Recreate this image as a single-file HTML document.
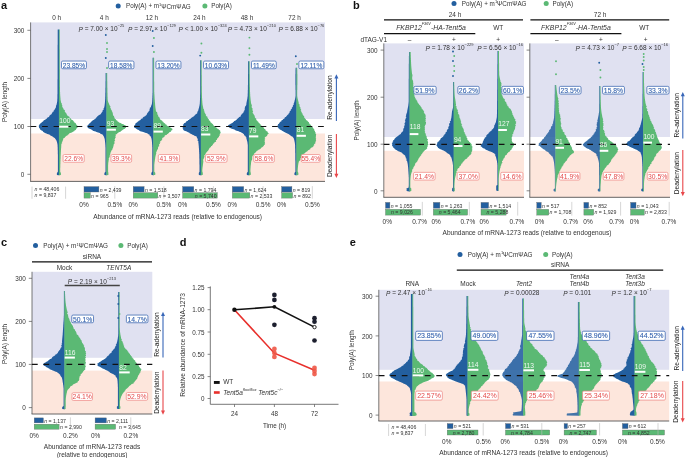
<!DOCTYPE html>
<html><head><meta charset="utf-8"><style>
html,body{margin:0;padding:0;background:#fff;width:685px;height:458px;overflow:hidden}
svg{display:block;will-change:transform}
text{font-family:"Liberation Sans", sans-serif}
</style></head><body>
<svg width="685" height="458" viewBox="0 0 685 458">
<rect width="685" height="458" fill="#fff"/>
<text x="1.00" y="4.60" font-size="11" text-anchor="start" fill="#111" font-weight="bold" dominant-baseline="central">a</text>
<circle cx="118.20" cy="6.10" r="2.5" fill="#235f9f"/>
<text x="126.00" y="5.80" font-size="6.3" text-anchor="start" fill="#333" font-weight="normal" dominant-baseline="central">Poly(A) + m<tspan font-size="4" dy="-1.8">1</tspan><tspan dy="1.8">ΨCmΨAG</tspan></text>
<circle cx="204.90" cy="6.10" r="2.5" fill="#5bb974"/>
<text x="211.20" y="5.80" font-size="6.3" text-anchor="start" fill="#333" font-weight="normal" dominant-baseline="central">Poly(A)</text>
<rect x="30.60" y="22.40" width="294.40" height="96.60" fill="#e0e1f1" rx="0"/>
<rect x="30.60" y="133.50" width="294.40" height="47.90" fill="#fde6dc" rx="0"/>
<line x1="30.60" y1="22.40" x2="30.60" y2="181.40" stroke="#555" stroke-width="0.8"/>
<line x1="27.40" y1="30.30" x2="30.60" y2="30.30" stroke="#555" stroke-width="0.7"/>
<text x="24.40" y="30.50" font-size="6.4" text-anchor="end" fill="#333" font-weight="normal" dominant-baseline="central">300</text>
<line x1="27.40" y1="78.40" x2="30.60" y2="78.40" stroke="#555" stroke-width="0.7"/>
<text x="24.40" y="78.60" font-size="6.4" text-anchor="end" fill="#333" font-weight="normal" dominant-baseline="central">200</text>
<line x1="27.40" y1="126.50" x2="30.60" y2="126.50" stroke="#555" stroke-width="0.7"/>
<text x="24.40" y="126.70" font-size="6.4" text-anchor="end" fill="#333" font-weight="normal" dominant-baseline="central">100</text>
<line x1="27.40" y1="174.30" x2="30.60" y2="174.30" stroke="#555" stroke-width="0.7"/>
<text x="24.40" y="174.50" font-size="6.4" text-anchor="end" fill="#333" font-weight="normal" dominant-baseline="central">0</text>
<line x1="30.20" y1="181.40" x2="325.00" y2="181.40" stroke="#555" stroke-width="0.9"/>
<text x="4.00" y="102.00" font-size="6.4" text-anchor="middle" fill="#333" font-weight="normal" transform="rotate(-90 4.0 102)" dominant-baseline="central">Poly(A) length</text>
<text x="56.70" y="17.60" font-size="6.4" text-anchor="middle" fill="#333" font-weight="normal" dominant-baseline="central">0 h</text>
<text x="104.30" y="17.60" font-size="6.4" text-anchor="middle" fill="#333" font-weight="normal" dominant-baseline="central">4 h</text>
<text x="151.90" y="17.60" font-size="6.4" text-anchor="middle" fill="#333" font-weight="normal" dominant-baseline="central">12 h</text>
<text x="199.40" y="17.60" font-size="6.4" text-anchor="middle" fill="#333" font-weight="normal" dominant-baseline="central">24 h</text>
<text x="247.00" y="17.60" font-size="6.4" text-anchor="middle" fill="#333" font-weight="normal" dominant-baseline="central">48 h</text>
<text x="294.60" y="17.60" font-size="6.4" text-anchor="middle" fill="#333" font-weight="normal" dominant-baseline="central">72 h</text>
<path d="M59.25,29.50 L57.7,29.5 57.7,30.0 57.7,30.5 57.7,31.0 57.7,31.5 57.7,32.0 57.7,32.5 57.7,33.0 57.7,33.5 57.7,34.0 57.7,34.5 57.7,35.0 57.7,35.5 57.7,36.0 57.7,36.5 57.7,37.0 57.7,37.5 57.7,38.0 57.7,38.5 57.7,39.0 57.7,39.5 57.7,40.0 57.7,40.5 57.7,41.0 57.7,41.5 57.7,42.0 57.7,42.5 57.7,43.0 57.7,43.5 57.7,44.0 57.7,44.5 57.6,45.0 57.6,45.5 57.6,46.0 57.6,46.5 57.6,47.0 57.6,47.5 57.6,48.0 57.6,48.5 57.6,49.0 57.6,49.5 57.6,50.0 57.6,50.5 57.6,51.0 57.6,51.5 57.6,52.0 57.6,52.5 57.6,53.0 57.6,53.5 57.6,54.0 57.6,54.5 57.6,55.0 57.6,55.5 57.6,56.0 57.6,56.5 57.6,57.0 57.6,57.5 57.6,58.0 57.6,58.5 57.6,59.0 57.6,59.5 57.6,60.0 57.6,60.5 57.6,61.0 57.6,61.5 57.6,62.0 57.6,62.5 57.6,63.0 57.6,63.5 57.6,64.0 57.6,64.5 57.6,65.0 57.6,65.5 57.6,66.0 57.6,66.5 57.6,67.0 57.6,67.5 57.6,68.0 57.6,68.5 57.6,69.0 57.6,69.5 57.6,70.0 57.6,70.5 57.6,71.0 57.6,71.5 57.6,72.0 57.6,72.5 57.6,73.0 57.6,73.5 57.6,74.0 57.6,74.5 57.6,75.0 57.6,75.5 57.6,76.0 57.6,76.5 57.6,77.0 57.6,77.5 57.6,78.0 57.6,78.5 57.6,79.0 57.5,79.5 57.5,80.0 57.5,80.5 57.5,81.0 57.5,81.5 57.5,82.0 57.5,82.5 57.5,83.0 57.5,83.5 57.5,84.0 57.5,84.5 57.5,85.0 57.5,85.5 57.5,86.0 57.5,86.5 57.5,87.0 57.5,87.5 57.5,88.0 57.5,88.5 57.5,89.0 57.5,89.5 57.5,90.0 57.5,90.5 57.5,91.0 57.5,91.5 57.5,92.0 57.5,92.5 57.5,93.0 57.5,93.5 57.5,94.0 57.4,94.5 57.4,95.0 57.4,95.5 57.4,96.0 57.4,96.5 57.4,97.0 57.4,97.5 57.4,98.0 57.4,98.5 57.3,99.0 57.3,99.5 57.3,100.0 57.3,100.5 57.2,101.0 57.2,101.5 57.1,102.0 57.0,102.5 56.9,103.0 56.8,103.5 56.7,104.0 56.6,104.5 56.5,105.0 56.1,105.5 56.0,106.0 55.9,106.5 56.2,107.0 55.7,107.5 55.6,108.0 55.1,108.5 55.1,109.0 54.5,109.5 54.5,110.0 53.5,110.5 54.0,111.0 53.5,111.5 52.4,112.0 52.7,112.5 51.8,113.0 51.8,113.5 51.9,114.0 50.9,114.5 50.3,115.0 49.8,115.5 49.1,116.0 49.4,116.5 48.7,117.0 47.8,117.5 46.7,118.0 47.0,118.5 46.3,119.0 45.4,119.5 44.5,120.0 43.5,120.5 43.6,121.0 42.8,121.5 42.3,122.0 41.5,122.5 41.3,123.0 40.1,123.5 40.3,124.0 39.5,124.5 39.0,125.0 39.2,125.5 38.6,126.0 39.0,126.5 38.9,127.0 39.0,127.5 39.2,128.0 39.8,128.5 40.2,129.0 40.2,129.5 40.6,130.0 41.7,130.5 42.8,131.0 42.9,131.5 43.3,132.0 44.2,132.5 45.0,133.0 46.3,133.5 47.4,134.0 49.2,134.5 50.0,135.0 50.4,135.5 51.6,136.0 52.5,136.5 53.3,137.0 53.7,137.5 54.7,138.0 55.2,138.5 55.2,139.0 55.9,139.5 56.2,140.0 56.4,140.5 56.6,141.0 56.8,141.5 56.9,142.0 57.1,142.5 57.2,143.0 57.3,143.5 57.4,144.0 57.5,144.5 57.5,145.0 57.6,145.5 57.6,146.0 57.6,146.5 57.6,147.0 57.7,147.5 57.7,148.0 57.7,148.5 57.7,149.0 57.7,149.5 57.7,150.0 57.8,150.5 57.8,151.0 57.8,151.5 57.8,152.0 57.8,152.5 57.8,153.0 57.8,153.5 57.8,154.0 57.9,154.5 57.9,155.0 57.9,155.5 57.9,156.0 57.9,156.5 57.9,157.0 57.9,157.5 57.9,158.0 57.9,158.5 57.9,159.0 57.9,159.5 57.9,160.0 57.9,160.5 57.9,161.0 57.9,161.5 57.9,162.0 57.9,162.5 57.9,163.0 57.9,163.5 57.9,164.0 57.9,164.5 57.9,165.0 57.9,165.5 57.9,166.0 57.9,166.5 57.9,167.0 57.9,167.5 57.9,168.0 57.9,168.5 57.9,169.0 57.9,169.5 57.9,170.0 57.9,170.5 57.9,171.0 57.9,171.5 57.7,172.0 57.3,172.5 56.9,173.0 56.9,173.5 56.9,174.0 56.9,174.5 56.9,175.0 58.6,175.3 L59.25,175.30 Z" fill="#235f9f"/>
<path d="M58.90,29.50 L59.6,29.5 59.6,30.0 59.6,30.5 59.6,31.0 59.6,31.5 59.6,32.0 59.6,32.5 59.6,33.0 59.6,33.5 59.6,34.0 59.6,34.5 59.6,35.0 59.6,35.5 59.6,36.0 59.6,36.5 59.6,37.0 59.6,37.5 59.6,38.0 59.6,38.5 59.6,39.0 59.6,39.5 59.6,40.0 59.6,40.5 59.6,41.0 59.6,41.5 59.6,42.0 59.6,42.5 59.6,43.0 59.6,43.5 59.6,44.0 59.6,44.5 59.6,45.0 59.6,45.5 59.6,46.0 59.6,46.5 59.6,47.0 59.6,47.5 59.6,48.0 59.6,48.5 59.6,49.0 59.7,49.5 59.7,50.0 59.7,50.5 59.7,51.0 59.7,51.5 59.7,52.0 59.7,52.5 59.7,53.0 59.7,53.5 59.7,54.0 59.7,54.5 59.7,55.0 59.7,55.5 59.7,56.0 59.7,56.5 59.7,57.0 59.7,57.5 59.7,58.0 59.7,58.5 59.7,59.0 59.7,59.5 59.7,60.0 59.7,60.5 59.7,61.0 59.7,61.5 59.7,62.0 59.7,62.5 59.7,63.0 59.7,63.5 59.7,64.0 59.7,64.5 59.7,65.0 59.7,65.5 59.7,66.0 59.7,66.5 59.7,67.0 59.7,67.5 59.7,68.0 59.7,68.5 59.7,69.0 59.8,69.5 59.8,70.0 59.8,70.5 59.8,71.0 59.8,71.5 59.8,72.0 59.8,72.5 59.8,73.0 59.8,73.5 59.8,74.0 59.8,74.5 59.8,75.0 59.8,75.5 59.8,76.0 59.8,76.5 59.8,77.0 59.8,77.5 59.8,78.0 59.8,78.5 59.8,79.0 59.8,79.5 59.8,80.0 59.9,80.5 59.9,81.0 59.9,81.5 59.9,82.0 59.9,82.5 59.9,83.0 59.9,83.5 59.9,84.0 59.9,84.5 59.9,85.0 59.9,85.5 59.9,86.0 59.9,86.5 59.9,87.0 60.0,87.5 60.0,88.0 60.0,88.5 60.0,89.0 60.0,89.5 60.0,90.0 60.0,90.5 60.0,91.0 60.0,91.5 60.1,92.0 60.1,92.5 60.1,93.0 60.1,93.5 60.1,94.0 60.2,94.5 60.2,95.0 60.2,95.5 60.3,96.0 60.3,96.5 60.3,97.0 60.4,97.5 60.4,98.0 60.5,98.5 60.5,99.0 60.5,99.5 60.6,100.0 60.7,100.5 60.8,101.0 60.9,101.5 61.0,102.0 61.1,102.5 61.3,103.0 62.0,103.5 61.5,104.0 61.9,104.5 62.2,105.0 62.2,105.5 62.4,106.0 62.1,106.5 62.4,107.0 62.8,107.5 62.8,108.0 63.7,108.5 63.1,109.0 63.9,109.5 64.5,110.0 64.9,110.5 65.1,111.0 64.7,111.5 64.9,112.0 65.6,112.5 66.1,113.0 66.3,113.5 66.7,114.0 66.8,114.5 66.9,115.0 67.4,115.5 68.0,116.0 68.9,116.5 69.6,117.0 69.4,117.5 70.0,118.0 70.9,118.5 70.9,119.0 71.2,119.5 72.4,120.0 73.0,120.5 73.5,121.0 73.6,121.5 74.5,122.0 74.1,122.5 75.6,123.0 75.7,123.5 76.2,124.0 76.2,124.5 76.6,125.0 77.1,125.5 77.6,126.0 77.8,126.5 77.6,127.0 77.4,127.5 77.3,128.0 76.2,128.5 76.4,129.0 75.8,129.5 75.8,130.0 74.3,130.5 74.6,131.0 73.4,131.5 72.6,132.0 71.9,132.5 70.2,133.0 69.1,133.5 69.0,134.0 68.3,134.5 67.6,135.0 67.4,135.5 66.0,136.0 65.8,136.5 65.0,137.0 65.0,137.5 64.1,138.0 63.2,138.5 63.2,139.0 63.1,139.5 63.1,140.0 62.8,140.5 62.4,141.0 62.6,141.5 61.9,142.0 61.8,142.5 62.4,143.0 61.7,143.5 61.3,144.0 61.5,144.5 61.0,145.0 61.4,145.5 61.3,146.0 61.2,146.5 61.2,147.0 61.2,147.5 61.1,148.0 61.1,148.5 61.0,149.0 61.0,149.5 61.0,150.0 60.9,150.5 60.9,151.0 60.9,151.5 60.8,152.0 60.8,152.5 60.8,153.0 60.8,153.5 60.7,154.0 60.7,154.5 60.7,155.0 60.7,155.5 60.6,156.0 60.6,156.5 60.6,157.0 60.6,157.5 60.6,158.0 60.6,158.5 60.5,159.0 60.5,159.5 60.5,160.0 60.5,160.5 60.5,161.0 60.4,161.5 60.4,162.0 60.4,162.5 60.4,163.0 60.4,163.5 60.4,164.0 60.3,164.5 60.3,165.0 60.3,165.5 60.3,166.0 60.3,166.5 60.3,167.0 60.3,167.5 60.2,168.0 60.2,168.5 60.2,169.0 60.2,169.5 60.2,170.0 60.2,170.5 60.2,171.0 60.2,171.5 60.3,172.0 60.6,172.5 60.9,173.0 60.9,173.5 60.9,174.0 60.9,174.5 60.9,175.0 59.2,175.3 L58.90,175.30 Z" fill="#5bb974"/>
<path d="M106.75,73.00 L105.6,73.0 105.6,73.5 105.6,74.0 105.6,74.5 105.6,75.0 105.6,75.5 105.6,76.0 105.6,76.5 105.6,77.0 105.6,77.5 105.6,78.0 105.6,78.5 105.6,79.0 105.6,79.5 105.6,80.0 105.6,80.5 105.6,81.0 105.5,81.5 105.5,82.0 105.5,82.5 105.5,83.0 105.5,83.5 105.5,84.0 105.5,84.5 105.5,85.0 105.5,85.5 105.5,86.0 105.5,86.5 105.5,87.0 105.5,87.5 105.4,88.0 105.4,88.5 105.4,89.0 105.4,89.5 105.4,90.0 105.4,90.5 105.4,91.0 105.4,91.5 105.4,92.0 105.4,92.5 105.3,93.0 105.3,93.5 105.3,94.0 105.3,94.5 105.3,95.0 105.3,95.5 105.3,96.0 105.3,96.5 105.2,97.0 105.2,97.5 105.2,98.0 105.2,98.5 105.2,99.0 105.1,99.5 105.1,100.0 105.1,100.5 105.0,101.0 105.0,101.5 105.0,102.0 104.9,102.5 104.9,103.0 104.8,103.5 104.8,104.0 104.7,104.5 104.6,105.0 104.6,105.5 104.5,106.0 104.4,106.5 104.3,107.0 104.2,107.5 104.0,108.0 103.5,108.5 103.5,109.0 103.9,109.5 102.9,110.0 102.6,110.5 102.6,111.0 102.7,111.5 101.9,112.0 102.0,112.5 101.1,113.0 101.3,113.5 100.7,114.0 100.3,114.5 99.1,115.0 98.4,115.5 97.9,116.0 97.0,116.5 97.4,117.0 96.1,117.5 96.1,118.0 95.6,118.5 94.9,119.0 94.3,119.5 93.5,120.0 92.4,120.5 92.3,121.0 91.4,121.5 91.0,122.0 90.4,122.5 90.4,123.0 89.2,123.5 89.0,124.0 88.5,124.5 88.1,125.0 87.8,125.5 86.6,126.0 87.2,126.5 87.5,127.0 87.6,127.5 88.2,128.0 88.8,128.5 90.4,129.0 91.3,129.5 92.2,130.0 92.6,130.5 93.5,131.0 95.6,131.5 96.5,132.0 98.0,132.5 99.8,133.0 100.1,133.5 101.1,134.0 102.5,134.5 102.9,135.0 103.2,135.5 103.4,136.0 103.9,136.5 103.9,137.0 104.2,137.5 104.4,138.0 104.5,138.5 104.7,139.0 104.8,139.5 104.8,140.0 104.9,140.5 105.0,141.0 105.0,141.5 105.1,142.0 105.1,142.5 105.2,143.0 105.2,143.5 105.3,144.0 105.3,144.5 105.3,145.0 105.4,145.5 105.4,146.0 105.4,146.5 105.4,147.0 105.5,147.5 105.5,148.0 105.5,148.5 105.5,149.0 105.5,149.5 105.5,150.0 105.5,150.5 105.5,151.0 105.5,151.5 105.5,152.0 105.5,152.5 105.5,153.0 105.5,153.5 105.5,154.0 105.5,154.5 105.5,155.0 105.5,155.5 105.5,156.0 105.5,156.5 105.5,157.0 105.5,157.5 105.5,158.0 105.5,158.5 105.5,159.0 105.5,159.5 105.5,160.0 105.5,160.5 105.5,161.0 105.5,161.5 105.5,162.0 105.5,162.5 105.5,163.0 105.5,163.5 105.5,164.0 105.5,164.5 105.5,165.0 105.5,165.5 105.5,166.0 105.5,166.5 105.5,167.0 105.5,167.5 105.5,168.0 105.5,168.5 105.5,169.0 105.5,169.5 105.5,170.0 105.5,170.5 105.5,171.0 105.5,171.5 105.3,172.0 104.8,172.5 104.4,173.0 104.4,173.5 104.4,174.0 104.4,174.5 104.4,175.0 106.1,175.3 L106.75,175.30 Z" fill="#235f9f"/>
<path d="M106.40,73.00 L107.2,73.0 107.2,73.5 107.2,74.0 107.2,74.5 107.2,75.0 107.2,75.5 107.2,76.0 107.2,76.5 107.2,77.0 107.2,77.5 107.2,78.0 107.2,78.5 107.2,79.0 107.2,79.5 107.2,80.0 107.2,80.5 107.2,81.0 107.3,81.5 107.3,82.0 107.3,82.5 107.3,83.0 107.3,83.5 107.3,84.0 107.3,84.5 107.3,85.0 107.3,85.5 107.3,86.0 107.3,86.5 107.3,87.0 107.3,87.5 107.4,88.0 107.4,88.5 107.4,89.0 107.4,89.5 107.4,90.0 107.4,90.5 107.4,91.0 107.4,91.5 107.4,92.0 107.4,92.5 107.5,93.0 107.5,93.5 107.5,94.0 107.5,94.5 107.5,95.0 107.5,95.5 107.5,96.0 107.5,96.5 107.6,97.0 107.6,97.5 107.6,98.0 107.6,98.5 107.6,99.0 107.7,99.5 107.7,100.0 107.8,100.5 107.9,101.0 108.0,101.5 108.2,102.0 108.4,102.5 108.6,103.0 108.9,103.5 109.0,104.0 108.9,104.5 110.1,105.0 109.5,105.5 109.8,106.0 110.7,106.5 110.3,107.0 110.1,107.5 110.6,108.0 110.6,108.5 111.2,109.0 110.7,109.5 111.7,110.0 111.7,110.5 111.7,111.0 112.1,111.5 112.4,112.0 112.6,112.5 112.6,113.0 112.8,113.5 113.1,114.0 112.8,114.5 113.0,115.0 113.1,115.5 114.0,116.0 114.0,116.5 114.3,117.0 114.4,117.5 114.4,118.0 114.8,118.5 115.2,119.0 116.1,119.5 116.0,120.0 116.9,120.5 117.7,121.0 117.4,121.5 118.9,122.0 118.7,122.5 120.6,123.0 121.2,123.5 122.3,124.0 123.9,124.5 124.3,125.0 125.6,125.5 126.0,126.0 126.0,126.5 125.9,127.0 126.1,127.5 125.5,128.0 125.0,128.5 124.4,129.0 123.1,129.5 122.5,130.0 121.9,130.5 121.1,131.0 120.8,131.5 119.7,132.0 118.3,132.5 118.2,133.0 117.0,133.5 117.0,134.0 115.7,134.5 115.5,135.0 115.8,135.5 115.9,136.0 115.2,136.5 115.6,137.0 115.9,137.5 115.0,138.0 115.2,138.5 114.9,139.0 114.7,139.5 114.6,140.0 115.3,140.5 114.6,141.0 114.3,141.5 114.6,142.0 114.3,142.5 114.7,143.0 114.4,143.5 114.2,144.0 113.8,144.5 113.3,145.0 113.8,145.5 113.4,146.0 113.5,146.5 112.9,147.0 113.2,147.5 113.0,148.0 112.3,148.5 112.8,149.0 112.2,149.5 112.0,150.0 111.3,150.5 111.5,151.0 110.9,151.5 110.9,152.0 110.6,152.5 110.4,153.0 110.4,153.5 110.3,154.0 110.3,154.5 109.8,155.0 109.7,155.5 109.9,156.0 109.6,156.5 109.7,157.0 109.1,157.5 109.3,158.0 108.5,158.5 108.9,159.0 108.8,159.5 108.7,160.0 108.6,160.5 108.6,161.0 108.5,161.5 108.4,162.0 108.3,162.5 108.3,163.0 108.2,163.5 108.2,164.0 108.2,164.5 108.1,165.0 108.1,165.5 108.1,166.0 108.1,166.5 108.1,167.0 108.1,167.5 108.1,168.0 108.1,168.5 108.1,169.0 108.1,169.5 108.1,170.0 108.1,170.5 108.1,171.0 108.1,171.5 108.2,172.0 108.3,172.5 108.4,173.0 108.4,173.5 108.4,174.0 108.4,174.5 108.4,175.0 106.7,175.3 L106.40,175.30 Z" fill="#5bb974"/>
<circle cx="105.80" cy="35.00" r="0.95" fill="#235f9f"/>
<circle cx="107.00" cy="43.00" r="0.95" fill="#5bb974"/>
<circle cx="107.00" cy="49.00" r="0.95" fill="#5bb974"/>
<circle cx="107.00" cy="52.00" r="0.95" fill="#5bb974"/>
<circle cx="105.80" cy="58.00" r="0.95" fill="#235f9f"/>
<circle cx="107.00" cy="68.00" r="0.95" fill="#5bb974"/>
<path d="M153.65,57.80 L152.6,57.8 152.6,58.3 152.6,58.8 152.6,59.3 152.6,59.8 152.6,60.3 152.6,60.8 152.6,61.3 152.6,61.8 152.6,62.3 152.6,62.8 152.6,63.3 152.6,63.8 152.6,64.3 152.6,64.8 152.6,65.3 152.6,65.8 152.6,66.3 152.6,66.8 152.6,67.3 152.6,67.8 152.6,68.3 152.6,68.8 152.6,69.3 152.6,69.8 152.6,70.3 152.6,70.8 152.6,71.3 152.6,71.8 152.6,72.3 152.6,72.8 152.6,73.3 152.6,73.8 152.6,74.3 152.6,74.8 152.6,75.3 152.6,75.8 152.6,76.3 152.6,76.8 152.6,77.3 152.6,77.8 152.6,78.3 152.6,78.8 152.6,79.3 152.6,79.8 152.6,80.3 152.6,80.8 152.6,81.3 152.6,81.8 152.6,82.3 152.6,82.8 152.6,83.3 152.6,83.8 152.6,84.3 152.6,84.8 152.6,85.3 152.6,85.8 152.6,86.3 152.6,86.8 152.6,87.3 152.6,87.8 152.6,88.3 152.6,88.8 152.6,89.3 152.6,89.8 152.6,90.3 152.6,90.8 152.6,91.3 152.6,91.8 152.6,92.3 152.6,92.8 152.5,93.3 152.5,93.8 152.5,94.3 152.5,94.8 152.5,95.3 152.4,95.8 152.4,96.3 152.4,96.8 152.4,97.3 152.4,97.8 152.3,98.3 152.3,98.8 152.3,99.3 152.3,99.8 152.2,100.3 152.2,100.8 152.2,101.3 152.1,101.8 152.1,102.3 152.0,102.8 152.0,103.3 151.9,103.8 151.8,104.3 151.6,104.8 151.4,105.3 151.2,105.8 151.0,106.3 151.0,106.8 150.9,107.3 149.8,107.8 149.9,108.3 149.8,108.8 149.6,109.3 149.5,109.8 149.5,110.3 149.5,110.8 148.4,111.3 148.8,111.8 148.1,112.3 147.6,112.8 147.3,113.3 147.0,113.8 146.7,114.3 146.8,114.8 146.2,115.3 145.5,115.8 145.1,116.3 143.9,116.8 143.2,117.3 142.7,117.8 142.9,118.3 141.4,118.8 140.9,119.3 140.5,119.8 140.1,120.3 138.7,120.8 138.5,121.3 137.6,121.8 137.3,122.3 136.4,122.8 136.0,123.3 135.1,123.8 135.5,124.3 135.0,124.8 134.9,125.3 133.9,125.8 134.4,126.3 133.9,126.8 134.1,127.3 134.6,127.8 135.7,128.3 136.3,128.8 136.9,129.3 138.0,129.8 139.1,130.3 139.4,130.8 140.3,131.3 142.4,131.8 144.0,132.3 145.1,132.8 147.1,133.3 147.8,133.8 148.4,134.3 149.7,134.8 149.4,135.3 149.9,135.8 150.2,136.3 151.2,136.8 151.0,137.3 151.2,137.8 151.4,138.3 151.5,138.8 151.6,139.3 151.7,139.8 151.8,140.3 151.8,140.8 151.9,141.3 151.9,141.8 152.0,142.3 152.0,142.8 152.0,143.3 152.1,143.8 152.1,144.3 152.1,144.8 152.2,145.3 152.2,145.8 152.2,146.3 152.2,146.8 152.3,147.3 152.3,147.8 152.3,148.3 152.3,148.8 152.3,149.3 152.3,149.8 152.3,150.3 152.3,150.8 152.3,151.3 152.3,151.8 152.3,152.3 152.3,152.8 152.3,153.3 152.3,153.8 152.3,154.3 152.3,154.8 152.3,155.3 152.3,155.8 152.3,156.3 152.3,156.8 152.3,157.3 152.3,157.8 152.3,158.3 152.3,158.8 152.3,159.3 152.3,159.8 152.3,160.3 152.3,160.8 152.3,161.3 152.3,161.8 152.3,162.3 152.3,162.8 152.3,163.3 152.3,163.8 152.3,164.3 152.3,164.8 152.3,165.3 152.3,165.8 152.3,166.3 152.3,166.8 152.3,167.3 152.3,167.8 152.3,168.3 152.3,168.8 152.3,169.3 152.3,169.8 152.3,170.3 152.3,170.8 152.3,171.3 152.2,171.8 151.8,172.3 151.4,172.8 151.3,173.3 151.3,173.8 151.3,174.3 151.3,174.8 153.0,175.3 153.0,175.3 L153.65,175.30 Z" fill="#235f9f"/>
<path d="M153.30,57.80 L154.1,57.8 154.1,58.3 154.1,58.8 154.1,59.3 154.1,59.8 154.1,60.3 154.1,60.8 154.1,61.3 154.1,61.8 154.1,62.3 154.1,62.8 154.1,63.3 154.1,63.8 154.1,64.3 154.1,64.8 154.1,65.3 154.1,65.8 154.1,66.3 154.1,66.8 154.1,67.3 154.1,67.8 154.1,68.3 154.1,68.8 154.1,69.3 154.1,69.8 154.1,70.3 154.1,70.8 154.1,71.3 154.1,71.8 154.1,72.3 154.1,72.8 154.1,73.3 154.1,73.8 154.1,74.3 154.1,74.8 154.1,75.3 154.1,75.8 154.1,76.3 154.1,76.8 154.1,77.3 154.1,77.8 154.1,78.3 154.1,78.8 154.1,79.3 154.1,79.8 154.1,80.3 154.1,80.8 154.1,81.3 154.2,81.8 154.2,82.3 154.2,82.8 154.2,83.3 154.2,83.8 154.2,84.3 154.2,84.8 154.2,85.3 154.2,85.8 154.2,86.3 154.2,86.8 154.2,87.3 154.2,87.8 154.2,88.3 154.2,88.8 154.2,89.3 154.2,89.8 154.2,90.3 154.2,90.8 154.2,91.3 154.2,91.8 154.3,92.3 154.3,92.8 154.3,93.3 154.3,93.8 154.4,94.3 154.4,94.8 154.4,95.3 154.5,95.8 154.5,96.3 154.5,96.8 154.5,97.3 154.6,97.8 154.6,98.3 154.6,98.8 154.7,99.3 154.7,99.8 154.8,100.3 154.8,100.8 154.8,101.3 154.9,101.8 154.9,102.3 155.0,102.8 155.0,103.3 155.1,103.8 155.1,104.3 155.1,104.8 155.2,105.3 155.2,105.8 155.3,106.3 155.3,106.8 155.4,107.3 155.4,107.8 155.5,108.3 155.6,108.8 155.7,109.3 155.8,109.8 155.6,110.3 156.1,110.8 156.1,111.3 156.2,111.8 157.1,112.3 157.3,112.8 157.0,113.3 157.7,113.8 156.9,114.3 158.2,114.8 158.2,115.3 158.0,115.8 158.0,116.3 158.8,116.8 159.2,117.3 159.6,117.8 159.6,118.3 160.0,118.8 160.0,119.3 160.6,119.8 161.3,120.3 162.2,120.8 162.2,121.3 163.1,121.8 163.6,122.3 163.6,122.8 164.6,123.3 165.3,123.8 165.3,124.3 166.7,124.8 166.5,125.3 167.2,125.8 168.0,126.3 168.7,126.8 169.9,127.3 170.9,127.8 171.4,128.3 172.3,128.8 172.4,129.3 172.4,129.8 172.1,130.3 170.7,130.8 171.2,131.3 170.7,131.8 169.3,132.3 169.1,132.8 168.4,133.3 168.1,133.8 166.9,134.3 167.0,134.8 165.2,135.3 164.6,135.8 164.7,136.3 164.3,136.8 163.8,137.3 162.7,137.8 162.0,138.3 162.4,138.8 162.3,139.3 161.9,139.8 161.5,140.3 161.4,140.8 160.4,141.3 160.0,141.8 160.6,142.3 159.7,142.8 159.9,143.3 160.0,143.8 158.9,144.3 159.3,144.8 159.0,145.3 159.3,145.8 159.1,146.3 158.2,146.8 158.2,147.3 157.9,147.8 158.0,148.3 158.1,148.8 157.5,149.3 157.5,149.8 157.0,150.3 156.9,150.8 156.7,151.3 156.5,151.8 156.2,152.3 156.1,152.8 156.3,153.3 156.2,153.8 155.7,154.3 156.1,154.8 155.7,155.3 155.6,155.8 155.5,156.3 155.4,156.8 155.3,157.3 155.2,157.8 155.2,158.3 155.1,158.8 155.0,159.3 154.9,159.8 154.9,160.3 154.8,160.8 154.7,161.3 154.7,161.8 154.6,162.3 154.5,162.8 154.5,163.3 154.4,163.8 154.4,164.3 154.3,164.8 154.3,165.3 154.3,165.8 154.3,166.3 154.3,166.8 154.3,167.3 154.3,167.8 154.3,168.3 154.3,168.8 154.3,169.3 154.3,169.8 154.3,170.3 154.3,170.8 154.3,171.3 154.4,171.8 154.8,172.3 155.2,172.8 155.3,173.3 155.3,173.8 155.3,174.3 155.3,174.8 153.6,175.3 153.6,175.3 L153.30,175.30 Z" fill="#5bb974"/>
<circle cx="152.70" cy="31.00" r="0.95" fill="#235f9f"/>
<circle cx="153.90" cy="38.00" r="0.95" fill="#5bb974"/>
<circle cx="152.70" cy="46.00" r="0.95" fill="#235f9f"/>
<circle cx="153.90" cy="52.00" r="0.95" fill="#5bb974"/>
<path d="M201.15,60.20 L200.2,60.2 200.2,60.7 200.2,61.2 200.2,61.7 200.2,62.2 200.2,62.7 200.2,63.2 200.2,63.7 200.2,64.2 200.2,64.7 200.2,65.2 200.2,65.7 200.2,66.2 200.2,66.7 200.2,67.2 200.2,67.7 200.2,68.2 200.2,68.7 200.2,69.2 200.2,69.7 200.2,70.2 200.2,70.7 200.2,71.2 200.2,71.7 200.2,72.2 200.2,72.7 200.2,73.2 200.2,73.7 200.2,74.2 200.2,74.7 200.2,75.2 200.2,75.7 200.2,76.2 200.2,76.7 200.2,77.2 200.2,77.7 200.2,78.2 200.2,78.7 200.2,79.2 200.2,79.7 200.2,80.2 200.2,80.7 200.2,81.2 200.2,81.7 200.2,82.2 200.2,82.7 200.2,83.2 200.2,83.7 200.2,84.2 200.2,84.7 200.2,85.2 200.2,85.7 200.2,86.2 200.2,86.7 200.2,87.2 200.2,87.7 200.2,88.2 200.2,88.7 200.2,89.2 200.2,89.7 200.2,90.2 200.2,90.7 200.2,91.2 200.2,91.7 200.2,92.2 200.2,92.7 200.2,93.2 200.2,93.7 200.2,94.2 200.1,94.7 200.1,95.2 200.1,95.7 200.1,96.2 200.1,96.7 200.1,97.2 200.1,97.7 200.0,98.2 200.0,98.7 200.0,99.2 200.0,99.7 200.0,100.2 199.9,100.7 199.9,101.2 199.9,101.7 199.9,102.2 199.8,102.7 199.8,103.2 199.8,103.7 199.7,104.2 199.6,104.7 199.5,105.2 199.5,105.7 199.3,106.2 199.2,106.7 199.1,107.2 199.0,107.7 198.8,108.2 198.7,108.7 198.6,109.2 198.4,109.7 197.8,110.2 198.6,110.7 197.8,111.2 197.4,111.7 197.1,112.2 197.5,112.7 197.2,113.2 196.7,113.7 195.6,114.2 195.4,114.7 194.7,115.2 194.4,115.7 194.0,116.2 193.0,116.7 192.3,117.2 191.5,117.7 191.0,118.2 190.6,118.7 189.3,119.2 189.4,119.7 187.8,120.2 188.0,120.7 186.7,121.2 185.9,121.7 186.1,122.2 185.2,122.7 184.1,123.2 183.8,123.7 183.8,124.2 182.7,124.7 183.3,125.2 183.2,125.7 182.3,126.2 182.5,126.7 182.9,127.2 182.6,127.7 182.5,128.2 183.2,128.7 183.3,129.2 183.1,129.7 183.7,130.2 184.5,130.7 186.1,131.2 187.2,131.7 188.0,132.2 189.4,132.7 189.6,133.2 190.7,133.7 191.8,134.2 192.5,134.7 193.9,135.2 194.4,135.7 196.0,136.2 196.8,136.7 196.7,137.2 197.1,137.7 197.0,138.2 197.9,138.7 197.7,139.2 197.8,139.7 197.5,140.2 197.7,140.7 198.4,141.2 198.4,141.7 198.3,142.2 198.4,142.7 198.5,143.2 198.5,143.7 198.6,144.2 198.6,144.7 198.7,145.2 198.7,145.7 198.8,146.2 198.8,146.7 198.8,147.2 198.9,147.7 198.9,148.2 199.0,148.7 199.0,149.2 199.0,149.7 199.1,150.2 199.1,150.7 199.1,151.2 199.1,151.7 199.2,152.2 199.2,152.7 199.2,153.2 199.2,153.7 199.3,154.2 199.3,154.7 199.3,155.2 199.3,155.7 199.3,156.2 199.3,156.7 199.3,157.2 199.3,157.7 199.3,158.2 199.4,158.7 199.4,159.2 199.4,159.7 199.4,160.2 199.4,160.7 199.4,161.2 199.4,161.7 199.4,162.2 199.4,162.7 199.4,163.2 199.4,163.7 199.4,164.2 199.5,164.7 199.5,165.2 199.5,165.7 199.5,166.2 199.5,166.7 199.5,167.2 199.5,167.7 199.5,168.2 199.5,168.7 199.5,169.2 199.5,169.7 199.5,170.2 199.5,170.7 199.5,171.2 199.5,171.7 199.2,172.2 198.9,172.7 198.8,173.2 198.8,173.7 198.8,174.2 198.8,174.7 199.8,175.2 200.5,175.3 L201.15,175.30 Z" fill="#235f9f"/>
<path d="M200.80,60.20 L201.6,60.2 201.6,60.7 201.6,61.2 201.6,61.7 201.6,62.2 201.6,62.7 201.6,63.2 201.6,63.7 201.6,64.2 201.6,64.7 201.6,65.2 201.6,65.7 201.6,66.2 201.6,66.7 201.6,67.2 201.6,67.7 201.6,68.2 201.6,68.7 201.6,69.2 201.6,69.7 201.6,70.2 201.6,70.7 201.6,71.2 201.6,71.7 201.6,72.2 201.6,72.7 201.6,73.2 201.6,73.7 201.6,74.2 201.6,74.7 201.7,75.2 201.7,75.7 201.7,76.2 201.7,76.7 201.7,77.2 201.7,77.7 201.7,78.2 201.7,78.7 201.7,79.2 201.7,79.7 201.7,80.2 201.7,80.7 201.7,81.2 201.7,81.7 201.7,82.2 201.7,82.7 201.7,83.2 201.7,83.7 201.7,84.2 201.7,84.7 201.7,85.2 201.7,85.7 201.8,86.2 201.8,86.7 201.8,87.2 201.8,87.7 201.8,88.2 201.8,88.7 201.8,89.2 201.8,89.7 201.8,90.2 201.8,90.7 201.8,91.2 201.8,91.7 201.8,92.2 201.9,92.7 201.9,93.2 201.9,93.7 201.9,94.2 201.9,94.7 201.9,95.2 202.0,95.7 202.0,96.2 202.0,96.7 202.0,97.2 202.0,97.7 202.1,98.2 202.1,98.7 202.1,99.2 202.2,99.7 202.2,100.2 202.2,100.7 202.3,101.2 202.3,101.7 202.3,102.2 202.4,102.7 202.4,103.2 202.5,103.7 202.5,104.2 202.6,104.7 202.7,105.2 202.8,105.7 202.9,106.2 203.0,106.7 203.1,107.2 203.2,107.7 203.2,108.2 203.4,108.7 204.0,109.2 203.9,109.7 203.8,110.2 204.3,110.7 204.7,111.2 204.1,111.7 204.3,112.2 205.0,112.7 205.1,113.2 205.3,113.7 205.5,114.2 206.2,114.7 205.8,115.2 206.0,115.7 206.5,116.2 207.5,116.7 207.3,117.2 207.6,117.7 208.0,118.2 207.8,118.7 209.1,119.2 208.7,119.7 208.8,120.2 209.9,120.7 210.2,121.2 210.4,121.7 210.4,122.2 211.3,122.7 211.7,123.2 212.3,123.7 213.0,124.2 213.1,124.7 213.8,125.2 213.5,125.7 214.7,126.2 214.7,126.7 215.7,127.2 216.7,127.7 216.8,128.2 217.6,128.7 218.7,129.2 218.8,129.7 219.6,130.2 220.3,130.7 220.3,131.2 220.2,131.7 220.6,132.2 220.7,132.7 220.5,133.2 219.8,133.7 220.1,134.2 219.3,134.7 219.8,135.2 219.5,135.7 218.8,136.2 219.1,136.7 218.5,137.2 218.1,137.7 217.4,138.2 217.3,138.7 216.9,139.2 217.1,139.7 215.9,140.2 215.8,140.7 216.2,141.2 215.8,141.7 214.8,142.2 214.1,142.7 214.2,143.2 213.1,143.7 212.7,144.2 213.1,144.7 212.1,145.2 212.3,145.7 210.9,146.2 211.1,146.7 210.6,147.2 209.7,147.7 209.6,148.2 208.9,148.7 209.0,149.2 208.6,149.7 208.2,150.2 208.2,150.7 207.0,151.2 207.5,151.7 206.6,152.2 206.1,152.7 205.8,153.2 205.6,153.7 205.6,154.2 205.1,154.7 204.4,155.2 204.3,155.7 204.3,156.2 204.7,156.7 204.2,157.2 204.1,157.7 204.1,158.2 203.5,158.7 203.3,159.2 203.2,159.7 203.3,160.2 203.0,160.7 203.8,161.2 202.9,161.7 203.3,162.2 203.2,162.7 203.1,163.2 203.1,163.7 203.0,164.2 202.9,164.7 202.9,165.2 202.8,165.7 202.7,166.2 202.7,166.7 202.6,167.2 202.5,167.7 202.5,168.2 202.4,168.7 202.4,169.2 202.3,169.7 202.3,170.2 202.3,170.7 202.3,171.2 202.4,171.7 202.6,172.2 202.7,172.7 202.8,173.2 202.8,173.7 202.8,174.2 202.8,174.7 201.8,175.2 201.1,175.3 L200.80,175.30 Z" fill="#5bb974"/>
<circle cx="201.40" cy="43.50" r="0.95" fill="#5bb974"/>
<circle cx="201.40" cy="52.80" r="0.95" fill="#5bb974"/>
<circle cx="200.20" cy="55.60" r="0.95" fill="#235f9f"/>
<path d="M249.15,61.20 L248.1,61.2 248.1,61.7 248.1,62.2 248.1,62.7 248.1,63.2 248.1,63.7 248.1,64.2 248.1,64.7 248.1,65.2 248.1,65.7 248.1,66.2 248.1,66.7 248.1,67.2 248.1,67.7 248.1,68.2 248.1,68.7 248.1,69.2 248.1,69.7 248.1,70.2 248.1,70.7 248.1,71.2 248.1,71.7 248.1,72.2 248.1,72.7 248.1,73.2 248.1,73.7 248.0,74.2 248.0,74.7 248.0,75.2 248.0,75.7 248.0,76.2 248.0,76.7 248.0,77.2 248.0,77.7 248.0,78.2 248.0,78.7 248.0,79.2 248.0,79.7 248.0,80.2 248.0,80.7 248.0,81.2 248.0,81.7 248.0,82.2 248.0,82.7 248.0,83.2 248.0,83.7 248.0,84.2 248.0,84.7 247.9,85.2 247.9,85.7 247.9,86.2 247.9,86.7 247.9,87.2 247.9,87.7 247.9,88.2 247.9,88.7 247.9,89.2 247.9,89.7 247.8,90.2 247.8,90.7 247.8,91.2 247.8,91.7 247.8,92.2 247.8,92.7 247.8,93.2 247.7,93.7 247.7,94.2 247.7,94.7 247.7,95.2 247.7,95.7 247.6,96.2 247.6,96.7 247.5,97.2 247.4,97.7 247.4,98.2 247.3,98.7 247.2,99.2 247.1,99.7 247.0,100.2 246.9,100.7 246.8,101.2 246.7,101.7 246.6,102.2 246.5,102.7 246.4,103.2 246.4,103.7 246.2,104.2 246.5,104.7 245.6,105.2 246.3,105.7 245.2,106.2 245.2,106.7 244.7,107.2 245.2,107.7 244.4,108.2 245.0,108.7 244.9,109.2 244.6,109.7 244.4,110.2 244.2,110.7 244.2,111.2 243.5,111.7 243.4,112.2 243.4,112.7 243.0,113.2 241.9,113.7 241.6,114.2 241.5,114.7 240.9,115.2 240.7,115.7 240.9,116.2 239.9,116.7 238.8,117.2 238.8,117.7 237.8,118.2 237.6,118.7 236.8,119.2 236.6,119.7 236.0,120.2 235.0,120.7 233.9,121.2 233.9,121.7 233.0,122.2 232.7,122.7 231.8,123.2 230.6,123.7 230.2,124.2 228.9,124.7 228.4,125.2 228.0,125.7 228.1,126.2 228.2,126.7 229.1,127.2 229.5,127.7 230.7,128.2 231.8,128.7 233.6,129.2 234.9,129.7 235.3,130.2 236.6,130.7 238.6,131.2 239.4,131.7 241.0,132.2 241.6,132.7 242.7,133.2 243.2,133.7 244.1,134.2 243.9,134.7 244.1,135.2 245.1,135.7 245.9,136.2 245.3,136.7 246.0,137.2 246.6,137.7 246.3,138.2 246.5,138.7 246.6,139.2 246.8,139.7 246.9,140.2 247.0,140.7 247.2,141.2 247.3,141.7 247.4,142.2 247.5,142.7 247.5,143.2 247.6,143.7 247.7,144.2 247.7,144.7 247.8,145.2 247.8,145.7 247.8,146.2 247.8,146.7 247.8,147.2 247.8,147.7 247.8,148.2 247.8,148.7 247.8,149.2 247.8,149.7 247.8,150.2 247.8,150.7 247.8,151.2 247.8,151.7 247.8,152.2 247.8,152.7 247.8,153.2 247.8,153.7 247.8,154.2 247.8,154.7 247.8,155.2 247.8,155.7 247.8,156.2 247.8,156.7 247.8,157.2 247.8,157.7 247.8,158.2 247.8,158.7 247.8,159.2 247.8,159.7 247.8,160.2 247.8,160.7 247.8,161.2 247.8,161.7 247.8,162.2 247.8,162.7 247.8,163.2 247.8,163.7 247.8,164.2 247.8,164.7 247.8,165.2 247.8,165.7 247.8,166.2 247.8,166.7 247.8,167.2 247.8,167.7 247.8,168.2 247.8,168.7 247.8,169.2 247.8,169.7 247.8,170.2 247.8,170.7 247.8,171.2 247.8,171.7 247.4,172.2 247.0,172.7 246.8,173.2 246.8,173.7 246.8,174.2 246.8,174.7 247.8,175.2 248.5,175.3 L249.15,175.30 Z" fill="#235f9f"/>
<path d="M248.80,61.20 L249.6,61.2 249.6,61.7 249.6,62.2 249.6,62.7 249.6,63.2 249.6,63.7 249.6,64.2 249.6,64.7 249.6,65.2 249.6,65.7 249.6,66.2 249.6,66.7 249.6,67.2 249.6,67.7 249.6,68.2 249.6,68.7 249.6,69.2 249.6,69.7 249.6,70.2 249.6,70.7 249.6,71.2 249.6,71.7 249.6,72.2 249.6,72.7 249.6,73.2 249.6,73.7 249.7,74.2 249.7,74.7 249.7,75.2 249.7,75.7 249.7,76.2 249.7,76.7 249.7,77.2 249.7,77.7 249.7,78.2 249.7,78.7 249.7,79.2 249.7,79.7 249.7,80.2 249.7,80.7 249.7,81.2 249.7,81.7 249.7,82.2 249.7,82.7 249.7,83.2 249.8,83.7 249.8,84.2 249.8,84.7 249.8,85.2 249.8,85.7 249.8,86.2 249.8,86.7 249.9,87.2 249.9,87.7 249.9,88.2 249.9,88.7 249.9,89.2 249.9,89.7 250.0,90.2 250.0,90.7 250.0,91.2 250.0,91.7 250.1,92.2 250.1,92.7 250.1,93.2 250.1,93.7 250.2,94.2 250.2,94.7 250.2,95.2 250.2,95.7 250.3,96.2 250.3,96.7 250.4,97.2 250.4,97.7 250.5,98.2 250.5,98.7 250.6,99.2 250.6,99.7 250.7,100.2 250.7,100.7 250.8,101.2 250.9,101.7 250.9,102.2 251.0,102.7 251.1,103.2 251.2,103.7 251.3,104.2 251.8,104.7 251.6,105.2 252.1,105.7 251.3,106.2 252.0,106.7 251.7,107.2 251.8,107.7 252.2,108.2 252.8,108.7 252.5,109.2 252.4,109.7 252.6,110.2 252.6,110.7 253.2,111.2 252.9,111.7 252.6,112.2 252.7,112.7 252.8,113.2 253.4,113.7 254.0,114.2 253.5,114.7 254.5,115.2 254.5,115.7 254.7,116.2 254.8,116.7 255.2,117.2 254.7,117.7 255.7,118.2 256.3,118.7 256.2,119.2 256.3,119.7 256.5,120.2 257.3,120.7 257.4,121.2 258.3,121.7 258.3,122.2 258.8,122.7 259.5,123.2 259.7,123.7 260.5,124.2 260.6,124.7 260.7,125.2 261.7,125.7 261.6,126.2 262.1,126.7 263.4,127.2 264.0,127.7 263.9,128.2 264.3,128.7 265.2,129.2 265.6,129.7 265.4,130.2 266.3,130.7 266.7,131.2 267.8,131.7 267.5,132.2 268.1,132.7 268.4,133.2 268.9,133.7 267.7,134.2 267.4,134.7 267.0,135.2 267.4,135.7 266.5,136.2 265.8,136.7 264.9,137.2 264.8,137.7 264.6,138.2 265.3,138.7 265.1,139.2 264.5,139.7 264.5,140.2 265.1,140.7 264.7,141.2 264.5,141.7 264.9,142.2 264.9,142.7 265.2,143.2 264.4,143.7 265.2,144.2 264.4,144.7 263.7,145.2 264.0,145.7 263.3,146.2 262.8,146.7 262.2,147.2 261.2,147.7 260.8,148.2 260.7,148.7 259.8,149.2 258.5,149.7 258.1,150.2 257.1,150.7 256.1,151.2 256.5,151.7 255.7,152.2 255.2,152.7 254.4,153.2 254.1,153.7 254.2,154.2 253.7,154.7 253.1,155.2 252.6,155.7 252.6,156.2 252.1,156.7 252.1,157.2 252.3,157.7 252.2,158.2 252.2,158.7 252.2,159.2 252.0,159.7 251.6,160.2 251.6,160.7 251.3,161.2 251.2,161.7 251.1,162.2 251.1,162.7 251.0,163.2 251.0,163.7 250.9,164.2 250.9,164.7 250.8,165.2 250.7,165.7 250.7,166.2 250.6,166.7 250.6,167.2 250.6,167.7 250.5,168.2 250.5,168.7 250.5,169.2 250.4,169.7 250.4,170.2 250.4,170.7 250.4,171.2 250.5,171.7 250.6,172.2 250.7,172.7 250.8,173.2 250.8,173.7 250.8,174.2 250.8,174.7 249.8,175.2 249.1,175.3 L248.80,175.30 Z" fill="#5bb974"/>
<circle cx="249.40" cy="37.60" r="0.95" fill="#5bb974"/>
<circle cx="249.40" cy="48.20" r="0.95" fill="#5bb974"/>
<circle cx="249.40" cy="54.70" r="0.95" fill="#5bb974"/>
<path d="M296.75,67.70 L295.6,67.7 295.6,68.2 295.6,68.7 295.6,69.2 295.5,69.7 295.5,70.2 295.5,70.7 295.5,71.2 295.5,71.7 295.5,72.2 295.5,72.7 295.5,73.2 295.5,73.7 295.4,74.2 295.4,74.7 295.4,75.2 295.4,75.7 295.4,76.2 295.4,76.7 295.4,77.2 295.4,77.7 295.4,78.2 295.4,78.7 295.4,79.2 295.4,79.7 295.4,80.2 295.4,80.7 295.4,81.2 295.4,81.7 295.4,82.2 295.4,82.7 295.4,83.2 295.4,83.7 295.4,84.2 295.4,84.7 295.5,85.2 295.5,85.7 295.5,86.2 295.5,86.7 295.5,87.2 295.5,87.7 295.5,88.2 295.5,88.7 295.5,89.2 295.5,89.7 295.6,90.2 295.6,90.7 295.6,91.2 295.6,91.7 295.6,92.2 295.6,92.7 295.6,93.2 295.6,93.7 295.6,94.2 295.6,94.7 295.6,95.2 295.6,95.7 295.5,96.2 295.5,96.7 295.4,97.2 295.3,97.7 295.2,98.2 295.1,98.7 295.0,99.2 294.9,99.7 294.7,100.2 294.6,100.7 294.5,101.2 294.4,101.7 294.2,102.2 294.1,102.7 293.9,103.2 293.5,103.7 294.0,104.2 293.5,104.7 292.7,105.2 293.2,105.7 292.8,106.2 292.8,106.7 292.3,107.2 291.8,107.7 291.6,108.2 292.1,108.7 291.1,109.2 290.7,109.7 290.8,110.2 290.6,110.7 289.8,111.2 289.6,111.7 289.6,112.2 289.4,112.7 289.1,113.2 288.4,113.7 288.5,114.2 287.7,114.7 287.2,115.2 286.9,115.7 286.2,116.2 286.3,116.7 284.9,117.2 284.7,117.7 284.5,118.2 284.2,118.7 282.9,119.2 282.9,119.7 281.9,120.2 281.2,120.7 281.5,121.2 280.3,121.7 279.8,122.2 279.6,122.7 279.2,123.2 279.0,123.7 278.0,124.2 277.9,124.7 278.2,125.2 277.2,125.7 277.7,126.2 277.9,126.7 277.6,127.2 278.4,127.7 278.3,128.2 279.4,128.7 279.5,129.2 280.4,129.7 281.6,130.2 282.0,130.7 283.1,131.2 283.8,131.7 284.8,132.2 285.7,132.7 286.8,133.2 287.9,133.7 289.0,134.2 289.4,134.7 290.4,135.2 290.6,135.7 291.5,136.2 292.7,136.7 292.9,137.2 293.3,137.7 294.1,138.2 293.5,138.7 294.0,139.2 294.2,139.7 294.3,140.2 294.4,140.7 294.5,141.2 294.6,141.7 294.7,142.2 294.8,142.7 294.9,143.2 294.9,143.7 295.0,144.2 295.0,144.7 295.1,145.2 295.1,145.7 295.1,146.2 295.1,146.7 295.1,147.2 295.1,147.7 295.1,148.2 295.2,148.7 295.2,149.2 295.2,149.7 295.2,150.2 295.2,150.7 295.2,151.2 295.2,151.7 295.2,152.2 295.2,152.7 295.3,153.2 295.3,153.7 295.3,154.2 295.3,154.7 295.3,155.2 295.3,155.7 295.3,156.2 295.3,156.7 295.3,157.2 295.3,157.7 295.3,158.2 295.3,158.7 295.3,159.2 295.3,159.7 295.3,160.2 295.4,160.7 295.4,161.2 295.4,161.7 295.4,162.2 295.4,162.7 295.4,163.2 295.4,163.7 295.4,164.2 295.4,164.7 295.4,165.2 295.4,165.7 295.4,166.2 295.4,166.7 295.4,167.2 295.4,167.7 295.4,168.2 295.4,168.7 295.4,169.2 295.4,169.7 295.4,170.2 295.4,170.7 295.4,171.2 295.4,171.7 295.0,172.2 294.6,172.7 294.4,173.2 294.4,173.7 294.4,174.2 294.4,174.7 295.4,175.2 296.1,175.3 L296.75,175.30 Z" fill="#235f9f"/>
<path d="M296.40,67.70 L297.2,67.7 297.2,68.2 297.2,68.7 297.2,69.2 297.3,69.7 297.3,70.2 297.3,70.7 297.3,71.2 297.3,71.7 297.3,72.2 297.3,72.7 297.3,73.2 297.3,73.7 297.4,74.2 297.4,74.7 297.4,75.2 297.4,75.7 297.4,76.2 297.4,76.7 297.4,77.2 297.4,77.7 297.4,78.2 297.4,78.7 297.4,79.2 297.4,79.7 297.4,80.2 297.4,80.7 297.4,81.2 297.4,81.7 297.4,82.2 297.4,82.7 297.4,83.2 297.4,83.7 297.4,84.2 297.4,84.7 297.3,85.2 297.3,85.7 297.3,86.2 297.3,86.7 297.3,87.2 297.3,87.7 297.3,88.2 297.3,88.7 297.3,89.2 297.3,89.7 297.2,90.2 297.2,90.7 297.2,91.2 297.2,91.7 297.2,92.2 297.2,92.7 297.2,93.2 297.2,93.7 297.2,94.2 297.2,94.7 297.2,95.2 297.2,95.7 297.3,96.2 297.3,96.7 297.4,97.2 297.5,97.7 297.6,98.2 297.7,98.7 297.8,99.2 298.0,99.7 298.1,100.2 298.2,100.7 298.3,101.2 298.5,101.7 298.6,102.2 298.7,102.7 298.8,103.2 298.6,103.7 299.4,104.2 299.6,104.7 299.7,105.2 299.3,105.7 299.9,106.2 299.5,106.7 300.3,107.2 300.6,107.7 299.9,108.2 301.0,108.7 300.7,109.2 301.3,109.7 300.5,110.2 301.3,110.7 301.0,111.2 301.4,111.7 301.9,112.2 301.6,112.7 301.9,113.2 302.8,113.7 302.9,114.2 302.4,114.7 303.1,115.2 303.6,115.7 304.0,116.2 304.3,116.7 304.2,117.2 304.3,117.7 304.9,118.2 305.2,118.7 305.8,119.2 306.0,119.7 306.4,120.2 307.4,120.7 307.7,121.2 308.1,121.7 308.9,122.2 309.1,122.7 308.8,123.2 309.8,123.7 309.6,124.2 310.7,124.7 311.3,125.2 310.9,125.7 311.7,126.2 312.1,126.7 313.0,127.2 312.6,127.7 313.2,128.2 313.7,128.7 314.3,129.2 314.2,129.7 314.3,130.2 314.5,130.7 315.1,131.2 314.9,131.7 315.0,132.2 316.0,132.7 315.4,133.2 315.6,133.7 316.2,134.2 316.1,134.7 315.9,135.2 316.0,135.7 316.0,136.2 315.8,136.7 315.6,137.2 316.0,137.7 315.7,138.2 316.3,138.7 315.7,139.2 316.1,139.7 315.7,140.2 316.3,140.7 315.5,141.2 315.7,141.7 315.8,142.2 314.9,142.7 315.6,143.2 314.7,143.7 314.2,144.2 314.0,144.7 314.4,145.2 313.3,145.7 313.6,146.2 312.9,146.7 312.5,147.2 311.1,147.7 310.8,148.2 310.1,148.7 310.3,149.2 309.1,149.7 308.2,150.2 307.7,150.7 307.4,151.2 306.4,151.7 305.9,152.2 305.0,152.7 304.9,153.2 303.7,153.7 303.3,154.2 302.9,154.7 302.7,155.2 302.4,155.7 302.5,156.2 301.5,156.7 301.5,157.2 301.0,157.7 300.6,158.2 300.3,158.7 300.7,159.2 300.2,159.7 299.8,160.2 299.9,160.7 299.0,161.2 298.8,161.7 298.7,162.2 298.6,162.7 298.4,163.2 298.4,163.7 298.3,164.2 298.2,164.7 298.1,165.2 298.1,165.7 298.0,166.2 298.0,166.7 297.9,167.2 297.9,167.7 297.8,168.2 297.8,168.7 297.8,169.2 297.7,169.7 297.7,170.2 297.7,170.7 297.7,171.2 297.8,171.7 298.0,172.2 298.3,172.7 298.4,173.2 298.4,173.7 298.4,174.2 298.4,174.7 297.4,175.2 296.7,175.3 L296.40,175.30 Z" fill="#5bb974"/>
<circle cx="295.80" cy="56.20" r="0.95" fill="#235f9f"/>
<circle cx="297.00" cy="64.00" r="0.95" fill="#5bb974"/>
<line x1="30.60" y1="126.50" x2="325.00" y2="126.50" stroke="#111" stroke-width="1.2" stroke-dasharray="5.7 5.8"/>
<rect x="59.20" y="125.70" width="9.20" height="2.00" fill="#fff" rx="0"/>
<text x="59.20" y="120.40" font-size="6.7" text-anchor="start" fill="#fff" font-weight="normal" dominant-baseline="central" fill-opacity="0.9">100</text>
<rect x="106.70" y="128.70" width="9.20" height="2.00" fill="#fff" rx="0"/>
<text x="106.70" y="123.80" font-size="6.7" text-anchor="start" fill="#fff" font-weight="normal" dominant-baseline="central" fill-opacity="0.9">93</text>
<rect x="153.60" y="130.60" width="9.20" height="2.00" fill="#fff" rx="0"/>
<text x="153.60" y="125.90" font-size="6.7" text-anchor="start" fill="#fff" font-weight="normal" dominant-baseline="central" fill-opacity="0.9">89</text>
<rect x="201.10" y="133.50" width="9.20" height="2.00" fill="#fff" rx="0"/>
<text x="201.10" y="128.90" font-size="6.7" text-anchor="start" fill="#fff" font-weight="normal" dominant-baseline="central" fill-opacity="0.9">83</text>
<rect x="249.10" y="135.40" width="9.20" height="2.00" fill="#fff" rx="0"/>
<text x="249.10" y="130.50" font-size="6.7" text-anchor="start" fill="#fff" font-weight="normal" dominant-baseline="central" fill-opacity="0.9">79</text>
<rect x="296.70" y="134.80" width="9.20" height="2.00" fill="#fff" rx="0"/>
<text x="296.70" y="129.90" font-size="6.7" text-anchor="start" fill="#fff" font-weight="normal" dominant-baseline="central" fill-opacity="0.9">81</text>
<rect x="61.48" y="61.05" width="24.95" height="7.70" fill="#fff" stroke="#3462ae" stroke-width="0.75" rx="1.3"/>
<text x="73.95" y="65.05" font-size="6.6" text-anchor="middle" fill="#3462ae" font-weight="normal" dominant-baseline="central" stroke="#3462ae" stroke-width="0.1">23.85%</text>
<rect x="108.67" y="61.05" width="25.25" height="7.70" fill="#fff" stroke="#3462ae" stroke-width="0.75" rx="1.3"/>
<text x="121.30" y="65.05" font-size="6.6" text-anchor="middle" fill="#3462ae" font-weight="normal" dominant-baseline="central" stroke="#3462ae" stroke-width="0.1">18.58%</text>
<rect x="155.97" y="61.05" width="24.95" height="7.70" fill="#fff" stroke="#3462ae" stroke-width="0.75" rx="1.3"/>
<text x="168.45" y="65.05" font-size="6.6" text-anchor="middle" fill="#3462ae" font-weight="normal" dominant-baseline="central" stroke="#3462ae" stroke-width="0.1">13.20%</text>
<rect x="203.57" y="61.05" width="24.95" height="7.70" fill="#fff" stroke="#3462ae" stroke-width="0.75" rx="1.3"/>
<text x="216.05" y="65.05" font-size="6.6" text-anchor="middle" fill="#3462ae" font-weight="normal" dominant-baseline="central" stroke="#3462ae" stroke-width="0.1">10.63%</text>
<rect x="251.47" y="61.05" width="24.75" height="7.70" fill="#fff" stroke="#3462ae" stroke-width="0.75" rx="1.3"/>
<text x="263.85" y="65.05" font-size="6.6" text-anchor="middle" fill="#3462ae" font-weight="normal" dominant-baseline="central" stroke="#3462ae" stroke-width="0.1">11.49%</text>
<rect x="298.88" y="61.05" width="24.95" height="7.70" fill="#fff" stroke="#3462ae" stroke-width="0.75" rx="1.3"/>
<text x="311.35" y="65.05" font-size="6.6" text-anchor="middle" fill="#3462ae" font-weight="normal" dominant-baseline="central" stroke="#3462ae" stroke-width="0.1">12.11%</text>
<rect x="63.08" y="154.55" width="21.15" height="7.70" fill="#fff" stroke="#ef8a86" stroke-width="0.75" rx="1.3"/>
<text x="73.65" y="158.55" font-size="6.6" text-anchor="middle" fill="#e44b4b" font-weight="normal" dominant-baseline="central">22.6%</text>
<rect x="110.97" y="154.55" width="20.65" height="7.70" fill="#fff" stroke="#ef8a86" stroke-width="0.75" rx="1.3"/>
<text x="121.30" y="158.55" font-size="6.6" text-anchor="middle" fill="#e44b4b" font-weight="normal" dominant-baseline="central">39.3%</text>
<rect x="158.28" y="154.55" width="21.25" height="7.70" fill="#fff" stroke="#ef8a86" stroke-width="0.75" rx="1.3"/>
<text x="168.90" y="158.55" font-size="6.6" text-anchor="middle" fill="#e44b4b" font-weight="normal" dominant-baseline="central">41.9%</text>
<rect x="205.57" y="154.55" width="21.45" height="7.70" fill="#fff" stroke="#ef8a86" stroke-width="0.75" rx="1.3"/>
<text x="216.30" y="158.55" font-size="6.6" text-anchor="middle" fill="#e44b4b" font-weight="normal" dominant-baseline="central">52.9%</text>
<rect x="253.78" y="154.55" width="20.55" height="7.70" fill="#fff" stroke="#ef8a86" stroke-width="0.75" rx="1.3"/>
<text x="264.05" y="158.55" font-size="6.6" text-anchor="middle" fill="#e44b4b" font-weight="normal" dominant-baseline="central">58.6%</text>
<rect x="301.27" y="154.55" width="18.95" height="7.70" fill="#fff" stroke="#ef8a86" stroke-width="0.75" rx="1.3"/>
<text x="310.75" y="158.55" font-size="6.6" text-anchor="middle" fill="#e44b4b" font-weight="normal" dominant-baseline="central">55.4%</text>
<text x="78.50" y="28.80" font-size="6.5" text-anchor="start" fill="#333" font-weight="normal" dominant-baseline="central"><tspan font-style="italic">P</tspan> = 7.00 × 10<tspan font-size="4" dy="-3.4">−25</tspan></text>
<text x="128.00" y="28.80" font-size="6.5" text-anchor="start" fill="#333" font-weight="normal" dominant-baseline="central"><tspan font-style="italic">P</tspan> = 2.97 × 10<tspan font-size="4" dy="-3.4">−129</tspan></text>
<text x="178.60" y="28.80" font-size="6.5" text-anchor="start" fill="#333" font-weight="normal" dominant-baseline="central"><tspan font-style="italic">P</tspan> &lt; 1.00 × 10<tspan font-size="4" dy="-3.4">−324</tspan></text>
<text x="227.80" y="28.80" font-size="6.5" text-anchor="start" fill="#333" font-weight="normal" dominant-baseline="central"><tspan font-style="italic">P</tspan> = 4.73 × 10<tspan font-size="4" dy="-3.4">−210</tspan></text>
<text x="278.50" y="28.80" font-size="6.5" text-anchor="start" fill="#333" font-weight="normal" dominant-baseline="central"><tspan font-style="italic">P</tspan> = 6.88 × 10<tspan font-size="4" dy="-3.4">−76</tspan></text>
<text x="329.30" y="97.60" font-size="6.6" text-anchor="middle" fill="#222" font-weight="normal" transform="rotate(-90 329.3 97.6)" dominant-baseline="central">Re-adenylation</text>
<text x="329.30" y="156.00" font-size="6.6" text-anchor="middle" fill="#222" font-weight="normal" transform="rotate(-90 329.3 156.0)" dominant-baseline="central">Deadenylation</text>
<line x1="336.40" y1="121.00" x2="336.40" y2="77.70" stroke="#3766b8" stroke-width="1.1"/>
<path d="M334.40,78.40 L336.40,74.20 L338.40,78.40 Z" fill="#3766b8"/>
<line x1="336.40" y1="134.00" x2="336.40" y2="174.50" stroke="#e8474a" stroke-width="1.1"/>
<path d="M334.40,173.80 L336.40,178.00 L338.40,173.80 Z" fill="#e8474a"/>
<line x1="32.00" y1="186.60" x2="32.00" y2="198.80" stroke="#bbb" stroke-width="0.6"/>
<line x1="65.60" y1="186.60" x2="65.60" y2="198.80" stroke="#bbb" stroke-width="0.6"/>
<text x="34.60" y="189.20" font-size="5.2" text-anchor="start" fill="#333" font-weight="normal" dominant-baseline="central"><tspan font-style="italic">n</tspan> = 48,406</text>
<text x="34.60" y="195.40" font-size="5.2" text-anchor="start" fill="#333" font-weight="normal" dominant-baseline="central"><tspan font-style="italic">n</tspan> = 9,837</text>
<rect x="84.00" y="186.60" width="14.90" height="5.40" fill="#235f9f" stroke="#666" stroke-width="0.35" rx="0"/>
<rect x="84.00" y="192.70" width="6.30" height="5.40" fill="#5bb974" stroke="#666" stroke-width="0.35" rx="0"/>
<line x1="114.80" y1="186.10" x2="114.80" y2="198.60" stroke="#bbb" stroke-width="0.6"/>
<text x="99.70" y="189.50" font-size="5.2" text-anchor="start" fill="#333" font-weight="normal" dominant-baseline="central"><tspan font-style="italic">n</tspan> = 2,439</text>
<text x="91.10" y="195.60" font-size="5.2" text-anchor="start" fill="#333" font-weight="normal" dominant-baseline="central"><tspan font-style="italic">n</tspan> = 965</text>
<text x="84.00" y="204.80" font-size="6.5" text-anchor="middle" fill="#333" font-weight="normal" dominant-baseline="central">0%</text>
<text x="114.80" y="204.80" font-size="6.5" text-anchor="middle" fill="#333" font-weight="normal" dominant-baseline="central">0.5%</text>
<rect x="133.20" y="186.60" width="10.90" height="5.40" fill="#235f9f" stroke="#666" stroke-width="0.35" rx="0"/>
<rect x="133.20" y="192.70" width="24.60" height="5.40" fill="#5bb974" stroke="#666" stroke-width="0.35" rx="0"/>
<line x1="163.90" y1="186.10" x2="163.90" y2="198.60" stroke="#bbb" stroke-width="0.6"/>
<text x="144.90" y="189.50" font-size="5.2" text-anchor="start" fill="#333" font-weight="normal" dominant-baseline="central"><tspan font-style="italic">n</tspan> = 1,518</text>
<text x="158.60" y="195.60" font-size="5.2" text-anchor="start" fill="#333" font-weight="normal" dominant-baseline="central"><tspan font-style="italic">n</tspan> = 3,507</text>
<text x="133.20" y="204.80" font-size="6.5" text-anchor="middle" fill="#333" font-weight="normal" dominant-baseline="central">0%</text>
<text x="163.90" y="204.80" font-size="6.5" text-anchor="middle" fill="#333" font-weight="normal" dominant-baseline="central">0.5%</text>
<rect x="182.60" y="186.60" width="11.20" height="5.40" fill="#235f9f" stroke="#666" stroke-width="0.35" rx="0"/>
<rect x="182.60" y="192.70" width="34.70" height="5.40" fill="#5bb974" stroke="#666" stroke-width="0.35" rx="0"/>
<line x1="213.40" y1="186.10" x2="213.40" y2="198.60" stroke="#bbb" stroke-width="0.6"/>
<text x="194.60" y="189.50" font-size="5.2" text-anchor="start" fill="#333" font-weight="normal" dominant-baseline="central"><tspan font-style="italic">n</tspan> = 1,794</text>
<text x="194.80" y="195.60" font-size="5.2" text-anchor="start" fill="#333" font-weight="normal" dominant-baseline="central"><tspan font-style="italic">n</tspan> = 5,740</text>
<text x="182.60" y="204.80" font-size="6.5" text-anchor="middle" fill="#333" font-weight="normal" dominant-baseline="central">0%</text>
<text x="213.40" y="204.80" font-size="6.5" text-anchor="middle" fill="#333" font-weight="normal" dominant-baseline="central">0.5%</text>
<rect x="232.30" y="186.60" width="11.40" height="5.40" fill="#235f9f" stroke="#666" stroke-width="0.35" rx="0"/>
<rect x="232.30" y="192.70" width="17.50" height="5.40" fill="#5bb974" stroke="#666" stroke-width="0.35" rx="0"/>
<line x1="263.10" y1="186.10" x2="263.10" y2="198.60" stroke="#bbb" stroke-width="0.6"/>
<text x="244.50" y="189.50" font-size="5.2" text-anchor="start" fill="#333" font-weight="normal" dominant-baseline="central"><tspan font-style="italic">n</tspan> = 1,624</text>
<text x="250.60" y="195.60" font-size="5.2" text-anchor="start" fill="#333" font-weight="normal" dominant-baseline="central"><tspan font-style="italic">n</tspan> = 2,533</text>
<text x="232.30" y="204.80" font-size="6.5" text-anchor="middle" fill="#333" font-weight="normal" dominant-baseline="central">0%</text>
<text x="263.10" y="204.80" font-size="6.5" text-anchor="middle" fill="#333" font-weight="normal" dominant-baseline="central">0.5%</text>
<rect x="281.60" y="186.60" width="10.30" height="5.40" fill="#235f9f" stroke="#666" stroke-width="0.35" rx="0"/>
<rect x="281.60" y="192.70" width="11.00" height="5.40" fill="#5bb974" stroke="#666" stroke-width="0.35" rx="0"/>
<line x1="312.30" y1="186.10" x2="312.30" y2="198.60" stroke="#bbb" stroke-width="0.6"/>
<text x="292.70" y="189.50" font-size="5.2" text-anchor="start" fill="#333" font-weight="normal" dominant-baseline="central"><tspan font-style="italic">n</tspan> = 819</text>
<text x="293.40" y="195.60" font-size="5.2" text-anchor="start" fill="#333" font-weight="normal" dominant-baseline="central"><tspan font-style="italic">n</tspan> = 892</text>
<text x="281.60" y="204.80" font-size="6.5" text-anchor="middle" fill="#333" font-weight="normal" dominant-baseline="central">0%</text>
<text x="312.30" y="204.80" font-size="6.5" text-anchor="middle" fill="#333" font-weight="normal" dominant-baseline="central">0.5%</text>
<text x="177.60" y="216.30" font-size="6.55" text-anchor="middle" fill="#333" font-weight="normal" dominant-baseline="central">Abundance of mRNA-1273 reads (relative to endogenous)</text>
<text x="353.00" y="4.60" font-size="11" text-anchor="start" fill="#111" font-weight="bold" dominant-baseline="central">b</text>
<circle cx="454.00" cy="3.40" r="2.5" fill="#235f9f"/>
<text x="461.80" y="3.10" font-size="6.3" text-anchor="start" fill="#333" font-weight="normal" dominant-baseline="central">Poly(A) + m<tspan font-size="4" dy="-1.8">1</tspan><tspan dy="1.8">ΨCmΨAG</tspan></text>
<circle cx="546.20" cy="3.40" r="2.5" fill="#5bb974"/>
<text x="552.50" y="3.10" font-size="6.3" text-anchor="start" fill="#333" font-weight="normal" dominant-baseline="central">Poly(A)</text>
<rect x="383.80" y="43.40" width="140.20" height="93.60" fill="#e0e1f1" rx="0"/>
<rect x="383.80" y="150.80" width="140.20" height="46.50" fill="#fde6dc" rx="0"/>
<rect x="529.80" y="43.40" width="140.20" height="93.60" fill="#e0e1f1" rx="0"/>
<rect x="529.80" y="150.80" width="140.20" height="46.50" fill="#fde6dc" rx="0"/>
<line x1="383.80" y1="43.40" x2="383.80" y2="197.30" stroke="#555" stroke-width="0.8"/>
<line x1="380.60" y1="50.10" x2="383.80" y2="50.10" stroke="#555" stroke-width="0.7"/>
<text x="377.60" y="50.30" font-size="6.4" text-anchor="end" fill="#333" font-weight="normal" dominant-baseline="central">300</text>
<line x1="380.60" y1="97.20" x2="383.80" y2="97.20" stroke="#555" stroke-width="0.7"/>
<text x="377.60" y="97.40" font-size="6.4" text-anchor="end" fill="#333" font-weight="normal" dominant-baseline="central">200</text>
<line x1="380.60" y1="144.20" x2="383.80" y2="144.20" stroke="#555" stroke-width="0.7"/>
<text x="377.60" y="144.40" font-size="6.4" text-anchor="end" fill="#333" font-weight="normal" dominant-baseline="central">100</text>
<line x1="380.60" y1="190.80" x2="383.80" y2="190.80" stroke="#555" stroke-width="0.7"/>
<text x="377.60" y="191.00" font-size="6.4" text-anchor="end" fill="#333" font-weight="normal" dominant-baseline="central">0</text>
<line x1="529.80" y1="43.40" x2="529.80" y2="197.30" stroke="#555" stroke-width="0.8"/>
<line x1="526.60" y1="50.10" x2="529.80" y2="50.10" stroke="#555" stroke-width="0.7"/>
<line x1="526.60" y1="97.20" x2="529.80" y2="97.20" stroke="#555" stroke-width="0.7"/>
<line x1="526.60" y1="144.20" x2="529.80" y2="144.20" stroke="#555" stroke-width="0.7"/>
<line x1="526.60" y1="190.80" x2="529.80" y2="190.80" stroke="#555" stroke-width="0.7"/>
<line x1="383.40" y1="197.30" x2="524.00" y2="197.30" stroke="#555" stroke-width="0.9"/>
<line x1="529.40" y1="197.30" x2="670.00" y2="197.30" stroke="#555" stroke-width="0.9"/>
<text x="356.60" y="120.40" font-size="6.4" text-anchor="middle" fill="#333" font-weight="normal" transform="rotate(-90 356.6 120.4)" dominant-baseline="central">Poly(A) length</text>
<text x="455.00" y="14.60" font-size="6.5" text-anchor="middle" fill="#333" font-weight="normal" dominant-baseline="central">24 h</text>
<text x="600.10" y="14.60" font-size="6.5" text-anchor="middle" fill="#333" font-weight="normal" dominant-baseline="central">72 h</text>
<line x1="384.00" y1="19.80" x2="523.00" y2="19.80" stroke="#111" stroke-width="1.3"/>
<line x1="530.40" y1="19.80" x2="669.20" y2="19.80" stroke="#111" stroke-width="1.3"/>
<text x="431.00" y="27.20" font-size="6.9" text-anchor="middle" fill="#333" font-weight="normal" font-style="italic" dominant-baseline="central">FKBP12<tspan font-size="3.8" dy="-2.9">F36V</tspan><tspan dy="2.9">-HA-Tent5a</tspan></text>
<text x="575.90" y="27.20" font-size="6.9" text-anchor="middle" fill="#333" font-weight="normal" font-style="italic" dominant-baseline="central">FKBP12<tspan font-size="3.8" dy="-2.9">F36V</tspan><tspan dy="2.9">-HA-Tent5a</tspan></text>
<text x="498.20" y="27.20" font-size="6.5" text-anchor="middle" fill="#333" font-weight="normal" dominant-baseline="central">WT</text>
<text x="644.30" y="27.20" font-size="6.5" text-anchor="middle" fill="#333" font-weight="normal" dominant-baseline="central">WT</text>
<line x1="384.00" y1="33.60" x2="475.30" y2="33.60" stroke="#111" stroke-width="1.3"/>
<line x1="530.40" y1="33.60" x2="621.40" y2="33.60" stroke="#111" stroke-width="1.3"/>
<text x="360.40" y="39.20" font-size="6.5" text-anchor="start" fill="#333" font-weight="normal" dominant-baseline="central">dTAG-V1</text>
<text x="409.60" y="39.20" font-size="6.5" text-anchor="middle" fill="#333" font-weight="normal" dominant-baseline="central">–</text>
<text x="453.80" y="39.20" font-size="6.5" text-anchor="middle" fill="#333" font-weight="normal" dominant-baseline="central">+</text>
<text x="498.20" y="39.20" font-size="6.5" text-anchor="middle" fill="#333" font-weight="normal" dominant-baseline="central">+</text>
<text x="556.80" y="39.20" font-size="6.5" text-anchor="middle" fill="#333" font-weight="normal" dominant-baseline="central">–</text>
<text x="600.90" y="39.20" font-size="6.5" text-anchor="middle" fill="#333" font-weight="normal" dominant-baseline="central">+</text>
<text x="645.60" y="39.20" font-size="6.5" text-anchor="middle" fill="#333" font-weight="normal" dominant-baseline="central">+</text>
<path d="M409.85,52.00 L409.0,52.0 409.0,52.5 409.0,53.0 409.0,53.5 409.0,54.0 409.0,54.5 409.0,55.0 409.0,55.5 408.9,56.0 408.9,56.5 408.9,57.0 408.9,57.5 408.9,58.0 408.9,58.5 408.9,59.0 408.9,59.5 408.9,60.0 408.9,60.5 408.9,61.0 408.9,61.5 408.9,62.0 408.9,62.5 408.9,63.0 408.9,63.5 408.8,64.0 408.8,64.5 408.8,65.0 408.8,65.5 408.8,66.0 408.8,66.5 408.8,67.0 408.8,67.5 408.8,68.0 408.8,68.5 408.8,69.0 408.8,69.5 408.8,70.0 408.8,70.5 408.8,71.0 408.8,71.5 408.8,72.0 408.8,72.5 408.8,73.0 408.8,73.5 408.8,74.0 408.8,74.5 408.8,75.0 408.8,75.5 408.8,76.0 408.8,76.5 408.8,77.0 408.8,77.5 408.8,78.0 408.8,78.5 408.7,79.0 408.7,79.5 408.7,80.0 408.7,80.5 408.7,81.0 408.7,81.5 408.7,82.0 408.7,82.5 408.7,83.0 408.7,83.5 408.7,84.0 408.7,84.5 408.7,85.0 408.7,85.5 408.7,86.0 408.7,86.5 408.7,87.0 408.7,87.5 408.7,88.0 408.7,88.5 408.7,89.0 408.7,89.5 408.7,90.0 408.7,90.5 408.7,91.0 408.7,91.5 408.7,92.0 408.7,92.5 408.7,93.0 408.7,93.5 408.7,94.0 408.7,94.5 408.7,95.0 408.7,95.5 408.7,96.0 408.7,96.5 408.7,97.0 408.7,97.5 408.7,98.0 408.7,98.5 408.7,99.0 408.7,99.5 408.7,100.0 408.7,100.5 408.7,101.0 408.7,101.5 408.6,102.0 408.6,102.5 408.6,103.0 408.5,103.5 408.4,104.0 408.4,104.5 408.3,105.0 408.3,105.5 408.2,106.0 408.1,106.5 408.0,107.0 407.9,107.5 407.8,108.0 407.7,108.5 407.6,109.0 407.5,109.5 407.4,110.0 407.3,110.5 407.2,111.0 407.1,111.5 407.2,112.0 407.0,112.5 406.7,113.0 406.8,113.5 406.0,114.0 406.3,114.5 406.4,115.0 406.0,115.5 406.0,116.0 405.6,116.5 406.4,117.0 406.3,117.5 405.7,118.0 406.0,118.5 405.1,119.0 405.5,119.5 405.2,120.0 404.8,120.5 405.5,121.0 405.3,121.5 405.0,122.0 405.3,122.5 404.5,123.0 404.4,123.5 404.9,124.0 404.6,124.5 404.8,125.0 404.3,125.5 404.6,126.0 403.7,126.5 404.5,127.0 404.0,127.5 404.0,128.0 403.2,128.5 403.7,129.0 403.2,129.5 402.8,130.0 403.4,130.5 403.1,131.0 402.6,131.5 402.2,132.0 401.6,132.5 401.0,133.0 401.1,133.5 400.6,134.0 400.0,134.5 398.9,135.0 398.6,135.5 398.0,136.0 397.1,136.5 396.6,137.0 395.7,137.5 395.4,138.0 394.9,138.5 394.3,139.0 394.4,139.5 393.9,140.0 392.8,140.5 393.4,141.0 392.9,141.5 392.3,142.0 392.8,142.5 392.1,143.0 391.7,143.5 392.6,144.0 392.0,144.5 392.3,145.0 392.0,145.5 392.2,146.0 392.8,146.5 393.3,147.0 393.1,147.5 393.9,148.0 394.6,148.5 394.6,149.0 395.4,149.5 396.3,150.0 397.4,150.5 397.6,151.0 399.2,151.5 400.2,152.0 401.7,152.5 401.9,153.0 402.8,153.5 402.7,154.0 403.8,154.5 404.4,155.0 405.0,155.5 405.3,156.0 405.5,156.5 405.2,157.0 406.1,157.5 405.5,158.0 406.3,158.5 406.7,159.0 406.5,159.5 406.2,160.0 406.5,160.5 407.0,161.0 407.2,161.5 407.3,162.0 407.4,162.5 407.5,163.0 407.6,163.5 407.7,164.0 407.8,164.5 407.8,165.0 407.9,165.5 408.0,166.0 408.0,166.5 408.1,167.0 408.1,167.5 408.2,168.0 408.2,168.5 408.2,169.0 408.3,169.5 408.3,170.0 408.3,170.5 408.4,171.0 408.4,171.5 408.4,172.0 408.5,172.5 408.5,173.0 408.5,173.5 408.6,174.0 408.6,174.5 408.6,175.0 408.7,175.5 408.7,176.0 408.7,176.5 408.7,177.0 408.8,177.5 408.8,178.0 408.8,178.5 408.8,179.0 408.8,179.5 408.8,180.0 408.8,180.5 408.8,181.0 408.8,181.5 408.8,182.0 408.8,182.5 408.8,183.0 408.8,183.5 408.8,184.0 408.8,184.5 408.8,185.0 408.8,185.5 408.7,186.0 408.7,186.5 408.7,187.0 408.7,187.5 407.6,188.0 406.7,188.5 406.0,189.0 407.0,189.5 406.6,190.0 406.6,190.5 406.6,191.0 409.2,191.5 L409.85,191.50 Z" fill="#235f9f"/>
<path d="M409.50,52.00 L410.7,52.0 410.7,52.5 410.7,53.0 410.7,53.5 410.7,54.0 410.7,54.5 410.8,55.0 410.8,55.5 410.8,56.0 410.8,56.5 410.8,57.0 410.8,57.5 410.9,58.0 410.9,58.5 410.9,59.0 410.9,59.5 410.9,60.0 411.0,60.5 411.0,61.0 411.0,61.5 411.0,62.0 411.1,62.5 411.1,63.0 411.1,63.5 411.1,64.0 411.2,64.5 411.2,65.0 411.2,65.5 411.3,66.0 411.3,66.5 411.3,67.0 411.4,67.5 411.4,68.0 411.5,68.5 411.5,69.0 411.6,69.5 411.6,70.0 411.7,70.5 411.7,71.0 411.8,71.5 411.8,72.0 411.9,72.5 411.9,73.0 412.0,73.5 412.1,74.0 412.2,74.5 412.7,75.0 412.2,75.5 412.7,76.0 412.0,76.5 412.6,77.0 412.0,77.5 412.2,78.0 412.1,78.5 412.4,79.0 412.3,79.5 412.5,80.0 412.9,80.5 413.1,81.0 412.9,81.5 413.5,82.0 412.8,82.5 413.4,83.0 413.3,83.5 413.3,84.0 413.2,84.5 413.3,85.0 413.0,85.5 413.9,86.0 413.0,86.5 413.2,87.0 413.8,87.5 413.8,88.0 413.3,88.5 413.3,89.0 413.2,89.5 413.6,90.0 413.3,90.5 414.1,91.0 414.0,91.5 413.6,92.0 413.8,92.5 414.1,93.0 413.6,93.5 414.3,94.0 414.6,94.5 413.8,95.0 414.5,95.5 414.8,96.0 414.4,96.5 414.7,97.0 415.2,97.5 415.0,98.0 415.8,98.5 415.6,99.0 415.9,99.5 416.9,100.0 416.4,100.5 417.5,101.0 417.2,101.5 417.3,102.0 417.7,102.5 418.0,103.0 418.2,103.5 419.3,104.0 418.8,104.5 419.5,105.0 420.5,105.5 419.7,106.0 421.1,106.5 420.9,107.0 421.5,107.5 421.9,108.0 421.4,108.5 422.6,109.0 422.4,109.5 423.2,110.0 423.3,110.5 423.8,111.0 423.9,111.5 424.3,112.0 423.6,112.5 424.4,113.0 424.4,113.5 424.9,114.0 425.3,114.5 425.6,115.0 425.6,115.5 425.6,116.0 425.5,116.5 426.0,117.0 425.2,117.5 425.7,118.0 426.1,118.5 425.5,119.0 425.6,119.5 425.4,120.0 426.0,120.5 425.2,121.0 425.5,121.5 425.9,122.0 426.1,122.5 425.9,123.0 425.9,123.5 425.9,124.0 425.6,124.5 425.4,125.0 424.9,125.5 425.1,126.0 424.4,126.5 424.9,127.0 425.0,127.5 424.4,128.0 424.8,128.5 425.2,129.0 424.7,129.5 425.0,130.0 424.7,130.5 424.5,131.0 425.2,131.5 425.0,132.0 424.7,132.5 425.5,133.0 425.4,133.5 425.8,134.0 425.6,134.5 426.2,135.0 425.6,135.5 426.7,136.0 426.7,136.5 426.4,137.0 426.8,137.5 426.9,138.0 426.9,138.5 427.4,139.0 428.0,139.5 428.0,140.0 427.3,140.5 427.4,141.0 427.9,141.5 428.1,142.0 428.1,142.5 428.0,143.0 427.8,143.5 428.2,144.0 428.6,144.5 427.7,145.0 427.8,145.5 427.4,146.0 427.8,146.5 427.3,147.0 427.1,147.5 426.8,148.0 427.4,148.5 426.5,149.0 426.1,149.5 425.1,150.0 424.6,150.5 424.2,151.0 423.9,151.5 422.8,152.0 423.4,152.5 421.9,153.0 422.5,153.5 422.0,154.0 421.1,154.5 421.3,155.0 421.0,155.5 420.3,156.0 420.2,156.5 419.5,157.0 419.4,157.5 419.2,158.0 418.7,158.5 418.1,159.0 418.4,159.5 418.0,160.0 417.7,160.5 417.2,161.0 417.4,161.5 416.6,162.0 416.4,162.5 415.5,163.0 415.4,163.5 415.1,164.0 414.8,164.5 415.4,165.0 414.6,165.5 414.3,166.0 414.1,166.5 413.5,167.0 413.7,167.5 412.8,168.0 413.6,168.5 412.4,169.0 412.5,169.5 412.1,170.0 411.9,170.5 412.6,171.0 411.9,171.5 411.8,172.0 411.6,172.5 411.4,173.0 411.3,173.5 411.1,174.0 411.0,174.5 410.9,175.0 410.8,175.5 410.7,176.0 410.7,176.5 410.6,177.0 410.6,177.5 410.5,178.0 410.5,178.5 410.4,179.0 410.4,179.5 410.4,180.0 410.3,180.5 410.3,181.0 410.3,181.5 410.3,182.0 410.3,182.5 410.3,183.0 410.3,183.5 410.3,184.0 410.3,184.5 410.3,185.0 410.3,185.5 410.3,186.0 410.3,186.5 410.3,187.0 410.3,187.5 410.8,188.0 411.3,188.5 411.3,189.0 411.3,189.5 411.3,190.0 411.3,190.5 411.3,191.0 409.8,191.5 L409.50,191.50 Z" fill="#5bb974"/>
<path d="M453.95,82.00 L453.1,82.0 453.1,82.5 453.1,83.0 453.1,83.5 453.1,84.0 453.1,84.5 453.1,85.0 453.1,85.5 453.2,86.0 453.2,86.5 453.2,87.0 453.2,87.5 453.2,88.0 453.2,88.5 453.2,89.0 453.2,89.5 453.2,90.0 453.2,90.5 453.2,91.0 453.2,91.5 453.2,92.0 453.2,92.5 453.2,93.0 453.2,93.5 453.2,94.0 453.2,94.5 453.2,95.0 453.2,95.5 453.2,96.0 453.2,96.5 453.2,97.0 453.2,97.5 453.2,98.0 453.2,98.5 453.2,99.0 453.2,99.5 453.2,100.0 453.2,100.5 453.2,101.0 453.2,101.5 453.2,102.0 453.2,102.5 453.2,103.0 453.1,103.5 453.1,104.0 453.1,104.5 453.1,105.0 453.1,105.5 453.1,106.0 453.1,106.5 453.1,107.0 453.0,107.5 452.9,108.0 452.8,108.5 452.7,109.0 452.5,109.5 452.4,110.0 452.3,110.5 452.1,111.0 452.0,111.5 452.0,112.0 451.9,112.5 451.9,113.0 451.8,113.5 451.8,114.0 451.7,114.5 451.7,115.0 451.6,115.5 451.6,116.0 451.5,116.5 451.4,117.0 451.4,117.5 451.3,118.0 451.2,118.5 450.8,119.0 450.9,119.5 451.0,120.0 450.9,120.5 450.3,121.0 449.8,121.5 449.9,122.0 450.3,122.5 449.8,123.0 449.2,123.5 449.3,124.0 448.9,124.5 449.5,125.0 449.1,125.5 449.3,126.0 448.3,126.5 448.9,127.0 447.9,127.5 448.6,128.0 448.2,128.5 448.3,129.0 447.3,129.5 446.9,130.0 447.0,130.5 446.7,131.0 447.0,131.5 446.2,132.0 445.6,132.5 445.4,133.0 445.7,133.5 444.7,134.0 444.4,134.5 444.5,135.0 443.7,135.5 443.2,136.0 443.4,136.5 442.7,137.0 442.0,137.5 441.2,138.0 440.7,138.5 440.3,139.0 440.5,139.5 439.7,140.0 439.3,140.5 439.4,141.0 438.6,141.5 437.6,142.0 437.7,142.5 436.9,143.0 437.5,143.5 436.9,144.0 436.9,144.5 436.7,145.0 436.3,145.5 437.0,146.0 437.0,146.5 438.0,147.0 437.7,147.5 438.3,148.0 439.3,148.5 439.6,149.0 441.3,149.5 442.0,150.0 443.5,150.5 444.4,151.0 445.3,151.5 446.0,152.0 446.6,152.5 447.0,153.0 447.9,153.5 448.8,154.0 449.3,154.5 450.2,155.0 450.0,155.5 450.7,156.0 450.3,156.5 451.1,157.0 451.3,157.5 451.5,158.0 451.6,158.5 451.8,159.0 451.9,159.5 452.0,160.0 452.1,160.5 452.2,161.0 452.4,161.5 452.5,162.0 452.6,162.5 452.7,163.0 452.7,163.5 452.8,164.0 452.9,164.5 452.9,165.0 453.0,165.5 453.0,166.0 453.0,166.5 453.0,167.0 453.0,167.5 453.0,168.0 453.0,168.5 453.0,169.0 453.0,169.5 453.0,170.0 453.0,170.5 453.0,171.0 453.0,171.5 453.0,172.0 453.0,172.5 453.0,173.0 453.0,173.5 453.0,174.0 453.0,174.5 453.0,175.0 453.0,175.5 453.0,176.0 453.0,176.5 453.0,177.0 453.0,177.5 453.0,178.0 453.0,178.5 453.0,179.0 453.0,179.5 453.0,180.0 453.0,180.5 453.0,181.0 453.0,181.5 453.0,182.0 453.0,182.5 453.0,183.0 453.0,183.5 453.0,184.0 453.0,184.5 453.0,185.0 453.0,185.5 453.0,186.0 453.0,186.5 453.0,187.0 453.0,187.5 452.6,188.0 452.1,188.5 452.1,189.0 452.1,189.5 452.1,190.0 452.1,190.5 452.1,191.0 453.3,191.5 L453.95,191.50 Z" fill="#235f9f"/>
<path d="M453.60,82.00 L454.2,82.0 454.2,82.5 454.2,83.0 454.2,83.5 454.2,84.0 454.2,84.5 454.2,85.0 454.3,85.5 454.3,86.0 454.3,86.5 454.3,87.0 454.3,87.5 454.3,88.0 454.3,88.5 454.4,89.0 454.4,89.5 454.4,90.0 454.4,90.5 454.4,91.0 454.5,91.5 454.5,92.0 454.5,92.5 454.5,93.0 454.6,93.5 454.6,94.0 454.6,94.5 454.7,95.0 454.7,95.5 454.7,96.0 454.8,96.5 454.9,97.0 454.9,97.5 455.0,98.0 455.1,98.5 455.2,99.0 455.3,99.5 455.4,100.0 455.4,100.5 455.5,101.0 455.6,101.5 455.7,102.0 455.7,102.5 455.8,103.0 455.8,103.5 455.9,104.0 456.0,104.5 456.1,105.0 455.6,105.5 456.0,106.0 456.5,106.5 456.8,107.0 456.1,107.5 456.9,108.0 456.8,108.5 456.5,109.0 457.5,109.5 457.7,110.0 457.7,110.5 458.1,111.0 457.4,111.5 458.0,112.0 458.4,112.5 458.0,113.0 458.2,113.5 458.2,114.0 458.9,114.5 459.4,115.0 459.4,115.5 458.9,116.0 459.6,116.5 459.5,117.0 459.2,117.5 460.1,118.0 459.6,118.5 460.6,119.0 460.1,119.5 460.7,120.0 460.5,120.5 461.0,121.0 460.7,121.5 461.4,122.0 460.8,122.5 460.8,123.0 461.7,123.5 461.1,124.0 462.3,124.5 461.7,125.0 461.7,125.5 461.6,126.0 462.4,126.5 462.4,127.0 462.4,127.5 463.3,128.0 463.3,128.5 463.1,129.0 463.7,129.5 464.1,130.0 463.8,130.5 463.6,131.0 464.0,131.5 464.1,132.0 465.0,132.5 464.3,133.0 464.9,133.5 465.3,134.0 465.6,134.5 465.1,135.0 465.9,135.5 466.3,136.0 466.4,136.5 466.9,137.0 466.2,137.5 467.3,138.0 467.1,138.5 467.7,139.0 467.1,139.5 467.5,140.0 468.1,140.5 469.0,141.0 468.9,141.5 469.4,142.0 470.3,142.5 470.2,143.0 471.2,143.5 471.2,144.0 471.9,144.5 471.4,145.0 471.8,145.5 471.6,146.0 472.3,146.5 472.7,147.0 472.1,147.5 472.4,148.0 472.3,148.5 471.6,149.0 472.5,149.5 472.2,150.0 472.1,150.5 472.3,151.0 471.7,151.5 471.8,152.0 471.4,152.5 470.9,153.0 471.6,153.5 471.2,154.0 470.6,154.5 470.4,155.0 469.4,155.5 469.1,156.0 469.0,156.5 467.8,157.0 467.6,157.5 467.4,158.0 466.9,158.5 466.2,159.0 465.0,159.5 464.7,160.0 464.4,160.5 464.0,161.0 463.3,161.5 463.2,162.0 462.3,162.5 462.6,163.0 462.0,163.5 460.9,164.0 461.3,164.5 461.1,165.0 460.8,165.5 459.9,166.0 459.6,166.5 459.3,167.0 459.4,167.5 458.7,168.0 457.9,168.5 457.5,169.0 457.2,169.5 457.6,170.0 457.4,170.5 456.5,171.0 456.2,171.5 457.0,172.0 456.3,172.5 456.7,173.0 455.7,173.5 456.0,174.0 455.9,174.5 455.8,175.0 455.7,175.5 455.6,176.0 455.4,176.5 455.3,177.0 455.2,177.5 455.1,178.0 455.0,178.5 454.9,179.0 454.9,179.5 454.8,180.0 454.8,180.5 454.7,181.0 454.7,181.5 454.6,182.0 454.6,182.5 454.6,183.0 454.5,183.5 454.5,184.0 454.5,184.5 454.5,185.0 454.4,185.5 454.4,186.0 454.4,186.5 454.4,187.0 454.4,187.5 454.6,188.0 454.8,188.5 454.8,189.0 454.8,189.5 454.8,190.0 454.8,190.5 454.8,191.0 453.9,191.5 L453.60,191.50 Z" fill="#5bb974"/>
<circle cx="453.00" cy="51.50" r="0.95" fill="#235f9f"/>
<circle cx="454.20" cy="56.00" r="0.95" fill="#5bb974"/>
<circle cx="453.00" cy="61.00" r="0.95" fill="#235f9f"/>
<circle cx="454.20" cy="66.00" r="0.95" fill="#5bb974"/>
<circle cx="454.20" cy="71.00" r="0.95" fill="#5bb974"/>
<circle cx="453.00" cy="76.00" r="0.95" fill="#235f9f"/>
<path d="M498.35,51.00 L497.5,51.0 497.5,51.5 497.5,52.0 497.5,52.5 497.5,53.0 497.5,53.5 497.5,54.0 497.5,54.5 497.5,55.0 497.5,55.5 497.5,56.0 497.5,56.5 497.5,57.0 497.5,57.5 497.5,58.0 497.5,58.5 497.5,59.0 497.5,59.5 497.5,60.0 497.5,60.5 497.5,61.0 497.5,61.5 497.5,62.0 497.5,62.5 497.5,63.0 497.5,63.5 497.5,64.0 497.4,64.5 497.4,65.0 497.4,65.5 497.4,66.0 497.4,66.5 497.4,67.0 497.4,67.5 497.4,68.0 497.4,68.5 497.4,69.0 497.4,69.5 497.4,70.0 497.4,70.5 497.4,71.0 497.4,71.5 497.4,72.0 497.4,72.5 497.4,73.0 497.4,73.5 497.4,74.0 497.4,74.5 497.4,75.0 497.4,75.5 497.4,76.0 497.4,76.5 497.4,77.0 497.4,77.5 497.4,78.0 497.4,78.5 497.3,79.0 497.3,79.5 497.3,80.0 497.3,80.5 497.3,81.0 497.3,81.5 497.3,82.0 497.3,82.5 497.3,83.0 497.3,83.5 497.3,84.0 497.3,84.5 497.3,85.0 497.3,85.5 497.3,86.0 497.3,86.5 497.3,87.0 497.3,87.5 497.3,88.0 497.3,88.5 497.3,89.0 497.3,89.5 497.2,90.0 497.2,90.5 497.2,91.0 497.2,91.5 497.2,92.0 497.2,92.5 497.2,93.0 497.2,93.5 497.2,94.0 497.2,94.5 497.2,95.0 497.2,95.5 497.2,96.0 497.2,96.5 497.2,97.0 497.2,97.5 497.2,98.0 497.2,98.5 497.2,99.0 497.2,99.5 497.2,100.0 497.2,100.5 497.1,101.0 497.1,101.5 497.1,102.0 497.1,102.5 497.1,103.0 497.1,103.5 497.1,104.0 497.1,104.5 497.1,105.0 497.1,105.5 497.1,106.0 497.1,106.5 497.1,107.0 497.1,107.5 497.1,108.0 497.1,108.5 497.1,109.0 497.1,109.5 497.0,110.0 497.0,110.5 497.0,111.0 497.0,111.5 497.0,112.0 497.0,112.5 497.0,113.0 497.0,113.5 497.0,114.0 496.9,114.5 496.9,115.0 496.9,115.5 496.9,116.0 496.9,116.5 496.8,117.0 496.8,117.5 496.7,118.0 496.6,118.5 496.5,119.0 496.4,119.5 496.3,120.0 496.2,120.5 496.1,121.0 496.0,121.5 495.9,122.0 495.7,122.5 495.6,123.0 495.2,123.5 495.0,124.0 494.9,124.5 494.6,125.0 494.3,125.5 494.0,126.0 494.4,126.5 493.9,127.0 494.2,127.5 493.3,128.0 493.3,128.5 493.0,129.0 492.0,129.5 491.6,130.0 491.6,130.5 491.2,131.0 490.0,131.5 489.6,132.0 489.3,132.5 488.4,133.0 488.7,133.5 487.9,134.0 487.2,134.5 486.7,135.0 486.3,135.5 486.4,136.0 486.3,136.5 485.8,137.0 485.1,137.5 484.4,138.0 484.7,138.5 484.3,139.0 483.7,139.5 484.0,140.0 483.4,140.5 483.2,141.0 483.1,141.5 482.6,142.0 483.1,142.5 482.1,143.0 482.5,143.5 481.9,144.0 481.3,144.5 480.8,145.0 481.1,145.5 480.1,146.0 481.3,146.5 481.7,147.0 482.4,147.5 482.6,148.0 484.1,148.5 485.4,149.0 485.3,149.5 486.5,150.0 487.9,150.5 488.7,151.0 490.2,151.5 491.6,152.0 492.6,152.5 493.4,153.0 494.5,153.5 494.5,154.0 495.3,154.5 495.4,155.0 495.1,155.5 495.5,156.0 495.7,156.5 495.9,157.0 496.1,157.5 496.2,158.0 496.3,158.5 496.4,159.0 496.5,159.5 496.7,160.0 496.8,160.5 496.9,161.0 497.0,161.5 497.0,162.0 497.1,162.5 497.2,163.0 497.3,163.5 497.3,164.0 497.3,164.5 497.4,165.0 497.4,165.5 497.4,166.0 497.4,166.5 497.4,167.0 497.4,167.5 497.4,168.0 497.4,168.5 497.4,169.0 497.4,169.5 497.4,170.0 497.4,170.5 497.4,171.0 497.4,171.5 497.4,172.0 497.4,172.5 497.4,173.0 497.4,173.5 497.4,174.0 497.4,174.5 497.4,175.0 497.4,175.5 497.4,176.0 497.4,176.5 497.4,177.0 497.4,177.5 497.4,178.0 497.4,178.5 497.4,179.0 497.4,179.5 497.4,180.0 497.4,180.5 497.4,181.0 497.4,181.5 497.4,182.0 497.4,182.5 497.4,183.0 497.4,183.5 497.4,184.0 497.4,184.5 497.4,185.0 496.4,185.5 496.2,186.0 496.2,186.5 496.2,187.0 496.2,187.5 496.2,188.0 496.2,188.5 496.2,189.0 496.2,189.5 496.2,190.0 496.2,190.5 497.7,191.0 L498.35,191.00 Z" fill="#235f9f"/>
<path d="M498.00,51.00 L499.0,51.0 499.0,51.5 499.0,52.0 499.0,52.5 499.0,53.0 499.0,53.5 499.0,54.0 499.0,54.5 499.0,55.0 499.0,55.5 499.0,56.0 499.0,56.5 499.0,57.0 499.0,57.5 499.0,58.0 499.0,58.5 499.0,59.0 499.0,59.5 499.0,60.0 499.0,60.5 499.0,61.0 499.0,61.5 499.0,62.0 499.0,62.5 499.1,63.0 499.1,63.5 499.1,64.0 499.1,64.5 499.1,65.0 499.1,65.5 499.1,66.0 499.1,66.5 499.1,67.0 499.1,67.5 499.1,68.0 499.1,68.5 499.1,69.0 499.1,69.5 499.1,70.0 499.1,70.5 499.1,71.0 499.2,71.5 499.2,72.0 499.2,72.5 499.2,73.0 499.2,73.5 499.2,74.0 499.2,74.5 499.3,75.0 499.3,75.5 499.4,76.0 499.5,76.5 499.6,77.0 499.7,77.5 499.8,78.0 499.9,78.5 500.0,79.0 500.1,79.5 500.2,80.0 500.4,80.5 500.5,81.0 500.2,81.5 501.0,82.0 501.1,82.5 501.2,83.0 501.5,83.5 501.5,84.0 501.5,84.5 500.8,85.0 501.5,85.5 501.7,86.0 500.7,86.5 500.9,87.0 501.6,87.5 501.2,88.0 500.8,88.5 501.7,89.0 501.8,89.5 501.0,90.0 501.3,90.5 501.5,91.0 501.8,91.5 501.2,92.0 501.4,92.5 501.9,93.0 501.1,93.5 502.0,94.0 501.8,94.5 501.6,95.0 502.4,95.5 502.6,96.0 502.6,96.5 502.8,97.0 503.0,97.5 503.4,98.0 503.6,98.5 504.6,99.0 504.9,99.5 504.6,100.0 504.8,100.5 504.9,101.0 505.3,101.5 505.8,102.0 506.6,102.5 505.8,103.0 506.9,103.5 506.4,104.0 506.9,104.5 507.7,105.0 507.2,105.5 507.3,106.0 508.6,106.5 508.5,107.0 508.9,107.5 508.7,108.0 510.1,108.5 510.4,109.0 510.8,109.5 511.2,110.0 511.1,110.5 511.8,111.0 511.8,111.5 511.9,112.0 511.9,112.5 512.3,113.0 512.6,113.5 512.2,114.0 512.4,114.5 513.2,115.0 513.2,115.5 513.2,116.0 513.6,116.5 513.8,117.0 514.3,117.5 514.0,118.0 514.4,118.5 515.3,119.0 515.5,119.5 515.1,120.0 515.2,120.5 515.4,121.0 515.8,121.5 516.5,122.0 515.7,122.5 516.1,123.0 516.1,123.5 515.3,124.0 515.3,124.5 515.7,125.0 516.0,125.5 515.3,126.0 515.5,126.5 514.7,127.0 515.4,127.5 515.1,128.0 515.1,128.5 514.8,129.0 514.9,129.5 514.2,130.0 514.1,130.5 514.2,131.0 513.6,131.5 513.6,132.0 513.2,132.5 513.4,133.0 513.3,133.5 512.9,134.0 512.4,134.5 512.1,135.0 512.7,135.5 512.2,136.0 512.2,136.5 512.2,137.0 511.8,137.5 511.2,138.0 511.9,138.5 512.0,139.0 512.1,139.5 511.3,140.0 511.9,140.5 512.1,141.0 512.0,141.5 512.4,142.0 512.5,142.5 513.6,143.0 513.9,143.5 513.8,144.0 513.7,144.5 513.5,145.0 514.0,145.5 513.9,146.0 512.6,146.5 512.9,147.0 512.5,147.5 512.4,148.0 512.0,148.5 511.3,149.0 511.6,149.5 511.2,150.0 509.9,150.5 510.3,151.0 509.6,151.5 509.0,152.0 507.8,152.5 508.1,153.0 506.9,153.5 507.0,154.0 507.0,154.5 506.0,155.0 505.4,155.5 505.0,156.0 505.1,156.5 504.5,157.0 504.7,157.5 504.4,158.0 503.8,158.5 503.0,159.0 503.7,159.5 502.6,160.0 503.1,160.5 502.1,161.0 502.0,161.5 502.0,162.0 502.4,162.5 502.4,163.0 501.4,163.5 501.8,164.0 501.3,164.5 500.9,165.0 501.4,165.5 500.4,166.0 500.6,166.5 500.8,167.0 500.4,167.5 500.3,168.0 500.1,168.5 500.0,169.0 499.9,169.5 499.8,170.0 499.7,170.5 499.6,171.0 499.5,171.5 499.4,172.0 499.4,172.5 499.3,173.0 499.2,173.5 499.1,174.0 499.1,174.5 499.0,175.0 498.9,175.5 498.9,176.0 498.8,176.5 498.8,177.0 498.7,177.5 498.7,178.0 498.6,178.5 498.6,179.0 498.6,179.5 498.6,180.0 498.6,180.5 498.6,181.0 498.6,181.5 498.6,182.0 498.6,182.5 498.6,183.0 498.6,183.5 498.6,184.0 498.6,184.5 498.6,185.0 498.6,185.5 498.6,186.0 498.6,186.5 498.6,187.0 498.5,187.5 498.5,188.0 498.5,188.5 498.5,189.0 498.5,189.5 498.5,190.0 498.5,190.5 498.3,191.0 L498.00,191.00 Z" fill="#5bb974"/>
<path d="M555.75,84.90 L554.8,84.9 554.8,85.4 554.8,85.9 554.8,86.4 554.8,86.9 554.8,87.4 554.8,87.9 554.8,88.4 554.8,88.9 554.8,89.4 554.8,89.9 554.8,90.4 554.8,90.9 554.8,91.4 554.8,91.9 554.8,92.4 554.8,92.9 554.8,93.4 554.8,93.9 554.7,94.4 554.7,94.9 554.7,95.4 554.7,95.9 554.7,96.4 554.7,96.9 554.7,97.4 554.7,97.9 554.7,98.4 554.7,98.9 554.7,99.4 554.7,99.9 554.7,100.4 554.6,100.9 554.6,101.4 554.6,101.9 554.6,102.4 554.6,102.9 554.6,103.4 554.6,103.9 554.6,104.4 554.5,104.9 554.5,105.4 554.5,105.9 554.5,106.4 554.5,106.9 554.5,107.4 554.5,107.9 554.4,108.4 554.4,108.9 554.4,109.4 554.4,109.9 554.4,110.4 554.4,110.9 554.3,111.4 554.3,111.9 554.3,112.4 554.3,112.9 554.3,113.4 554.2,113.9 554.2,114.4 554.2,114.9 554.2,115.4 554.1,115.9 554.1,116.4 554.1,116.9 554.1,117.4 554.0,117.9 553.9,118.4 553.8,118.9 553.7,119.4 553.6,119.9 553.5,120.4 553.4,120.9 553.2,121.4 553.1,121.9 553.0,122.4 553.3,122.9 552.9,123.4 552.6,123.9 552.1,124.4 552.6,124.9 552.3,125.4 551.9,125.9 551.2,126.4 550.8,126.9 550.9,127.4 551.2,127.9 550.7,128.4 550.4,128.9 550.1,129.4 549.2,129.9 548.9,130.4 549.5,130.9 548.6,131.4 548.9,131.9 547.8,132.4 548.2,132.9 546.9,133.4 547.4,133.9 546.7,134.4 545.8,134.9 546.0,135.4 545.9,135.9 545.1,136.4 544.8,136.9 544.0,137.4 544.0,137.9 544.0,138.4 542.7,138.9 542.6,139.4 542.0,139.9 542.0,140.4 541.2,140.9 541.2,141.4 540.3,141.9 539.9,142.4 539.4,142.9 538.8,143.4 538.6,143.9 538.9,144.4 538.7,144.9 538.3,145.4 539.7,145.9 540.1,146.4 540.9,146.9 541.4,147.4 541.7,147.9 542.6,148.4 543.3,148.9 543.9,149.4 545.5,149.9 545.1,150.4 545.9,150.9 546.8,151.4 548.0,151.9 548.7,152.4 548.7,152.9 549.3,153.4 549.6,153.9 550.4,154.4 550.6,154.9 551.4,155.4 551.3,155.9 552.4,156.4 552.9,156.9 552.6,157.4 553.0,157.9 553.1,158.4 553.3,158.9 553.4,159.4 553.5,159.9 553.6,160.4 553.8,160.9 553.8,161.4 553.9,161.9 554.0,162.4 554.1,162.9 554.1,163.4 554.2,163.9 554.2,164.4 554.3,164.9 554.3,165.4 554.4,165.9 554.4,166.4 554.5,166.9 554.5,167.4 554.5,167.9 554.6,168.4 554.6,168.9 554.7,169.4 554.7,169.9 554.7,170.4 554.7,170.9 554.8,171.4 554.8,171.9 554.8,172.4 554.8,172.9 554.9,173.4 554.9,173.9 554.9,174.4 554.9,174.9 554.9,175.4 554.9,175.9 554.9,176.4 554.9,176.9 554.9,177.4 554.9,177.9 554.9,178.4 554.9,178.9 554.9,179.4 554.9,179.9 554.9,180.4 554.9,180.9 554.9,181.4 554.9,181.9 554.9,182.4 554.9,182.9 554.9,183.4 554.9,183.9 554.9,184.4 554.9,184.9 554.9,185.4 554.9,185.9 554.9,186.4 554.9,186.9 554.9,187.4 554.9,187.9 554.9,188.4 553.7,188.9 553.6,189.4 553.6,189.9 553.6,190.4 553.6,190.9 554.5,191.4 555.1,191.5 L555.75,191.50 Z" fill="#235f9f" fill-opacity="0.85"/>
<path d="M555.40,84.90 L556.2,84.9 556.2,85.4 556.3,85.9 556.3,86.4 556.4,86.9 556.4,87.4 556.5,87.9 556.5,88.4 556.6,88.9 556.6,89.4 556.7,89.9 556.8,90.4 556.8,90.9 556.9,91.4 557.0,91.9 557.0,92.4 557.1,92.9 557.2,93.4 557.2,93.9 557.3,94.4 557.4,94.9 557.5,95.4 557.6,95.9 557.6,96.4 557.7,96.9 557.9,97.4 558.1,97.9 558.4,98.4 558.4,98.9 558.2,99.4 557.8,99.9 558.7,100.4 558.6,100.9 559.0,101.4 558.1,101.9 558.6,102.4 558.4,102.9 559.1,103.4 558.6,103.9 558.9,104.4 558.2,104.9 558.9,105.4 559.3,105.9 558.7,106.4 558.6,106.9 558.4,107.4 559.4,107.9 558.8,108.4 558.8,108.9 558.7,109.4 559.4,109.9 558.9,110.4 559.0,110.9 558.8,111.4 559.1,111.9 559.3,112.4 559.5,112.9 559.5,113.4 559.2,113.9 560.4,114.4 559.8,114.9 560.3,115.4 560.2,115.9 560.5,116.4 560.0,116.9 560.5,117.4 560.2,117.9 560.8,118.4 561.1,118.9 560.5,119.4 560.2,119.9 560.5,120.4 560.7,120.9 560.4,121.4 561.2,121.9 560.8,122.4 560.6,122.9 561.2,123.4 561.5,123.9 560.8,124.4 560.9,124.9 560.8,125.4 560.8,125.9 561.0,126.4 561.2,126.9 561.7,127.4 561.4,127.9 561.8,128.4 561.3,128.9 562.5,129.4 562.8,129.9 562.9,130.4 562.4,130.9 563.0,131.4 563.4,131.9 564.5,132.4 564.5,132.9 564.4,133.4 564.2,133.9 564.8,134.4 565.2,134.9 565.9,135.4 566.2,135.9 566.1,136.4 566.4,136.9 566.0,137.4 567.0,137.9 567.5,138.4 567.2,138.9 567.5,139.4 568.3,139.9 568.6,140.4 567.9,140.9 569.0,141.4 568.6,141.9 569.7,142.4 569.2,142.9 570.2,143.4 570.2,143.9 569.7,144.4 570.3,144.9 570.8,145.4 571.2,145.9 571.4,146.4 571.1,146.9 572.1,147.4 572.1,147.9 572.0,148.4 572.1,148.9 572.2,149.4 572.8,149.9 573.1,150.4 573.9,150.9 573.8,151.4 574.0,151.9 573.7,152.4 574.0,152.9 572.3,153.4 572.3,153.9 571.0,154.4 570.9,154.9 569.9,155.4 569.7,155.9 569.3,156.4 569.2,156.9 568.6,157.4 567.9,157.9 567.5,158.4 567.9,158.9 566.9,159.4 567.1,159.9 567.0,160.4 565.7,160.9 565.8,161.4 565.3,161.9 564.7,162.4 564.8,162.9 563.7,163.4 563.7,163.9 563.2,164.4 563.7,164.9 562.7,165.4 562.7,165.9 562.3,166.4 561.4,166.9 562.0,167.4 561.0,167.9 561.5,168.4 560.5,168.9 560.8,169.4 559.9,169.9 560.5,170.4 559.3,170.9 559.6,171.4 559.4,171.9 559.5,172.4 559.3,172.9 558.7,173.4 558.5,173.9 558.1,174.4 558.3,174.9 557.5,175.4 557.9,175.9 557.7,176.4 557.6,176.9 557.5,177.4 557.4,177.9 557.2,178.4 557.1,178.9 557.0,179.4 556.9,179.9 556.8,180.4 556.8,180.9 556.7,181.4 556.6,181.9 556.5,182.4 556.5,182.9 556.4,183.4 556.3,183.9 556.3,184.4 556.2,184.9 556.2,185.4 556.1,185.9 556.1,186.4 556.0,186.9 556.0,187.4 556.0,187.9 556.0,188.4 556.0,188.9 556.0,189.4 556.0,189.9 556.0,190.4 556.0,190.9 556.0,191.2 L555.40,191.20 Z" fill="#5bb974"/>
<circle cx="556.00" cy="61.30" r="0.95" fill="#5bb974"/>
<circle cx="556.00" cy="74.20" r="0.95" fill="#5bb974"/>
<path d="M600.15,85.90 L599.3,85.9 599.3,86.4 599.3,86.9 599.3,87.4 599.3,87.9 599.3,88.4 599.3,88.9 599.3,89.4 599.3,89.9 599.3,90.4 599.3,90.9 599.3,91.4 599.3,91.9 599.3,92.4 599.3,92.9 599.3,93.4 599.3,93.9 599.3,94.4 599.3,94.9 599.3,95.4 599.3,95.9 599.3,96.4 599.3,96.9 599.3,97.4 599.3,97.9 599.3,98.4 599.3,98.9 599.3,99.4 599.3,99.9 599.3,100.4 599.3,100.9 599.3,101.4 599.3,101.9 599.3,102.4 599.3,102.9 599.3,103.4 599.2,103.9 599.2,104.4 599.2,104.9 599.2,105.4 599.2,105.9 599.2,106.4 599.2,106.9 599.2,107.4 599.2,107.9 599.2,108.4 599.2,108.9 599.2,109.4 599.2,109.9 599.2,110.4 599.2,110.9 599.1,111.4 599.1,111.9 599.0,112.4 598.9,112.9 598.8,113.4 598.7,113.9 598.7,114.4 598.6,114.9 598.5,115.4 598.4,115.9 598.3,116.4 598.2,116.9 598.1,117.4 598.0,117.9 597.9,118.4 597.8,118.9 597.7,119.4 597.5,119.9 597.4,120.4 597.3,120.9 597.6,121.4 597.5,121.9 597.0,122.4 596.6,122.9 597.3,123.4 596.5,123.9 596.6,124.4 597.1,124.9 596.5,125.4 597.2,125.9 597.2,126.4 596.6,126.9 596.5,127.4 596.7,127.9 596.6,128.4 596.5,128.9 595.8,129.4 595.5,129.9 596.2,130.4 595.7,130.9 595.6,131.4 594.9,131.9 594.3,132.4 595.0,132.9 593.9,133.4 593.6,133.9 593.4,134.4 593.5,134.9 592.1,135.4 592.5,135.9 591.9,136.4 591.1,136.9 590.6,137.4 590.6,137.9 589.5,138.4 588.8,138.9 588.4,139.4 587.4,139.9 587.6,140.4 586.3,140.9 586.3,141.4 584.8,141.9 584.8,142.4 584.1,142.9 583.8,143.4 583.0,143.9 582.8,144.4 583.2,144.9 583.3,145.4 583.5,145.9 584.4,146.4 584.7,146.9 585.8,147.4 586.2,147.9 587.1,148.4 588.8,148.9 589.2,149.4 590.7,149.9 590.9,150.4 591.9,150.9 592.6,151.4 593.5,151.9 594.1,152.4 594.9,152.9 596.0,153.4 596.2,153.9 596.4,154.4 596.7,154.9 596.5,155.4 596.5,155.9 597.7,156.4 597.4,156.9 597.6,157.4 597.8,157.9 597.9,158.4 598.1,158.9 598.2,159.4 598.3,159.9 598.5,160.4 598.6,160.9 598.7,161.4 598.8,161.9 598.9,162.4 598.9,162.9 599.0,163.4 599.0,163.9 599.0,164.4 599.0,164.9 599.0,165.4 599.0,165.9 599.0,166.4 599.1,166.9 599.1,167.4 599.1,167.9 599.1,168.4 599.1,168.9 599.1,169.4 599.1,169.9 599.1,170.4 599.1,170.9 599.1,171.4 599.1,171.9 599.1,172.4 599.1,172.9 599.1,173.4 599.1,173.9 599.1,174.4 599.1,174.9 599.2,175.4 599.2,175.9 599.2,176.4 599.2,176.9 599.2,177.4 599.2,177.9 599.2,178.4 599.2,178.9 599.2,179.4 599.2,179.9 599.2,180.4 599.2,180.9 599.2,181.4 599.2,181.9 599.2,182.4 599.2,182.9 599.2,183.4 599.2,183.9 599.2,184.4 599.2,184.9 599.2,185.4 599.2,185.9 599.2,186.4 599.2,186.9 599.2,187.4 599.2,187.9 599.2,188.4 597.9,188.9 597.8,189.4 597.8,189.9 597.8,190.4 597.8,190.9 598.8,191.4 599.5,191.5 L600.15,191.50 Z" fill="#235f9f" fill-opacity="0.9"/>
<path d="M599.80,85.90 L600.4,85.9 600.4,86.4 600.4,86.9 600.4,87.4 600.4,87.9 600.4,88.4 600.4,88.9 600.4,89.4 600.4,89.9 600.4,90.4 600.4,90.9 600.4,91.4 600.5,91.9 600.5,92.4 600.5,92.9 600.5,93.4 600.5,93.9 600.5,94.4 600.5,94.9 600.5,95.4 600.5,95.9 600.6,96.4 600.6,96.9 600.6,97.4 600.6,97.9 600.6,98.4 600.6,98.9 600.6,99.4 600.7,99.9 600.7,100.4 600.7,100.9 600.7,101.4 600.7,101.9 600.8,102.4 600.8,102.9 600.8,103.4 600.8,103.9 600.8,104.4 600.9,104.9 600.9,105.4 600.9,105.9 600.9,106.4 601.0,106.9 601.0,107.4 601.0,107.9 601.1,108.4 601.1,108.9 601.2,109.4 601.2,109.9 601.3,110.4 601.3,110.9 601.4,111.4 601.5,111.9 601.5,112.4 601.6,112.9 601.7,113.4 601.8,113.9 601.9,114.4 602.0,114.9 602.1,115.4 602.2,115.9 602.2,116.4 602.4,116.9 602.5,117.4 602.5,117.9 602.8,118.4 603.2,118.9 602.7,119.4 603.3,119.9 602.7,120.4 603.0,120.9 603.6,121.4 603.0,121.9 602.7,122.4 603.4,122.9 603.2,123.4 603.7,123.9 603.1,124.4 603.7,124.9 603.4,125.4 603.2,125.9 602.9,126.4 603.1,126.9 603.3,127.4 603.5,127.9 603.0,128.4 603.0,128.9 603.0,129.4 603.9,129.9 604.2,130.4 604.1,130.9 604.6,131.4 604.6,131.9 604.0,132.4 605.2,132.9 605.0,133.4 604.7,133.9 605.1,134.4 605.1,134.9 605.3,135.4 605.5,135.9 606.6,136.4 606.4,136.9 607.0,137.4 607.7,137.9 607.9,138.4 608.3,138.9 608.0,139.4 609.2,139.9 609.9,140.4 610.1,140.9 611.3,141.4 611.8,141.9 612.5,142.4 613.5,142.9 613.2,143.4 614.2,143.9 614.8,144.4 615.7,144.9 616.2,145.4 616.7,145.9 616.3,146.4 616.5,146.9 617.8,147.4 617.3,147.9 617.8,148.4 618.0,148.9 618.2,149.4 618.3,149.9 617.6,150.4 617.4,150.9 617.6,151.4 617.8,151.9 616.6,152.4 617.0,152.9 616.0,153.4 616.2,153.9 615.1,154.4 615.6,154.9 614.4,155.4 615.0,155.9 613.6,156.4 614.2,156.9 612.8,157.4 612.9,157.9 612.4,158.4 611.9,158.9 611.4,159.4 611.6,159.9 611.0,160.4 611.0,160.9 610.8,161.4 610.4,161.9 610.0,162.4 609.8,162.9 609.1,163.4 608.7,163.9 608.8,164.4 607.9,164.9 607.1,165.4 606.5,165.9 606.7,166.4 605.9,166.9 606.1,167.4 604.7,167.9 605.1,168.4 604.3,168.9 604.5,169.4 604.0,169.9 603.6,170.4 603.0,170.9 603.1,171.4 602.9,171.9 602.1,172.4 602.7,172.9 602.2,173.4 602.0,173.9 601.8,174.4 601.7,174.9 601.5,175.4 601.4,175.9 601.4,176.4 601.3,176.9 601.2,177.4 601.2,177.9 601.1,178.4 601.1,178.9 601.0,179.4 601.0,179.9 600.9,180.4 600.9,180.9 600.8,181.4 600.8,181.9 600.8,182.4 600.7,182.9 600.7,183.4 600.6,183.9 600.6,184.4 600.5,184.9 600.5,185.4 600.5,185.9 600.4,186.4 600.4,186.9 600.4,187.4 600.4,187.9 600.4,188.4 600.4,188.9 600.4,189.4 600.4,189.9 600.4,190.4 600.4,190.9 600.4,191.2 L599.80,191.20 Z" fill="#5bb974"/>
<circle cx="599.20" cy="62.80" r="0.95" fill="#235f9f"/>
<circle cx="600.40" cy="70.00" r="0.95" fill="#5bb974"/>
<circle cx="600.40" cy="77.50" r="0.95" fill="#5bb974"/>
<path d="M643.45,72.00 L642.6,72.0 642.6,72.5 642.6,73.0 642.6,73.5 642.6,74.0 642.6,74.5 642.6,75.0 642.6,75.5 642.6,76.0 642.6,76.5 642.6,77.0 642.6,77.5 642.6,78.0 642.6,78.5 642.6,79.0 642.6,79.5 642.6,80.0 642.6,80.5 642.6,81.0 642.6,81.5 642.6,82.0 642.6,82.5 642.6,83.0 642.6,83.5 642.6,84.0 642.6,84.5 642.6,85.0 642.6,85.5 642.6,86.0 642.6,86.5 642.6,87.0 642.6,87.5 642.6,88.0 642.6,88.5 642.6,89.0 642.6,89.5 642.6,90.0 642.6,90.5 642.6,91.0 642.6,91.5 642.6,92.0 642.6,92.5 642.6,93.0 642.6,93.5 642.5,94.0 642.5,94.5 642.5,95.0 642.5,95.5 642.5,96.0 642.5,96.5 642.5,97.0 642.5,97.5 642.5,98.0 642.5,98.5 642.5,99.0 642.5,99.5 642.5,100.0 642.5,100.5 642.5,101.0 642.5,101.5 642.5,102.0 642.5,102.5 642.5,103.0 642.5,103.5 642.5,104.0 642.5,104.5 642.5,105.0 642.5,105.5 642.5,106.0 642.4,106.5 642.4,107.0 642.4,107.5 642.4,108.0 642.4,108.5 642.4,109.0 642.4,109.5 642.4,110.0 642.4,110.5 642.4,111.0 642.4,111.5 642.4,112.0 642.4,112.5 642.4,113.0 642.4,113.5 642.3,114.0 642.3,114.5 642.3,115.0 642.3,115.5 642.3,116.0 642.3,116.5 642.3,117.0 642.3,117.5 642.2,118.0 642.1,118.5 642.0,119.0 641.9,119.5 641.8,120.0 641.7,120.5 641.5,121.0 641.4,121.5 641.3,122.0 641.2,122.5 641.0,123.0 640.9,123.5 640.8,124.0 640.7,124.5 640.5,125.0 640.4,125.5 639.8,126.0 640.2,126.5 640.1,127.0 639.5,127.5 639.3,128.0 639.0,128.5 639.0,129.0 639.2,129.5 638.2,130.0 638.7,130.5 638.2,131.0 637.7,131.5 636.8,132.0 637.0,132.5 636.7,133.0 636.0,133.5 635.4,134.0 635.0,134.5 634.6,135.0 634.8,135.5 634.5,136.0 633.8,136.5 633.0,137.0 632.4,137.5 631.7,138.0 631.4,138.5 631.1,139.0 630.7,139.5 630.0,140.0 629.9,140.5 629.2,141.0 627.8,141.5 627.4,142.0 627.4,142.5 626.7,143.0 626.4,143.5 626.5,144.0 626.5,144.5 627.1,145.0 627.1,145.5 628.8,146.0 629.3,146.5 630.4,147.0 631.4,147.5 632.7,148.0 633.6,148.5 634.7,149.0 635.9,149.5 637.2,150.0 637.7,150.5 638.4,151.0 639.5,151.5 639.6,152.0 640.8,152.5 640.6,153.0 640.8,153.5 641.0,154.0 641.2,154.5 641.4,155.0 641.5,155.5 641.6,156.0 641.7,156.5 641.8,157.0 641.9,157.5 641.9,158.0 641.9,158.5 642.0,159.0 642.0,159.5 642.0,160.0 642.1,160.5 642.1,161.0 642.1,161.5 642.2,162.0 642.2,162.5 642.2,163.0 642.2,163.5 642.3,164.0 642.3,164.5 642.3,165.0 642.3,165.5 642.3,166.0 642.4,166.5 642.4,167.0 642.4,167.5 642.4,168.0 642.4,168.5 642.4,169.0 642.4,169.5 642.4,170.0 642.4,170.5 642.4,171.0 642.4,171.5 642.4,172.0 642.4,172.5 642.4,173.0 642.4,173.5 642.4,174.0 642.4,174.5 642.4,175.0 642.4,175.5 642.4,176.0 642.4,176.5 642.4,177.0 642.4,177.5 642.4,178.0 642.4,178.5 642.4,179.0 642.4,179.5 642.4,180.0 642.4,180.5 642.4,181.0 642.4,181.5 642.4,182.0 642.4,182.5 642.4,183.0 642.4,183.5 642.4,184.0 642.4,184.5 642.4,185.0 642.4,185.5 642.4,186.0 642.4,186.5 642.4,187.0 642.4,187.5 642.4,188.0 642.4,188.5 641.3,189.0 641.3,189.5 641.3,190.0 641.3,190.5 641.3,191.0 642.8,191.5 L643.45,191.50 Z" fill="#235f9f"/>
<path d="M643.10,72.00 L643.9,72.0 643.9,72.5 643.9,73.0 643.9,73.5 643.9,74.0 643.9,74.5 643.9,75.0 643.9,75.5 643.9,76.0 643.9,76.5 643.9,77.0 643.9,77.5 643.9,78.0 644.0,78.5 644.0,79.0 644.0,79.5 644.0,80.0 644.0,80.5 644.0,81.0 644.0,81.5 644.0,82.0 644.0,82.5 644.0,83.0 644.1,83.5 644.1,84.0 644.1,84.5 644.1,85.0 644.1,85.5 644.1,86.0 644.2,86.5 644.2,87.0 644.2,87.5 644.2,88.0 644.2,88.5 644.2,89.0 644.3,89.5 644.3,90.0 644.3,90.5 644.3,91.0 644.3,91.5 644.4,92.0 644.4,92.5 644.4,93.0 644.4,93.5 644.5,94.0 644.5,94.5 644.5,95.0 644.5,95.5 644.6,96.0 644.6,96.5 644.7,97.0 644.7,97.5 644.8,98.0 644.8,98.5 644.9,99.0 645.0,99.5 645.0,100.0 645.1,100.5 645.2,101.0 645.3,101.5 645.3,102.0 645.4,102.5 645.5,103.0 645.7,103.5 645.5,104.0 646.1,104.5 645.8,105.0 646.0,105.5 646.7,106.0 646.8,106.5 646.4,107.0 646.1,107.5 646.4,108.0 646.7,108.5 647.5,109.0 647.4,109.5 646.9,110.0 647.1,110.5 647.2,111.0 648.1,111.5 647.9,112.0 648.3,112.5 647.9,113.0 648.4,113.5 648.1,114.0 648.4,114.5 648.8,115.0 649.3,115.5 648.7,116.0 649.6,116.5 649.0,117.0 649.8,117.5 650.2,118.0 649.7,118.5 649.7,119.0 650.6,119.5 650.4,120.0 650.4,120.5 650.7,121.0 651.5,121.5 651.3,122.0 651.3,122.5 652.4,123.0 651.7,123.5 652.3,124.0 652.7,124.5 653.2,125.0 653.3,125.5 653.1,126.0 653.4,126.5 654.0,127.0 654.2,127.5 653.4,128.0 653.9,128.5 654.3,129.0 654.8,129.5 655.0,130.0 655.2,130.5 655.2,131.0 655.1,131.5 655.6,132.0 656.1,132.5 655.8,133.0 656.0,133.5 656.6,134.0 656.4,134.5 656.4,135.0 657.0,135.5 657.1,136.0 657.2,136.5 656.7,137.0 657.6,137.5 657.6,138.0 657.9,138.5 658.1,139.0 658.4,139.5 658.5,140.0 658.8,140.5 659.4,141.0 658.8,141.5 659.8,142.0 659.5,142.5 659.8,143.0 660.4,143.5 661.2,144.0 660.5,144.5 661.3,145.0 661.0,145.5 661.6,146.0 661.6,146.5 661.2,147.0 662.1,147.5 661.7,148.0 661.7,148.5 661.0,149.0 660.9,149.5 660.4,150.0 660.2,150.5 658.8,151.0 658.8,151.5 658.6,152.0 658.0,152.5 657.6,153.0 656.7,153.5 656.4,154.0 656.2,154.5 655.8,155.0 656.4,155.5 655.3,156.0 655.6,156.5 654.6,157.0 654.5,157.5 654.2,158.0 654.3,158.5 653.7,159.0 653.9,159.5 653.5,160.0 653.2,160.5 652.4,161.0 652.3,161.5 651.7,162.0 651.3,162.5 651.6,163.0 651.5,163.5 651.0,164.0 650.1,164.5 649.8,165.0 650.3,165.5 649.5,166.0 649.1,166.5 649.2,167.0 648.2,167.5 648.0,168.0 648.6,168.5 648.0,169.0 647.9,169.5 647.0,170.0 647.0,170.5 647.3,171.0 646.3,171.5 646.3,172.0 646.2,172.5 645.7,173.0 645.3,173.5 645.5,174.0 645.3,174.5 645.2,175.0 645.0,175.5 644.9,176.0 644.8,176.5 644.7,177.0 644.6,177.5 644.6,178.0 644.5,178.5 644.4,179.0 644.3,179.5 644.3,180.0 644.2,180.5 644.2,181.0 644.1,181.5 644.1,182.0 644.1,182.5 644.0,183.0 644.0,183.5 644.0,184.0 644.0,184.5 644.0,185.0 643.9,185.5 643.9,186.0 643.9,186.5 643.9,187.0 643.9,187.5 643.9,188.0 643.9,188.5 643.9,189.0 643.9,189.5 643.9,190.0 643.9,190.5 643.9,191.0 643.9,191.2 L643.10,191.20 Z" fill="#5bb974"/>
<circle cx="643.70" cy="54.00" r="0.95" fill="#5bb974"/>
<circle cx="643.70" cy="57.00" r="0.95" fill="#5bb974"/>
<circle cx="643.70" cy="60.50" r="0.95" fill="#5bb974"/>
<circle cx="642.50" cy="64.00" r="0.95" fill="#235f9f"/>
<circle cx="643.70" cy="67.00" r="0.95" fill="#5bb974"/>
<circle cx="643.70" cy="70.00" r="0.95" fill="#5bb974"/>
<line x1="383.80" y1="144.40" x2="524.00" y2="144.40" stroke="#111" stroke-width="1.2" stroke-dasharray="5.7 5.8"/>
<line x1="529.80" y1="144.40" x2="670.00" y2="144.40" stroke="#111" stroke-width="1.2" stroke-dasharray="5.7 5.8"/>
<rect x="409.80" y="133.10" width="8.60" height="2.00" fill="#fff" rx="0"/>
<text x="409.80" y="126.70" font-size="6.7" text-anchor="start" fill="#fff" font-weight="normal" dominant-baseline="central" fill-opacity="0.9">118</text>
<rect x="453.90" y="145.00" width="8.60" height="2.00" fill="#fff" rx="0"/>
<text x="453.90" y="139.20" font-size="6.7" text-anchor="start" fill="#fff" font-weight="normal" dominant-baseline="central" fill-opacity="0.9">94</text>
<rect x="498.30" y="129.00" width="8.60" height="2.00" fill="#fff" rx="0"/>
<text x="498.30" y="123.40" font-size="6.7" text-anchor="start" fill="#fff" font-weight="normal" dominant-baseline="central" fill-opacity="0.9">127</text>
<rect x="555.40" y="146.80" width="8.60" height="2.00" fill="#fff" rx="0"/>
<text x="555.40" y="141.40" font-size="6.7" text-anchor="start" fill="#fff" font-weight="normal" dominant-baseline="central" fill-opacity="0.9">91</text>
<rect x="599.70" y="149.80" width="8.60" height="2.00" fill="#fff" rx="0"/>
<text x="599.70" y="144.20" font-size="6.7" text-anchor="start" fill="#fff" font-weight="normal" dominant-baseline="central" fill-opacity="0.9">86</text>
<rect x="643.40" y="141.60" width="8.60" height="2.00" fill="#fff" rx="0"/>
<text x="643.40" y="136.50" font-size="6.7" text-anchor="start" fill="#fff" font-weight="normal" dominant-baseline="central" fill-opacity="0.9">100</text>
<rect x="413.88" y="86.35" width="22.25" height="7.70" fill="#fff" stroke="#3462ae" stroke-width="0.75" rx="1.3"/>
<text x="425.00" y="90.35" font-size="6.8" text-anchor="middle" fill="#3462ae" font-weight="normal" dominant-baseline="central" stroke="#3462ae" stroke-width="0.1">51.9%</text>
<rect x="457.88" y="86.35" width="21.25" height="7.70" fill="#fff" stroke="#3462ae" stroke-width="0.75" rx="1.3"/>
<text x="468.50" y="90.35" font-size="6.8" text-anchor="middle" fill="#3462ae" font-weight="normal" dominant-baseline="central" stroke="#3462ae" stroke-width="0.1">26.2%</text>
<rect x="501.88" y="86.35" width="21.55" height="7.70" fill="#fff" stroke="#3462ae" stroke-width="0.75" rx="1.3"/>
<text x="512.65" y="90.35" font-size="6.8" text-anchor="middle" fill="#3462ae" font-weight="normal" dominant-baseline="central" stroke="#3462ae" stroke-width="0.1">60.1%</text>
<rect x="559.38" y="86.35" width="21.65" height="7.70" fill="#fff" stroke="#3462ae" stroke-width="0.75" rx="1.3"/>
<text x="570.20" y="90.35" font-size="6.8" text-anchor="middle" fill="#3462ae" font-weight="normal" dominant-baseline="central" stroke="#3462ae" stroke-width="0.1">23.5%</text>
<rect x="602.58" y="86.35" width="21.85" height="7.70" fill="#fff" stroke="#3462ae" stroke-width="0.75" rx="1.3"/>
<text x="613.50" y="90.35" font-size="6.8" text-anchor="middle" fill="#3462ae" font-weight="normal" dominant-baseline="central" stroke="#3462ae" stroke-width="0.1">15.8%</text>
<rect x="646.88" y="86.35" width="22.15" height="7.70" fill="#fff" stroke="#3462ae" stroke-width="0.75" rx="1.3"/>
<text x="657.95" y="90.35" font-size="6.8" text-anchor="middle" fill="#3462ae" font-weight="normal" dominant-baseline="central" stroke="#3462ae" stroke-width="0.1">33.3%</text>
<rect x="413.57" y="172.35" width="21.55" height="7.70" fill="#fff" stroke="#ef8a86" stroke-width="0.75" rx="1.3"/>
<text x="424.35" y="176.35" font-size="6.8" text-anchor="middle" fill="#e44b4b" font-weight="normal" dominant-baseline="central">21.4%</text>
<rect x="457.18" y="172.35" width="21.95" height="7.70" fill="#fff" stroke="#ef8a86" stroke-width="0.75" rx="1.3"/>
<text x="468.15" y="176.35" font-size="6.8" text-anchor="middle" fill="#e44b4b" font-weight="normal" dominant-baseline="central">37.0%</text>
<rect x="500.77" y="172.35" width="22.15" height="7.70" fill="#fff" stroke="#ef8a86" stroke-width="0.75" rx="1.3"/>
<text x="511.85" y="176.35" font-size="6.8" text-anchor="middle" fill="#e44b4b" font-weight="normal" dominant-baseline="central">14.6%</text>
<rect x="559.27" y="172.35" width="20.65" height="7.70" fill="#fff" stroke="#ef8a86" stroke-width="0.75" rx="1.3"/>
<text x="569.60" y="176.35" font-size="6.8" text-anchor="middle" fill="#e44b4b" font-weight="normal" dominant-baseline="central">41.9%</text>
<rect x="603.27" y="172.35" width="20.65" height="7.70" fill="#fff" stroke="#ef8a86" stroke-width="0.75" rx="1.3"/>
<text x="613.60" y="176.35" font-size="6.8" text-anchor="middle" fill="#e44b4b" font-weight="normal" dominant-baseline="central">47.8%</text>
<rect x="647.27" y="172.35" width="20.65" height="7.70" fill="#fff" stroke="#ef8a86" stroke-width="0.75" rx="1.3"/>
<text x="657.60" y="176.35" font-size="6.8" text-anchor="middle" fill="#e44b4b" font-weight="normal" dominant-baseline="central">30.5%</text>
<text x="425.50" y="47.80" font-size="6.5" text-anchor="start" fill="#333" font-weight="normal" dominant-baseline="central"><tspan font-style="italic">P</tspan> = 1.78 × 10<tspan font-size="4" dy="-3.4">−229</tspan></text>
<text x="477.20" y="47.80" font-size="6.5" text-anchor="start" fill="#333" font-weight="normal" dominant-baseline="central"><tspan font-style="italic">P</tspan> = 6.56 × 10<tspan font-size="4" dy="-3.4">−16</tspan></text>
<text x="575.40" y="47.80" font-size="6.5" text-anchor="start" fill="#333" font-weight="normal" dominant-baseline="central"><tspan font-style="italic">P</tspan> = 4.73 × 10<tspan font-size="4" dy="-3.4">−7</tspan></text>
<text x="622.20" y="47.80" font-size="6.5" text-anchor="start" fill="#333" font-weight="normal" dominant-baseline="central"><tspan font-style="italic">P</tspan> = 6.68 × 10<tspan font-size="4" dy="-3.4">−16</tspan></text>
<text x="676.40" y="115.30" font-size="6.6" text-anchor="middle" fill="#222" font-weight="normal" transform="rotate(-90 676.4 115.3)" dominant-baseline="central">Re-adenylation</text>
<text x="676.40" y="173.10" font-size="6.6" text-anchor="middle" fill="#222" font-weight="normal" transform="rotate(-90 676.4 173.1)" dominant-baseline="central">Deadenylation</text>
<line x1="682.80" y1="138.60" x2="682.80" y2="95.50" stroke="#3766b8" stroke-width="1.1"/>
<path d="M680.80,96.20 L682.80,92.00 L684.80,96.20 Z" fill="#3766b8"/>
<line x1="682.80" y1="150.00" x2="682.80" y2="192.70" stroke="#e8474a" stroke-width="1.1"/>
<path d="M680.80,192.00 L682.80,196.20 L684.80,192.00 Z" fill="#e8474a"/>
<rect x="385.50" y="202.40" width="4.40" height="5.80" fill="#235f9f" stroke="#666" stroke-width="0.35" rx="0"/>
<rect x="385.50" y="209.30" width="35.10" height="5.80" fill="#5bb974" stroke="#666" stroke-width="0.35" rx="0"/>
<line x1="422.30" y1="201.90" x2="422.30" y2="215.60" stroke="#bbb" stroke-width="0.6"/>
<text x="390.70" y="205.50" font-size="5.2" text-anchor="start" fill="#333" font-weight="normal" dominant-baseline="central"><tspan font-style="italic">n</tspan> = 1,055</text>
<text x="391.00" y="212.40" font-size="5.2" text-anchor="start" fill="#333" font-weight="normal" dominant-baseline="central"><tspan font-style="italic">n</tspan> = 9,026</text>
<text x="387.30" y="221.40" font-size="6.5" text-anchor="middle" fill="#333" font-weight="normal" dominant-baseline="central">0%</text>
<text x="419.60" y="221.40" font-size="6.5" text-anchor="middle" fill="#333" font-weight="normal" dominant-baseline="central">0.7%</text>
<rect x="433.30" y="202.40" width="6.60" height="5.80" fill="#235f9f" stroke="#666" stroke-width="0.35" rx="0"/>
<rect x="433.30" y="209.30" width="34.30" height="5.80" fill="#5bb974" stroke="#666" stroke-width="0.35" rx="0"/>
<line x1="469.30" y1="201.90" x2="469.30" y2="215.60" stroke="#bbb" stroke-width="0.6"/>
<text x="440.70" y="205.50" font-size="5.2" text-anchor="start" fill="#333" font-weight="normal" dominant-baseline="central"><tspan font-style="italic">n</tspan> = 1,263</text>
<text x="438.80" y="212.40" font-size="5.2" text-anchor="start" fill="#333" font-weight="normal" dominant-baseline="central"><tspan font-style="italic">n</tspan> = 5,464</text>
<text x="436.20" y="221.40" font-size="6.5" text-anchor="middle" fill="#333" font-weight="normal" dominant-baseline="central">0%</text>
<text x="467.80" y="221.40" font-size="6.5" text-anchor="middle" fill="#333" font-weight="normal" dominant-baseline="central">0.7%</text>
<rect x="481.00" y="202.40" width="7.60" height="5.80" fill="#235f9f" stroke="#666" stroke-width="0.35" rx="0"/>
<rect x="481.00" y="209.30" width="25.10" height="5.80" fill="#5bb974" stroke="#666" stroke-width="0.35" rx="0"/>
<line x1="517.70" y1="201.90" x2="517.70" y2="215.60" stroke="#bbb" stroke-width="0.6"/>
<text x="489.40" y="205.50" font-size="5.2" text-anchor="start" fill="#333" font-weight="normal" dominant-baseline="central"><tspan font-style="italic">n</tspan> = 1,514</text>
<text x="486.50" y="212.40" font-size="5.2" text-anchor="start" fill="#333" font-weight="normal" dominant-baseline="central"><tspan font-style="italic">n</tspan> = 5,288</text>
<text x="484.20" y="221.40" font-size="6.5" text-anchor="middle" fill="#333" font-weight="normal" dominant-baseline="central">0%</text>
<text x="517.00" y="221.40" font-size="6.5" text-anchor="middle" fill="#333" font-weight="normal" dominant-baseline="central">0.7%</text>
<rect x="536.80" y="202.40" width="4.40" height="5.80" fill="#235f9f" stroke="#666" stroke-width="0.35" rx="0"/>
<rect x="536.80" y="209.30" width="12.00" height="5.80" fill="#5bb974" stroke="#666" stroke-width="0.35" rx="0"/>
<line x1="571.80" y1="201.90" x2="571.80" y2="215.60" stroke="#bbb" stroke-width="0.6"/>
<text x="542.00" y="205.50" font-size="5.2" text-anchor="start" fill="#333" font-weight="normal" dominant-baseline="central"><tspan font-style="italic">n</tspan> = 517</text>
<text x="549.60" y="212.40" font-size="5.2" text-anchor="start" fill="#333" font-weight="normal" dominant-baseline="central"><tspan font-style="italic">n</tspan> = 1,708</text>
<text x="539.50" y="221.40" font-size="6.5" text-anchor="middle" fill="#333" font-weight="normal" dominant-baseline="central">0%</text>
<text x="570.70" y="221.40" font-size="6.5" text-anchor="middle" fill="#333" font-weight="normal" dominant-baseline="central">0.7%</text>
<rect x="583.90" y="202.40" width="4.80" height="5.80" fill="#235f9f" stroke="#666" stroke-width="0.35" rx="0"/>
<rect x="583.90" y="209.30" width="9.80" height="5.80" fill="#5bb974" stroke="#666" stroke-width="0.35" rx="0"/>
<line x1="620.60" y1="201.90" x2="620.60" y2="215.60" stroke="#bbb" stroke-width="0.6"/>
<text x="589.50" y="205.50" font-size="5.2" text-anchor="start" fill="#333" font-weight="normal" dominant-baseline="central"><tspan font-style="italic">n</tspan> = 852</text>
<text x="594.50" y="212.40" font-size="5.2" text-anchor="start" fill="#333" font-weight="normal" dominant-baseline="central"><tspan font-style="italic">n</tspan> = 1,929</text>
<text x="588.00" y="221.40" font-size="6.5" text-anchor="middle" fill="#333" font-weight="normal" dominant-baseline="central">0%</text>
<text x="616.60" y="221.40" font-size="6.5" text-anchor="middle" fill="#333" font-weight="normal" dominant-baseline="central">0.7%</text>
<rect x="630.60" y="202.40" width="5.40" height="5.80" fill="#235f9f" stroke="#666" stroke-width="0.35" rx="0"/>
<rect x="630.60" y="209.30" width="13.70" height="5.80" fill="#5bb974" stroke="#666" stroke-width="0.35" rx="0"/>
<line x1="669.20" y1="201.90" x2="669.20" y2="215.60" stroke="#bbb" stroke-width="0.6"/>
<text x="636.80" y="205.50" font-size="5.2" text-anchor="start" fill="#333" font-weight="normal" dominant-baseline="central"><tspan font-style="italic">n</tspan> = 1,043</text>
<text x="645.10" y="212.40" font-size="5.2" text-anchor="start" fill="#333" font-weight="normal" dominant-baseline="central"><tspan font-style="italic">n</tspan> = 2,833</text>
<text x="634.50" y="221.40" font-size="6.5" text-anchor="middle" fill="#333" font-weight="normal" dominant-baseline="central">0%</text>
<text x="669.00" y="221.40" font-size="6.5" text-anchor="middle" fill="#333" font-weight="normal" dominant-baseline="central">0.7%</text>
<text x="527.00" y="232.30" font-size="6.55" text-anchor="middle" fill="#333" font-weight="normal" dominant-baseline="central">Abundance of mRNA-1273 reads (relative to endogenous)</text>
<text x="1.00" y="241.90" font-size="11" text-anchor="start" fill="#111" font-weight="bold" dominant-baseline="central">c</text>
<circle cx="35.50" cy="245.60" r="2.5" fill="#235f9f"/>
<text x="43.30" y="245.30" font-size="6.3" text-anchor="start" fill="#333" font-weight="normal" dominant-baseline="central">Poly(A) + m<tspan font-size="4" dy="-1.8">1</tspan><tspan dy="1.8">ΨCmΨAG</tspan></text>
<circle cx="120.90" cy="245.60" r="2.5" fill="#5bb974"/>
<text x="127.20" y="245.30" font-size="6.3" text-anchor="start" fill="#333" font-weight="normal" dominant-baseline="central">Poly(A)</text>
<text x="92.00" y="256.60" font-size="6.5" text-anchor="middle" fill="#333" font-weight="normal" dominant-baseline="central">siRNA</text>
<line x1="32.00" y1="261.90" x2="152.00" y2="261.90" stroke="#111" stroke-width="1.3"/>
<text x="64.40" y="267.40" font-size="6.5" text-anchor="middle" fill="#333" font-weight="normal" dominant-baseline="central">Mock</text>
<text x="118.80" y="267.40" font-size="6.5" text-anchor="middle" fill="#333" font-weight="normal" font-style="italic" dominant-baseline="central">TENT5A</text>
<rect x="32.00" y="271.80" width="120.30" height="86.00" fill="#e0e1f1" rx="0"/>
<rect x="32.00" y="370.60" width="120.30" height="43.40" fill="#fde6dc" rx="0"/>
<line x1="32.00" y1="271.80" x2="32.00" y2="414.00" stroke="#555" stroke-width="0.8"/>
<line x1="28.80" y1="278.30" x2="32.00" y2="278.30" stroke="#555" stroke-width="0.7"/>
<text x="25.80" y="278.50" font-size="6.4" text-anchor="end" fill="#333" font-weight="normal" dominant-baseline="central">300</text>
<line x1="28.80" y1="321.40" x2="32.00" y2="321.40" stroke="#555" stroke-width="0.7"/>
<text x="25.80" y="321.60" font-size="6.4" text-anchor="end" fill="#333" font-weight="normal" dominant-baseline="central">200</text>
<line x1="28.80" y1="364.40" x2="32.00" y2="364.40" stroke="#555" stroke-width="0.7"/>
<text x="25.80" y="364.60" font-size="6.4" text-anchor="end" fill="#333" font-weight="normal" dominant-baseline="central">100</text>
<line x1="28.80" y1="407.60" x2="32.00" y2="407.60" stroke="#555" stroke-width="0.7"/>
<text x="25.80" y="407.80" font-size="6.4" text-anchor="end" fill="#333" font-weight="normal" dominant-baseline="central">0</text>
<line x1="31.60" y1="414.00" x2="152.30" y2="414.00" stroke="#555" stroke-width="0.9"/>
<text x="4.60" y="344.00" font-size="6.4" text-anchor="middle" fill="#333" font-weight="normal" transform="rotate(-90 4.6 344.0)" dominant-baseline="central">Poly(A) length</text>
<path d="M64.75,291.00 L63.9,291.0 63.9,291.5 63.9,292.0 63.9,292.5 63.9,293.0 63.9,293.5 63.9,294.0 63.9,294.5 63.9,295.0 63.9,295.5 63.9,296.0 63.9,296.5 63.9,297.0 63.9,297.5 63.9,298.0 63.9,298.5 63.9,299.0 63.9,299.5 63.9,300.0 63.9,300.5 63.9,301.0 63.9,301.5 63.9,302.0 63.9,302.5 63.9,303.0 63.9,303.5 63.9,304.0 63.9,304.5 63.9,305.0 63.9,305.5 63.9,306.0 63.9,306.5 63.9,307.0 63.9,307.5 63.9,308.0 63.9,308.5 63.9,309.0 63.9,309.5 63.9,310.0 63.9,310.5 63.9,311.0 63.9,311.5 63.9,312.0 63.9,312.5 63.9,313.0 63.9,313.5 63.9,314.0 63.9,314.5 63.9,315.0 63.9,315.5 63.8,316.0 63.8,316.5 63.8,317.0 63.8,317.5 63.7,318.0 63.7,318.5 63.7,319.0 63.7,319.5 63.6,320.0 63.6,320.5 63.6,321.0 63.5,321.5 63.5,322.0 63.4,322.5 63.4,323.0 63.4,323.5 63.3,324.0 63.3,324.5 63.3,325.0 63.2,325.5 63.2,326.0 63.2,326.5 63.2,327.0 63.1,327.5 63.1,328.0 63.1,328.5 63.0,329.0 63.0,329.5 63.0,330.0 62.9,330.5 62.9,331.0 62.9,331.5 62.8,332.0 62.8,332.5 62.8,333.0 62.7,333.5 62.7,334.0 62.7,334.5 62.6,335.0 62.6,335.5 62.5,336.0 62.5,336.5 62.4,337.0 62.4,337.5 62.3,338.0 62.3,338.5 62.2,339.0 62.2,339.5 62.1,340.0 62.1,340.5 62.0,341.0 62.0,341.5 62.0,342.0 61.9,342.5 62.4,343.0 61.3,343.5 62.1,344.0 61.7,344.5 61.6,345.0 61.1,345.5 61.5,346.0 61.6,346.5 61.6,347.0 61.2,347.5 60.5,348.0 60.8,348.5 59.9,349.0 60.4,349.5 59.6,350.0 59.2,350.5 58.9,351.0 58.4,351.5 58.1,352.0 57.7,352.5 58.2,353.0 56.7,353.5 57.0,354.0 55.5,354.5 55.2,355.0 55.1,355.5 53.9,356.0 53.3,356.5 52.4,357.0 52.1,357.5 52.0,358.0 51.5,358.5 50.2,359.0 49.5,359.5 49.0,360.0 48.3,360.5 47.8,361.0 47.2,361.5 45.9,362.0 45.6,362.5 44.2,363.0 44.0,363.5 43.2,364.0 43.0,364.5 43.4,365.0 43.8,365.5 44.6,366.0 46.0,366.5 45.8,367.0 47.5,367.5 47.6,368.0 49.4,368.5 49.3,369.0 50.3,369.5 51.8,370.0 52.7,370.5 54.3,371.0 55.0,371.5 56.9,372.0 57.5,372.5 57.9,373.0 59.0,373.5 59.2,374.0 59.9,374.5 60.4,375.0 60.1,375.5 60.9,376.0 60.8,376.5 61.5,377.0 61.8,377.5 61.9,378.0 62.1,378.5 62.2,379.0 62.3,379.5 62.4,380.0 62.5,380.5 62.6,381.0 62.6,381.5 62.7,382.0 62.8,382.5 62.9,383.0 63.0,383.5 63.0,384.0 63.1,384.5 63.2,385.0 63.3,385.5 63.3,386.0 63.4,386.5 63.4,387.0 63.5,387.5 63.5,388.0 63.6,388.5 63.6,389.0 63.6,389.5 63.6,390.0 63.6,390.5 63.6,391.0 63.6,391.5 63.6,392.0 63.6,392.5 63.6,393.0 63.6,393.5 63.6,394.0 63.6,394.5 63.6,395.0 63.6,395.5 63.6,396.0 63.6,396.5 63.6,397.0 63.6,397.5 63.6,398.0 63.6,398.5 63.6,399.0 63.6,399.5 63.6,400.0 63.6,400.5 63.6,401.0 63.6,401.5 63.6,402.0 63.6,402.5 63.6,403.0 63.6,403.5 63.6,404.0 63.6,404.5 63.6,405.0 63.6,405.5 63.6,406.0 62.9,406.5 62.2,407.0 62.2,407.5 62.2,408.0 62.2,408.5 62.2,409.0 64.1,409.3 L64.75,409.30 Z" fill="#235f9f"/>
<path d="M64.40,291.00 L65.0,291.0 65.0,291.5 65.0,292.0 65.0,292.5 65.0,293.0 65.0,293.5 65.1,294.0 65.1,294.5 65.1,295.0 65.1,295.5 65.2,296.0 65.2,296.5 65.2,297.0 65.2,297.5 65.3,298.0 65.3,298.5 65.3,299.0 65.4,299.5 65.4,300.0 65.4,300.5 65.5,301.0 65.5,301.5 65.6,302.0 65.6,302.5 65.7,303.0 65.8,303.5 65.8,304.0 65.9,304.5 66.0,305.0 66.0,305.5 66.1,306.0 66.2,306.5 66.3,307.0 66.4,307.5 66.5,308.0 66.6,308.5 66.7,309.0 66.8,309.5 66.9,310.0 67.4,310.5 66.6,311.0 67.6,311.5 67.6,312.0 67.9,312.5 67.1,313.0 67.2,313.5 67.3,314.0 67.9,314.5 68.3,315.0 68.0,315.5 68.0,316.0 68.5,316.5 68.0,317.0 68.4,317.5 69.1,318.0 68.7,318.5 69.6,319.0 69.3,319.5 69.5,320.0 69.5,320.5 70.3,321.0 70.1,321.5 70.2,322.0 70.9,322.5 71.4,323.0 70.8,323.5 71.4,324.0 72.0,324.5 71.9,325.0 72.7,325.5 72.9,326.0 73.0,326.5 73.1,327.0 73.4,327.5 73.7,328.0 73.4,328.5 74.3,329.0 74.7,329.5 75.2,330.0 75.0,330.5 75.4,331.0 75.9,331.5 76.2,332.0 76.5,332.5 76.0,333.0 76.8,333.5 76.7,334.0 76.8,334.5 78.0,335.0 78.3,335.5 78.5,336.0 78.5,336.5 79.5,337.0 79.1,337.5 80.0,338.0 80.1,338.5 80.6,339.0 80.5,339.5 81.2,340.0 81.6,340.5 81.6,341.0 81.6,341.5 82.1,342.0 81.9,342.5 82.4,343.0 82.7,343.5 83.2,344.0 83.5,344.5 83.4,345.0 84.0,345.5 84.3,346.0 83.7,346.5 84.4,347.0 84.6,347.5 84.8,348.0 85.0,348.5 84.8,349.0 84.9,349.5 85.0,350.0 85.0,350.5 85.2,351.0 86.1,351.5 85.6,352.0 85.8,352.5 85.7,353.0 86.2,353.5 85.9,354.0 85.4,354.5 86.0,355.0 86.1,355.5 85.8,356.0 85.2,356.5 85.5,357.0 86.0,357.5 85.6,358.0 85.0,358.5 85.7,359.0 85.5,359.5 85.2,360.0 85.5,360.5 85.7,361.0 85.0,361.5 85.9,362.0 85.9,362.5 85.6,363.0 85.5,363.5 85.9,364.0 85.2,364.5 85.1,365.0 85.4,365.5 85.7,366.0 85.8,366.5 85.6,367.0 85.0,367.5 85.6,368.0 85.0,368.5 85.2,369.0 85.4,369.5 84.6,370.0 83.9,370.5 83.8,371.0 82.9,371.5 83.0,372.0 82.5,372.5 82.2,373.0 81.9,373.5 80.9,374.0 80.7,374.5 80.5,375.0 80.9,375.5 79.9,376.0 79.5,376.5 79.8,377.0 79.4,377.5 79.2,378.0 79.1,378.5 79.6,379.0 79.2,379.5 78.9,380.0 79.1,380.5 78.4,381.0 77.5,381.5 78.0,382.0 77.3,382.5 76.1,383.0 75.2,383.5 74.1,384.0 73.0,384.5 72.7,385.0 72.4,385.5 71.2,386.0 70.3,386.5 70.1,387.0 69.9,387.5 69.6,388.0 68.8,388.5 68.8,389.0 67.6,389.5 68.1,390.0 67.0,390.5 67.4,391.0 66.8,391.5 67.1,392.0 66.8,392.5 66.7,393.0 66.6,393.5 66.5,394.0 66.4,394.5 66.3,395.0 66.2,395.5 66.1,396.0 66.1,396.5 66.0,397.0 65.9,397.5 65.9,398.0 65.8,398.5 65.8,399.0 65.8,399.5 65.7,400.0 65.7,400.5 65.7,401.0 65.7,401.5 65.7,402.0 65.7,402.5 65.7,403.0 65.7,403.5 65.7,404.0 65.7,404.5 65.7,405.0 65.7,405.5 65.7,406.0 65.7,406.5 65.6,407.0 65.6,407.5 65.6,408.0 65.6,408.5 65.6,409.0 64.7,409.3 L64.40,409.30 Z" fill="#5bb974"/>
<path d="M119.25,292.00 L118.2,292.0 118.2,292.5 118.2,293.0 118.2,293.5 118.2,294.0 118.2,294.5 118.2,295.0 118.2,295.5 118.2,296.0 118.2,296.5 118.2,297.0 118.2,297.5 118.2,298.0 118.2,298.5 118.2,299.0 118.2,299.5 118.2,300.0 118.3,300.5 118.3,301.0 118.3,301.5 118.3,302.0 118.3,302.5 118.3,303.0 118.3,303.5 118.3,304.0 118.3,304.5 118.3,305.0 118.3,305.5 118.3,306.0 118.3,306.5 118.3,307.0 118.3,307.5 118.3,308.0 118.3,308.5 118.3,309.0 118.3,309.5 118.3,310.0 118.3,310.5 118.3,311.0 118.3,311.5 118.3,312.0 118.3,312.5 118.3,313.0 118.3,313.5 118.3,314.0 118.3,314.5 118.3,315.0 118.3,315.5 118.3,316.0 118.3,316.5 118.3,317.0 118.3,317.5 118.3,318.0 118.3,318.5 118.3,319.0 118.3,319.5 118.3,320.0 118.3,320.5 118.3,321.0 118.3,321.5 118.3,322.0 118.3,322.5 118.3,323.0 118.3,323.5 118.3,324.0 118.3,324.5 118.3,325.0 118.3,325.5 118.3,326.0 118.3,326.5 118.3,327.0 118.3,327.5 118.3,328.0 118.3,328.5 118.3,329.0 118.3,329.5 118.3,330.0 118.3,330.5 118.3,331.0 118.3,331.5 118.3,332.0 118.3,332.5 118.3,333.0 118.3,333.5 118.3,334.0 118.2,334.5 118.2,335.0 118.2,335.5 118.1,336.0 118.1,336.5 118.0,337.0 117.9,337.5 117.8,338.0 117.8,338.5 117.7,339.0 117.6,339.5 117.5,340.0 117.4,340.5 117.3,341.0 117.2,341.5 117.1,342.0 116.9,342.5 116.8,343.0 116.6,343.5 116.5,344.0 115.8,344.5 116.0,345.0 116.4,345.5 115.3,346.0 115.3,346.5 115.5,347.0 114.7,347.5 115.0,348.0 114.3,348.5 114.4,349.0 113.3,349.5 113.1,350.0 112.8,350.5 112.1,351.0 111.6,351.5 111.8,352.0 111.4,352.5 111.3,353.0 109.8,353.5 109.8,354.0 109.2,354.5 108.7,355.0 108.7,355.5 107.6,356.0 107.2,356.5 106.7,357.0 106.5,357.5 105.8,358.0 105.4,358.5 104.5,359.0 103.9,359.5 102.8,360.0 101.9,360.5 101.4,361.0 100.7,361.5 99.8,362.0 98.9,362.5 98.6,363.0 97.4,363.5 97.2,364.0 97.8,364.5 97.7,365.0 97.4,365.5 97.9,366.0 99.1,366.5 100.2,367.0 101.0,367.5 101.8,368.0 102.6,368.5 104.0,369.0 105.0,369.5 105.6,370.0 107.1,370.5 107.9,371.0 108.7,371.5 109.6,372.0 109.8,372.5 110.6,373.0 111.9,373.5 112.9,374.0 114.0,374.5 114.3,375.0 115.5,375.5 115.6,376.0 115.7,376.5 115.9,377.0 116.6,377.5 116.8,378.0 117.1,378.5 117.2,379.0 117.4,379.5 117.4,380.0 117.5,380.5 117.5,381.0 117.6,381.5 117.6,382.0 117.6,382.5 117.7,383.0 117.7,383.5 117.7,384.0 117.8,384.5 117.8,385.0 117.8,385.5 117.8,386.0 117.8,386.5 117.9,387.0 117.9,387.5 117.9,388.0 117.9,388.5 117.9,389.0 117.9,389.5 117.9,390.0 117.9,390.5 117.9,391.0 117.9,391.5 117.9,392.0 117.9,392.5 117.9,393.0 117.9,393.5 117.9,394.0 117.9,394.5 117.9,395.0 117.9,395.5 117.9,396.0 117.9,396.5 117.9,397.0 117.9,397.5 117.9,398.0 117.9,398.5 117.9,399.0 117.9,399.5 117.9,400.0 117.9,400.5 117.9,401.0 117.9,401.5 117.9,402.0 117.9,402.5 117.9,403.0 117.9,403.5 117.9,404.0 117.9,404.5 117.9,405.0 117.9,405.5 117.9,406.0 116.9,406.5 116.9,407.0 116.9,407.5 116.9,408.0 116.9,408.5 117.9,409.0 118.6,409.1 L119.25,409.10 Z" fill="#235f9f"/>
<path d="M118.90,292.00 L119.5,292.0 119.5,292.5 119.5,293.0 119.5,293.5 119.5,294.0 119.5,294.5 119.5,295.0 119.5,295.5 119.5,296.0 119.5,296.5 119.5,297.0 119.5,297.5 119.5,298.0 119.5,298.5 119.5,299.0 119.5,299.5 119.5,300.0 119.5,300.5 119.5,301.0 119.5,301.5 119.5,302.0 119.5,302.5 119.5,303.0 119.5,303.5 119.5,304.0 119.5,304.5 119.5,305.0 119.5,305.5 119.5,306.0 119.5,306.5 119.5,307.0 119.5,307.5 119.5,308.0 119.5,308.5 119.5,309.0 119.5,309.5 119.5,310.0 119.5,310.5 119.5,311.0 119.5,311.5 119.5,312.0 119.5,312.5 119.5,313.0 119.5,313.5 119.5,314.0 119.5,314.5 119.5,315.0 119.5,315.5 119.5,316.0 119.5,316.5 119.5,317.0 119.5,317.5 119.6,318.0 119.6,318.5 119.6,319.0 119.6,319.5 119.6,320.0 119.6,320.5 119.6,321.0 119.6,321.5 119.6,322.0 119.6,322.5 119.6,323.0 119.6,323.5 119.6,324.0 119.6,324.5 119.6,325.0 119.6,325.5 119.6,326.0 119.6,326.5 119.6,327.0 119.6,327.5 119.7,328.0 119.7,328.5 119.7,329.0 119.8,329.5 119.8,330.0 119.9,330.5 119.9,331.0 120.0,331.5 120.1,332.0 120.1,332.5 120.2,333.0 120.3,333.5 120.3,334.0 120.4,334.5 120.5,335.0 120.6,335.5 120.7,336.0 120.8,336.5 120.9,337.0 121.0,337.5 121.1,338.0 121.2,338.5 121.3,339.0 121.9,339.5 121.7,340.0 121.2,340.5 122.3,341.0 122.3,341.5 122.8,342.0 122.9,342.5 122.5,343.0 123.3,343.5 123.5,344.0 123.7,344.5 123.0,345.0 124.0,345.5 124.2,346.0 123.9,346.5 124.3,347.0 124.5,347.5 124.7,348.0 125.5,348.5 125.4,349.0 126.5,349.5 126.8,350.0 127.4,350.5 127.6,351.0 127.8,351.5 128.6,352.0 128.5,352.5 128.7,353.0 129.4,353.5 130.1,354.0 129.9,354.5 130.4,355.0 130.9,355.5 131.2,356.0 132.0,356.5 131.4,357.0 132.4,357.5 132.6,358.0 132.9,358.5 133.9,359.0 133.4,359.5 134.3,360.0 135.0,360.5 135.4,361.0 135.2,361.5 135.6,362.0 136.3,362.5 136.4,363.0 136.9,363.5 137.3,364.0 137.7,364.5 138.7,365.0 138.4,365.5 139.1,366.0 138.9,366.5 139.6,367.0 139.8,367.5 140.1,368.0 140.6,368.5 141.4,369.0 141.5,369.5 140.6,370.0 141.2,370.5 140.7,371.0 140.3,371.5 140.7,372.0 140.3,372.5 139.6,373.0 139.7,373.5 139.1,374.0 139.2,374.5 138.6,375.0 138.4,375.5 137.7,376.0 138.0,376.5 137.9,377.0 137.2,377.5 137.6,378.0 137.1,378.5 137.0,379.0 136.1,379.5 136.4,380.0 135.3,380.5 135.3,381.0 134.4,381.5 134.9,382.0 133.5,382.5 133.9,383.0 133.4,383.5 131.9,384.0 131.1,384.5 130.9,385.0 129.9,385.5 129.4,386.0 128.8,386.5 128.7,387.0 127.9,387.5 127.6,388.0 126.9,388.5 126.3,389.0 125.6,389.5 125.6,390.0 125.2,390.5 124.5,391.0 124.8,391.5 123.9,392.0 123.5,392.5 123.3,393.0 122.7,393.5 122.6,394.0 122.0,394.5 122.2,395.0 121.8,395.5 121.2,396.0 121.3,396.5 121.1,397.0 120.9,397.5 120.7,398.0 120.6,398.5 120.4,399.0 120.3,399.5 120.2,400.0 120.1,400.5 120.0,401.0 119.9,401.5 119.9,402.0 119.9,402.5 119.9,403.0 119.9,403.5 119.9,404.0 119.9,404.5 119.9,405.0 119.9,405.5 119.9,406.0 120.4,406.5 120.4,407.0 120.4,407.5 120.4,408.0 120.4,408.5 119.7,409.0 119.2,409.1 L118.90,409.10 Z" fill="#5bb974"/>
<circle cx="118.30" cy="296.00" r="0.95" fill="#235f9f"/>
<circle cx="118.30" cy="304.00" r="0.95" fill="#235f9f"/>
<circle cx="119.50" cy="314.00" r="0.95" fill="#5bb974"/>
<circle cx="118.30" cy="318.00" r="0.95" fill="#235f9f"/>
<line x1="32.00" y1="364.40" x2="152.30" y2="364.40" stroke="#111" stroke-width="1.2" stroke-dasharray="5.7 5.8"/>
<rect x="64.70" y="356.60" width="10.20" height="2.00" fill="#fff" rx="0"/>
<text x="64.70" y="352.60" font-size="6.7" text-anchor="start" fill="#fff" font-weight="normal" dominant-baseline="central" fill-opacity="0.9">116</text>
<rect x="119.20" y="371.40" width="10.50" height="2.00" fill="#fff" rx="0"/>
<text x="119.20" y="367.60" font-size="6.7" text-anchor="start" fill="#fff" font-weight="normal" dominant-baseline="central" fill-opacity="0.9">82</text>
<rect x="71.78" y="315.05" width="21.75" height="7.70" fill="#fff" stroke="#3462ae" stroke-width="0.75" rx="1.3"/>
<text x="82.65" y="319.05" font-size="6.8" text-anchor="middle" fill="#3462ae" font-weight="normal" dominant-baseline="central" stroke="#3462ae" stroke-width="0.1">50.1%</text>
<rect x="126.38" y="315.05" width="21.55" height="7.70" fill="#fff" stroke="#3462ae" stroke-width="0.75" rx="1.3"/>
<text x="137.15" y="319.05" font-size="6.8" text-anchor="middle" fill="#3462ae" font-weight="normal" dominant-baseline="central" stroke="#3462ae" stroke-width="0.1">14.7%</text>
<rect x="71.97" y="392.75" width="20.55" height="7.70" fill="#fff" stroke="#ef8a86" stroke-width="0.75" rx="1.3"/>
<text x="82.25" y="396.75" font-size="6.8" text-anchor="middle" fill="#e44b4b" font-weight="normal" dominant-baseline="central">24.1%</text>
<rect x="126.28" y="392.55" width="21.35" height="7.70" fill="#fff" stroke="#ef8a86" stroke-width="0.75" rx="1.3"/>
<text x="136.95" y="396.55" font-size="6.8" text-anchor="middle" fill="#e44b4b" font-weight="normal" dominant-baseline="central">52.9%</text>
<text x="67.80" y="281.00" font-size="6.5" text-anchor="start" fill="#333" font-weight="normal" dominant-baseline="central"><tspan font-style="italic">P</tspan> = 2.19 × 10<tspan font-size="4" dy="-3.4">−213</tspan></text>
<line x1="64.70" y1="285.50" x2="119.80" y2="285.50" stroke="#444" stroke-width="1.3"/>
<text x="156.60" y="334.60" font-size="6.6" text-anchor="middle" fill="#222" font-weight="normal" transform="rotate(-90 156.6 334.6)" dominant-baseline="central">Re-adenylation</text>
<text x="156.60" y="392.70" font-size="6.6" text-anchor="middle" fill="#222" font-weight="normal" transform="rotate(-90 156.6 392.70000000000005)" dominant-baseline="central">Deadenylation</text>
<line x1="163.00" y1="357.40" x2="163.00" y2="315.30" stroke="#3766b8" stroke-width="1.1"/>
<path d="M161.00,316.00 L163.00,311.80 L165.00,316.00 Z" fill="#3766b8"/>
<line x1="163.00" y1="370.60" x2="163.00" y2="411.30" stroke="#e8474a" stroke-width="1.1"/>
<path d="M161.00,410.60 L163.00,414.80 L165.00,410.60 Z" fill="#e8474a"/>
<rect x="34.20" y="417.90" width="9.20" height="5.00" fill="#235f9f" stroke="#666" stroke-width="0.35" rx="0"/>
<rect x="34.20" y="424.20" width="24.90" height="5.00" fill="#5bb974" stroke="#666" stroke-width="0.35" rx="0"/>
<line x1="70.40" y1="417.40" x2="70.40" y2="429.70" stroke="#bbb" stroke-width="0.6"/>
<text x="44.20" y="420.60" font-size="5.2" text-anchor="start" fill="#333" font-weight="normal" dominant-baseline="central"><tspan font-style="italic">n</tspan> = 1,137</text>
<text x="60.10" y="426.90" font-size="5.2" text-anchor="start" fill="#333" font-weight="normal" dominant-baseline="central"><tspan font-style="italic">n</tspan> = 2,990</text>
<text x="34.10" y="435.20" font-size="6.5" text-anchor="middle" fill="#333" font-weight="normal" dominant-baseline="central">0%</text>
<text x="70.40" y="435.20" font-size="6.5" text-anchor="middle" fill="#333" font-weight="normal" dominant-baseline="central">0.2%</text>
<rect x="95.10" y="417.90" width="11.30" height="5.00" fill="#235f9f" stroke="#666" stroke-width="0.35" rx="0"/>
<rect x="95.10" y="424.20" width="20.50" height="5.00" fill="#5bb974" stroke="#666" stroke-width="0.35" rx="0"/>
<line x1="130.80" y1="417.40" x2="130.80" y2="429.70" stroke="#bbb" stroke-width="0.6"/>
<text x="107.20" y="420.60" font-size="5.2" text-anchor="start" fill="#333" font-weight="normal" dominant-baseline="central"><tspan font-style="italic">n</tspan> = 2,111</text>
<text x="119.10" y="426.90" font-size="5.2" text-anchor="start" fill="#333" font-weight="normal" dominant-baseline="central"><tspan font-style="italic">n</tspan> = 3,645</text>
<text x="95.60" y="435.20" font-size="6.5" text-anchor="middle" fill="#333" font-weight="normal" dominant-baseline="central">0%</text>
<text x="130.80" y="435.20" font-size="6.5" text-anchor="middle" fill="#333" font-weight="normal" dominant-baseline="central">0.2%</text>
<text x="92.00" y="446.90" font-size="6.55" text-anchor="middle" fill="#333" font-weight="normal" dominant-baseline="central">Abundance of mRNA-1273 reads</text>
<text x="92.20" y="454.70" font-size="6.55" text-anchor="middle" fill="#333" font-weight="normal" dominant-baseline="central">(relative to endogenous)</text>
<text x="179.70" y="242.20" font-size="11" text-anchor="start" fill="#111" font-weight="bold" dominant-baseline="central">d</text>
<line x1="210.30" y1="286.40" x2="210.30" y2="404.30" stroke="#555" stroke-width="0.8"/>
<line x1="210.30" y1="404.30" x2="338.50" y2="404.30" stroke="#555" stroke-width="0.8"/>
<line x1="207.60" y1="287.60" x2="210.30" y2="287.60" stroke="#555" stroke-width="0.7"/>
<text x="204.40" y="287.80" font-size="6.3" text-anchor="end" fill="#333" font-weight="normal" dominant-baseline="central">1.25</text>
<line x1="207.60" y1="309.70" x2="210.30" y2="309.70" stroke="#555" stroke-width="0.7"/>
<text x="204.40" y="309.90" font-size="6.3" text-anchor="end" fill="#333" font-weight="normal" dominant-baseline="central">1.00</text>
<line x1="207.60" y1="332.00" x2="210.30" y2="332.00" stroke="#555" stroke-width="0.7"/>
<text x="204.40" y="332.20" font-size="6.3" text-anchor="end" fill="#333" font-weight="normal" dominant-baseline="central">0.75</text>
<line x1="207.60" y1="354.30" x2="210.30" y2="354.30" stroke="#555" stroke-width="0.7"/>
<text x="204.40" y="354.50" font-size="6.3" text-anchor="end" fill="#333" font-weight="normal" dominant-baseline="central">0.50</text>
<line x1="207.60" y1="376.60" x2="210.30" y2="376.60" stroke="#555" stroke-width="0.7"/>
<text x="204.40" y="376.80" font-size="6.3" text-anchor="end" fill="#333" font-weight="normal" dominant-baseline="central">0.25</text>
<line x1="207.60" y1="398.50" x2="210.30" y2="398.50" stroke="#555" stroke-width="0.7"/>
<text x="204.40" y="398.70" font-size="6.3" text-anchor="end" fill="#333" font-weight="normal" dominant-baseline="central">0</text>
<line x1="234.50" y1="404.30" x2="234.50" y2="407.00" stroke="#555" stroke-width="0.7"/>
<text x="234.50" y="413.80" font-size="6.3" text-anchor="middle" fill="#333" font-weight="normal" dominant-baseline="central">24</text>
<line x1="274.40" y1="404.30" x2="274.40" y2="407.00" stroke="#555" stroke-width="0.7"/>
<text x="274.40" y="413.80" font-size="6.3" text-anchor="middle" fill="#333" font-weight="normal" dominant-baseline="central">48</text>
<line x1="314.50" y1="404.30" x2="314.50" y2="407.00" stroke="#555" stroke-width="0.7"/>
<text x="314.50" y="413.80" font-size="6.3" text-anchor="middle" fill="#333" font-weight="normal" dominant-baseline="central">72</text>
<text x="274.60" y="425.20" font-size="6.3" text-anchor="middle" fill="#333" font-weight="normal" dominant-baseline="central">Time (h)</text>
<text x="182.40" y="345.00" font-size="6.6" text-anchor="middle" fill="#333" font-weight="normal" transform="rotate(-90 182.4 345.0)" dominant-baseline="central">Relative abundance of mRNA-1273</text>
<polyline points="234.4,309.8 274.4,353.2 314.5,370.2" fill="none" stroke="#e8302c" stroke-width="1.6"/>
<polyline points="234.4,309.8 274.4,306.8 314.5,327.1" fill="none" stroke="#111" stroke-width="1.6"/>
<circle cx="274.40" cy="348.90" r="2.4" fill="#ee5646" fill-opacity="0.9"/>
<circle cx="274.40" cy="353.00" r="2.4" fill="#ee5646" fill-opacity="0.9"/>
<circle cx="274.40" cy="356.90" r="2.4" fill="#ee5646" fill-opacity="0.9"/>
<circle cx="314.50" cy="367.90" r="2.4" fill="#ee5646" fill-opacity="0.9"/>
<circle cx="314.50" cy="371.00" r="2.4" fill="#ee5646" fill-opacity="0.9"/>
<circle cx="314.50" cy="374.10" r="2.4" fill="#ee5646" fill-opacity="0.9"/>
<circle cx="274.40" cy="294.90" r="2.35" fill="#1c1f2e"/>
<circle cx="274.40" cy="299.90" r="2.35" fill="#1c1f2e"/>
<circle cx="274.40" cy="324.80" r="2.35" fill="#1c1f2e"/>
<circle cx="314.50" cy="318.20" r="2.35" fill="#1c1f2e"/>
<circle cx="314.50" cy="321.70" r="2.35" fill="#1c1f2e"/>
<circle cx="314.50" cy="340.50" r="2.35" fill="#1c1f2e"/>
<circle cx="234.40" cy="309.80" r="2.2" fill="#111"/>
<circle cx="274.40" cy="306.80" r="1.9" fill="#111"/>
<circle cx="314.5" cy="327.1" r="1.7" fill="#fff" stroke="#111" stroke-width="0.9"/>
<rect x="213.90" y="381.00" width="5.80" height="2.90" fill="#111" rx="0"/>
<rect x="213.90" y="391.20" width="5.80" height="2.60" fill="#e8302c" rx="0"/>
<text x="223.20" y="381.80" font-size="6.5" text-anchor="start" fill="#333" font-weight="normal" dominant-baseline="central">WT</text>
<text x="223.20" y="392.00" font-size="6.5" text-anchor="start" fill="#333" font-weight="normal" font-style="italic" dominant-baseline="central">Tent5a<tspan font-size="4" dy="-2.6">flox/flox</tspan><tspan dy="2.6"> Tent5c</tspan><tspan font-size="4" dy="-2.6">−/−</tspan></text>
<text x="349.80" y="241.70" font-size="11" text-anchor="start" fill="#111" font-weight="bold" dominant-baseline="central">e</text>
<circle cx="460.00" cy="254.40" r="2.5" fill="#235f9f"/>
<text x="467.80" y="254.10" font-size="6.3" text-anchor="start" fill="#333" font-weight="normal" dominant-baseline="central">Poly(A) + m<tspan font-size="4" dy="-1.8">1</tspan><tspan dy="1.8">ΨCmΨAG</tspan></text>
<circle cx="545.70" cy="254.40" r="2.5" fill="#5bb974"/>
<text x="552.00" y="254.10" font-size="6.3" text-anchor="start" fill="#333" font-weight="normal" dominant-baseline="central">Poly(A)</text>
<text x="560.20" y="264.80" font-size="6.5" text-anchor="middle" fill="#333" font-weight="normal" dominant-baseline="central">siRNA</text>
<line x1="456.80" y1="270.20" x2="663.20" y2="270.20" stroke="#111" stroke-width="1.3"/>
<text x="412.30" y="283.80" font-size="6.5" text-anchor="middle" fill="#333" font-weight="normal" dominant-baseline="central">RNA</text>
<text x="468.00" y="283.80" font-size="6.5" text-anchor="middle" fill="#333" font-weight="normal" dominant-baseline="central">Mock</text>
<text x="524.00" y="283.80" font-size="6.5" text-anchor="middle" fill="#333" font-weight="normal" font-style="italic" dominant-baseline="central">Tent2</text>
<text x="579.40" y="276.20" font-size="6.5" text-anchor="middle" fill="#333" font-weight="normal" font-style="italic" dominant-baseline="central">Tent4a</text>
<text x="579.40" y="283.80" font-size="6.5" text-anchor="middle" fill="#333" font-weight="normal" font-style="italic" dominant-baseline="central">Tent4b</text>
<text x="635.00" y="276.20" font-size="6.5" text-anchor="middle" fill="#333" font-weight="normal" font-style="italic" dominant-baseline="central">Tent3a</text>
<text x="635.00" y="283.80" font-size="6.5" text-anchor="middle" fill="#333" font-weight="normal" font-style="italic" dominant-baseline="central">Tent3b</text>
<rect x="378.80" y="289.80" width="290.40" height="80.00" fill="#e0e1f1" rx="0"/>
<rect x="378.80" y="381.50" width="290.40" height="39.50" fill="#fde6dc" rx="0"/>
<line x1="378.80" y1="289.80" x2="378.80" y2="421.00" stroke="#555" stroke-width="0.8"/>
<line x1="375.60" y1="296.20" x2="378.80" y2="296.20" stroke="#555" stroke-width="0.7"/>
<text x="372.60" y="296.40" font-size="6.4" text-anchor="end" fill="#333" font-weight="normal" dominant-baseline="central">300</text>
<line x1="375.60" y1="335.90" x2="378.80" y2="335.90" stroke="#555" stroke-width="0.7"/>
<text x="372.60" y="336.10" font-size="6.4" text-anchor="end" fill="#333" font-weight="normal" dominant-baseline="central">200</text>
<line x1="375.60" y1="375.50" x2="378.80" y2="375.50" stroke="#555" stroke-width="0.7"/>
<text x="372.60" y="375.70" font-size="6.4" text-anchor="end" fill="#333" font-weight="normal" dominant-baseline="central">100</text>
<line x1="375.60" y1="415.10" x2="378.80" y2="415.10" stroke="#555" stroke-width="0.7"/>
<text x="372.60" y="415.30" font-size="6.4" text-anchor="end" fill="#333" font-weight="normal" dominant-baseline="central">0</text>
<line x1="378.40" y1="421.00" x2="669.20" y2="421.00" stroke="#555" stroke-width="0.9"/>
<text x="351.80" y="350.20" font-size="6.4" text-anchor="middle" fill="#333" font-weight="normal" transform="rotate(-90 351.8 350.2)" dominant-baseline="central">Poly(A) length</text>
<path d="M412.75,294.00 L410.9,294.0 410.9,294.5 410.9,295.0 410.9,295.5 410.9,296.0 410.9,296.5 410.9,297.0 410.9,297.5 410.9,298.0 410.9,298.5 410.9,299.0 410.9,299.5 410.9,300.0 410.9,300.5 410.9,301.0 410.9,301.5 410.9,302.0 410.9,302.5 410.9,303.0 410.9,303.5 410.9,304.0 410.9,304.5 410.9,305.0 410.9,305.5 410.9,306.0 410.9,306.5 410.9,307.0 410.9,307.5 410.9,308.0 410.9,308.5 410.9,309.0 410.9,309.5 410.9,310.0 410.9,310.5 410.9,311.0 410.9,311.5 410.9,312.0 410.9,312.5 410.9,313.0 410.9,313.5 410.9,314.0 410.9,314.5 410.9,315.0 410.9,315.5 410.9,316.0 410.9,316.5 410.9,317.0 410.9,317.5 410.9,318.0 410.9,318.5 410.9,319.0 410.9,319.5 410.9,320.0 410.9,320.5 410.9,321.0 410.9,321.5 410.9,322.0 410.9,322.5 410.9,323.0 410.9,323.5 410.9,324.0 410.9,324.5 410.9,325.0 410.9,325.5 410.9,326.0 410.9,326.5 410.9,327.0 410.9,327.5 410.9,328.0 410.9,328.5 410.9,329.0 410.9,329.5 410.9,330.0 410.9,330.5 410.9,331.0 410.9,331.5 410.9,332.0 410.9,332.5 410.9,333.0 410.9,333.5 410.9,334.0 410.9,334.5 410.9,335.0 410.9,335.5 410.9,336.0 410.9,336.5 410.9,337.0 410.9,337.5 410.9,338.0 410.9,338.5 410.9,339.0 410.9,339.5 410.9,340.0 410.9,340.5 410.9,341.0 410.9,341.5 410.9,342.0 410.9,342.5 410.9,343.0 410.9,343.5 410.9,344.0 410.9,344.5 410.9,345.0 410.9,345.5 410.9,346.0 410.9,346.5 410.9,347.0 410.9,347.5 410.8,348.0 410.8,348.5 410.8,349.0 410.7,349.5 410.6,350.0 410.6,350.5 410.5,351.0 410.4,351.5 410.4,352.0 410.3,352.5 410.2,353.0 410.1,353.5 410.1,354.0 410.0,354.5 410.0,355.0 409.9,355.5 410.1,356.0 409.3,356.5 409.1,357.0 409.3,357.5 408.9,358.0 409.3,358.5 409.2,359.0 408.9,359.5 408.0,360.0 408.1,360.5 407.4,361.0 407.6,361.5 406.3,362.0 406.1,362.5 405.9,363.0 405.0,363.5 404.8,364.0 403.6,364.5 403.6,365.0 403.2,365.5 401.9,366.0 401.4,366.5 401.0,367.0 400.0,367.5 399.0,368.0 398.1,368.5 397.3,369.0 396.2,369.5 395.2,370.0 393.9,370.5 393.8,371.0 393.0,371.5 392.0,372.0 392.1,372.5 391.1,373.0 390.1,373.5 390.3,374.0 389.5,374.5 389.4,375.0 389.5,375.5 389.4,376.0 390.6,376.5 390.9,377.0 390.7,377.5 392.1,378.0 392.9,378.5 394.1,379.0 394.9,379.5 395.6,380.0 396.7,380.5 398.3,381.0 398.8,381.5 400.4,382.0 401.4,382.5 402.7,383.0 403.3,383.5 404.6,384.0 405.7,384.5 406.7,385.0 407.1,385.5 407.6,386.0 408.4,386.5 408.6,387.0 409.6,387.5 409.3,388.0 410.2,388.5 409.9,389.0 410.1,389.5 410.3,390.0 410.4,390.5 410.6,391.0 410.7,391.5 410.8,392.0 410.9,392.5 411.0,393.0 411.0,393.5 411.1,394.0 411.1,394.5 411.1,395.0 411.1,395.5 411.1,396.0 411.1,396.5 411.1,397.0 411.1,397.5 411.1,398.0 411.1,398.5 411.1,399.0 411.1,399.5 411.1,400.0 411.1,400.5 411.1,401.0 411.1,401.5 411.1,402.0 411.1,402.5 411.1,403.0 411.1,403.5 411.1,404.0 411.1,404.5 411.1,405.0 411.1,405.5 411.1,406.0 411.1,406.5 411.1,407.0 411.1,407.5 411.1,408.0 411.1,408.5 411.1,409.0 411.1,409.5 411.1,410.0 411.1,410.5 411.1,411.0 411.1,411.5 411.1,412.0 410.3,412.5 409.6,413.0 409.6,413.5 409.8,414.0 410.1,414.5 409.3,415.0 409.7,415.5 411.0,416.0 412.1,416.1 L412.75,416.10 Z" fill="#235f9f"/>
<path d="M412.40,294.00 L413.2,294.0 413.2,294.5 413.2,295.0 413.2,295.5 413.2,296.0 413.2,296.5 413.2,297.0 413.2,297.5 413.2,298.0 413.2,298.5 413.2,299.0 413.2,299.5 413.2,300.0 413.2,300.5 413.2,301.0 413.2,301.5 413.2,302.0 413.2,302.5 413.2,303.0 413.2,303.5 413.2,304.0 413.2,304.5 413.2,305.0 413.2,305.5 413.2,306.0 413.2,306.5 413.3,307.0 413.3,307.5 413.3,308.0 413.3,308.5 413.3,309.0 413.3,309.5 413.3,310.0 413.3,310.5 413.3,311.0 413.3,311.5 413.3,312.0 413.3,312.5 413.3,313.0 413.3,313.5 413.3,314.0 413.3,314.5 413.3,315.0 413.3,315.5 413.3,316.0 413.3,316.5 413.3,317.0 413.3,317.5 413.3,318.0 413.3,318.5 413.3,319.0 413.3,319.5 413.3,320.0 413.3,320.5 413.3,321.0 413.3,321.5 413.3,322.0 413.3,322.5 413.3,323.0 413.3,323.5 413.3,324.0 413.3,324.5 413.3,325.0 413.3,325.5 413.3,326.0 413.3,326.5 413.3,327.0 413.3,327.5 413.3,328.0 413.3,328.5 413.3,329.0 413.3,329.5 413.3,330.0 413.3,330.5 413.3,331.0 413.3,331.5 413.3,332.0 413.3,332.5 413.3,333.0 413.3,333.5 413.3,334.0 413.3,334.5 413.3,335.0 413.3,335.5 413.3,336.0 413.3,336.5 413.3,337.0 413.3,337.5 413.3,338.0 413.3,338.5 413.4,339.0 413.4,339.5 413.4,340.0 413.4,340.5 413.4,341.0 413.4,341.5 413.4,342.0 413.4,342.5 413.4,343.0 413.4,343.5 413.4,344.0 413.4,344.5 413.4,345.0 413.4,345.5 413.4,346.0 413.4,346.5 413.4,347.0 413.4,347.5 413.5,348.0 413.5,348.5 413.6,349.0 413.7,349.5 413.8,350.0 413.9,350.5 414.0,351.0 414.1,351.5 414.2,352.0 414.3,352.5 414.4,353.0 414.5,353.5 414.6,354.0 414.8,354.5 414.4,355.0 414.7,355.5 414.7,356.0 415.1,356.5 415.9,357.0 415.7,357.5 415.9,358.0 416.1,358.5 417.1,359.0 417.3,359.5 416.8,360.0 417.4,360.5 418.2,361.0 419.1,361.5 418.8,362.0 419.8,362.5 420.2,363.0 420.4,363.5 421.6,364.0 422.0,364.5 423.2,365.0 423.0,365.5 423.5,366.0 425.0,366.5 425.0,367.0 425.6,367.5 426.8,368.0 427.0,368.5 427.4,369.0 428.0,369.5 428.0,370.0 429.6,370.5 429.3,371.0 430.3,371.5 430.5,372.0 431.3,372.5 432.5,373.0 432.6,373.5 433.3,374.0 433.8,374.5 433.9,375.0 434.5,375.5 435.1,376.0 434.3,376.5 434.1,377.0 433.9,377.5 432.7,378.0 431.7,378.5 430.8,379.0 430.5,379.5 429.1,380.0 428.6,380.5 427.4,381.0 425.8,381.5 424.3,382.0 422.8,382.5 422.3,383.0 421.2,383.5 420.1,384.0 419.2,384.5 418.7,385.0 418.0,385.5 417.6,386.0 416.6,386.5 416.8,387.0 416.2,387.5 415.8,388.0 416.2,388.5 415.1,389.0 415.7,389.5 415.3,390.0 414.5,390.5 414.7,391.0 414.8,391.5 414.7,392.0 414.6,392.5 414.5,393.0 414.5,393.5 414.4,394.0 414.4,394.5 414.4,395.0 414.4,395.5 414.4,396.0 414.4,396.5 414.4,397.0 414.4,397.5 414.4,398.0 414.4,398.5 414.4,399.0 414.4,399.5 414.4,400.0 414.4,400.5 414.4,401.0 414.4,401.5 414.4,402.0 414.4,402.5 414.4,403.0 414.4,403.5 414.4,404.0 414.4,404.5 414.4,405.0 414.4,405.5 414.4,406.0 414.4,406.5 414.4,407.0 414.4,407.5 414.4,408.0 414.4,408.5 414.4,409.0 414.4,409.5 414.4,410.0 414.4,410.5 414.4,411.0 414.4,411.5 414.4,412.0 415.6,412.5 416.3,413.0 416.4,413.5 416.2,414.0 417.1,414.5 416.1,415.0 416.7,415.5 414.3,416.0 412.7,416.1 L412.40,416.10 Z" fill="#5bb974"/>
<path d="M467.85,296.00 L466.5,296.0 466.5,296.5 466.5,297.0 466.5,297.5 466.5,298.0 466.5,298.5 466.5,299.0 466.5,299.5 466.5,300.0 466.5,300.5 466.5,301.0 466.5,301.5 466.5,302.0 466.5,302.5 466.5,303.0 466.5,303.5 466.5,304.0 466.5,304.5 466.5,305.0 466.5,305.5 466.5,306.0 466.5,306.5 466.4,307.0 466.4,307.5 466.4,308.0 466.4,308.5 466.4,309.0 466.4,309.5 466.4,310.0 466.4,310.5 466.4,311.0 466.4,311.5 466.4,312.0 466.4,312.5 466.4,313.0 466.4,313.5 466.4,314.0 466.4,314.5 466.4,315.0 466.4,315.5 466.3,316.0 466.3,316.5 466.3,317.0 466.3,317.5 466.3,318.0 466.3,318.5 466.3,319.0 466.3,319.5 466.3,320.0 466.3,320.5 466.3,321.0 466.3,321.5 466.3,322.0 466.3,322.5 466.3,323.0 466.3,323.5 466.2,324.0 466.2,324.5 466.2,325.0 466.2,325.5 466.2,326.0 466.2,326.5 466.2,327.0 466.2,327.5 466.2,328.0 466.2,328.5 466.2,329.0 466.1,329.5 466.1,330.0 466.1,330.5 466.1,331.0 466.1,331.5 466.1,332.0 466.1,332.5 466.0,333.0 466.0,333.5 466.0,334.0 466.0,334.5 465.9,335.0 465.9,335.5 465.8,336.0 465.8,336.5 465.7,337.0 465.6,337.5 465.5,338.0 465.4,338.5 465.4,339.0 465.3,339.5 465.2,340.0 465.1,340.5 465.0,341.0 464.9,341.5 465.0,342.0 465.2,342.5 465.1,343.0 464.6,343.5 464.3,344.0 464.2,344.5 464.2,345.0 463.9,345.5 463.9,346.0 463.8,346.5 463.7,347.0 464.5,347.5 463.7,348.0 463.3,348.5 463.3,349.0 463.4,349.5 463.3,350.0 463.0,350.5 463.0,351.0 462.9,351.5 463.0,352.0 463.1,352.5 462.5,353.0 463.1,353.5 463.2,354.0 462.4,354.5 462.8,355.0 462.7,355.5 462.6,356.0 462.8,356.5 461.7,357.0 462.0,357.5 462.2,358.0 461.8,358.5 462.0,359.0 461.9,359.5 460.9,360.0 460.7,360.5 460.6,361.0 460.3,361.5 459.6,362.0 459.1,362.5 459.2,363.0 458.4,363.5 457.6,364.0 457.7,364.5 456.4,365.0 456.9,365.5 456.2,366.0 455.8,366.5 455.6,367.0 455.5,367.5 454.5,368.0 454.9,368.5 454.4,369.0 453.4,369.5 453.2,370.0 452.6,370.5 451.4,371.0 450.1,371.5 449.3,372.0 448.4,372.5 447.8,373.0 446.9,373.5 446.4,374.0 445.7,374.5 446.5,375.0 445.9,375.5 446.0,376.0 447.4,376.5 447.1,377.0 447.4,377.5 448.4,378.0 448.7,378.5 449.7,379.0 451.3,379.5 452.0,380.0 453.5,380.5 454.6,381.0 455.9,381.5 457.3,382.0 458.6,382.5 460.2,383.0 461.5,383.5 463.1,384.0 463.7,384.5 464.2,385.0 464.7,385.5 465.4,386.0 465.0,386.5 465.2,387.0 465.3,387.5 465.4,388.0 465.4,388.5 465.5,389.0 465.6,389.5 465.6,390.0 465.7,390.5 465.7,391.0 465.8,391.5 465.8,392.0 465.9,392.5 465.9,393.0 466.0,393.5 466.0,394.0 466.1,394.5 466.1,395.0 466.2,395.5 466.2,396.0 466.3,396.5 466.3,397.0 466.4,397.5 466.4,398.0 466.4,398.5 466.5,399.0 466.5,399.5 466.5,400.0 466.5,400.5 466.5,401.0 466.5,401.5 466.5,402.0 466.5,402.5 466.5,403.0 466.5,403.5 466.5,404.0 466.5,404.5 466.5,405.0 466.5,405.5 466.5,406.0 466.5,406.5 466.5,407.0 466.5,407.5 466.5,408.0 466.5,408.5 466.5,409.0 466.5,409.5 466.5,410.0 466.5,410.5 466.5,411.0 466.5,411.5 466.5,412.0 466.5,412.5 466.5,413.0 466.5,413.5 466.5,414.0 466.5,414.5 466.5,415.0 466.5,415.5 467.2,416.0 L467.85,416.00 Z" fill="#235f9f"/>
<path d="M467.50,296.00 L468.3,296.0 468.3,296.5 468.3,297.0 468.3,297.5 468.3,298.0 468.3,298.5 468.3,299.0 468.3,299.5 468.3,300.0 468.3,300.5 468.3,301.0 468.3,301.5 468.3,302.0 468.3,302.5 468.3,303.0 468.3,303.5 468.3,304.0 468.3,304.5 468.3,305.0 468.3,305.5 468.4,306.0 468.4,306.5 468.4,307.0 468.4,307.5 468.4,308.0 468.4,308.5 468.4,309.0 468.4,309.5 468.4,310.0 468.4,310.5 468.4,311.0 468.4,311.5 468.4,312.0 468.4,312.5 468.5,313.0 468.5,313.5 468.5,314.0 468.5,314.5 468.5,315.0 468.5,315.5 468.5,316.0 468.6,316.5 468.6,317.0 468.7,317.5 468.8,318.0 468.8,318.5 468.9,319.0 469.0,319.5 469.1,320.0 469.1,320.5 469.2,321.0 469.3,321.5 469.4,322.0 469.5,322.5 469.5,323.0 469.6,323.5 469.7,324.0 469.8,324.5 469.9,325.0 470.0,325.5 470.1,326.0 470.0,326.5 470.0,327.0 470.9,327.5 470.2,328.0 470.2,328.5 471.0,329.0 471.3,329.5 470.5,330.0 471.1,330.5 471.0,331.0 471.1,331.5 471.1,332.0 471.4,332.5 471.4,333.0 472.5,333.5 472.1,334.0 472.9,334.5 472.6,335.0 472.7,335.5 473.1,336.0 473.8,336.5 473.5,337.0 474.2,337.5 474.2,338.0 474.4,338.5 475.0,339.0 475.7,339.5 476.0,340.0 475.5,340.5 476.5,341.0 476.2,341.5 476.5,342.0 477.5,342.5 477.1,343.0 477.8,343.5 478.4,344.0 478.4,344.5 479.0,345.0 479.3,345.5 479.3,346.0 479.5,346.5 480.1,347.0 480.3,347.5 480.4,348.0 480.8,348.5 480.8,349.0 481.2,349.5 481.3,350.0 481.5,350.5 482.4,351.0 482.6,351.5 482.4,352.0 482.9,352.5 482.9,353.0 482.8,353.5 483.3,354.0 483.4,354.5 483.8,355.0 484.3,355.5 484.5,356.0 484.6,356.5 485.1,357.0 485.2,357.5 485.5,358.0 485.1,358.5 485.2,359.0 485.6,359.5 486.0,360.0 486.6,360.5 486.4,361.0 486.5,361.5 487.2,362.0 487.1,362.5 487.0,363.0 487.5,363.5 487.0,364.0 487.1,364.5 487.6,365.0 487.9,365.5 488.1,366.0 488.1,366.5 488.4,367.0 487.8,367.5 487.8,368.0 487.9,368.5 488.7,369.0 489.2,369.5 489.2,370.0 489.3,370.5 489.1,371.0 489.3,371.5 490.0,372.0 489.5,372.5 490.3,373.0 490.0,373.5 490.3,374.0 490.2,374.5 490.6,375.0 490.0,375.5 490.0,376.0 489.8,376.5 490.2,377.0 489.7,377.5 489.6,378.0 489.2,378.5 488.6,379.0 488.8,379.5 487.9,380.0 486.9,380.5 486.6,381.0 486.0,381.5 485.1,382.0 485.1,382.5 484.2,383.0 484.2,383.5 484.2,384.0 483.0,384.5 482.6,385.0 482.8,385.5 481.9,386.0 481.1,386.5 480.8,387.0 480.6,387.5 480.5,388.0 479.4,388.5 479.6,389.0 478.4,389.5 478.5,390.0 477.9,390.5 477.9,391.0 477.4,391.5 476.7,392.0 475.9,392.5 475.8,393.0 474.9,393.5 475.0,394.0 474.6,394.5 474.2,395.0 473.4,395.5 473.8,396.0 473.0,396.5 472.9,397.0 472.8,397.5 472.1,398.0 471.8,398.5 472.2,399.0 470.9,399.5 470.9,400.0 471.6,400.5 471.1,401.0 470.4,401.5 470.0,402.0 469.8,402.5 470.7,403.0 470.0,403.5 469.9,404.0 469.7,404.5 469.6,405.0 469.5,405.5 469.3,406.0 469.2,406.5 469.1,407.0 469.0,407.5 468.9,408.0 468.8,408.5 468.8,409.0 468.7,409.5 468.7,410.0 468.7,410.5 468.7,411.0 468.7,411.5 468.7,412.0 468.7,412.5 468.7,413.0 469.5,413.5 469.5,414.0 469.5,414.5 469.5,415.0 469.5,415.5 467.8,416.0 L467.50,416.00 Z" fill="#5bb974"/>
<path d="M523.45,298.50 L522.2,298.5 522.2,299.0 522.2,299.5 522.2,300.0 522.2,300.5 522.2,301.0 522.2,301.5 522.2,302.0 522.2,302.5 522.2,303.0 522.2,303.5 522.2,304.0 522.2,304.5 522.2,305.0 522.2,305.5 522.2,306.0 522.2,306.5 522.2,307.0 522.2,307.5 522.2,308.0 522.2,308.5 522.2,309.0 522.2,309.5 522.2,310.0 522.2,310.5 522.2,311.0 522.2,311.5 522.2,312.0 522.2,312.5 522.2,313.0 522.2,313.5 522.2,314.0 522.2,314.5 522.2,315.0 522.2,315.5 522.2,316.0 522.2,316.5 522.2,317.0 522.2,317.5 522.2,318.0 522.2,318.5 522.2,319.0 522.2,319.5 522.2,320.0 522.2,320.5 522.2,321.0 522.2,321.5 522.2,322.0 522.2,322.5 522.2,323.0 522.2,323.5 522.2,324.0 522.2,324.5 522.2,325.0 522.1,325.5 522.1,326.0 522.1,326.5 522.1,327.0 522.1,327.5 522.1,328.0 522.1,328.5 522.1,329.0 522.1,329.5 522.1,330.0 522.1,330.5 522.1,331.0 522.1,331.5 522.1,332.0 522.1,332.5 522.1,333.0 522.1,333.5 522.1,334.0 522.1,334.5 522.1,335.0 522.0,335.5 522.0,336.0 521.9,336.5 521.8,337.0 521.7,337.5 521.7,338.0 521.6,338.5 521.5,339.0 521.4,339.5 521.3,340.0 521.2,340.5 521.1,341.0 521.1,341.5 521.0,342.0 520.9,342.5 520.9,343.0 520.8,343.5 520.7,344.0 520.6,344.5 520.6,345.0 520.1,345.5 519.9,346.0 520.2,346.5 520.0,347.0 520.4,347.5 520.6,348.0 520.5,348.5 519.7,349.0 519.7,349.5 519.2,350.0 519.3,350.5 518.9,351.0 518.6,351.5 518.3,352.0 518.6,352.5 517.8,353.0 518.0,353.5 517.7,354.0 516.9,354.5 516.9,355.0 516.7,355.5 516.3,356.0 515.9,356.5 515.7,357.0 514.6,357.5 514.6,358.0 514.5,358.5 513.6,359.0 512.9,359.5 513.1,360.0 512.2,360.5 511.9,361.0 511.9,361.5 511.7,362.0 510.8,362.5 510.8,363.0 510.2,363.5 509.8,364.0 508.9,364.5 508.9,365.0 508.8,365.5 508.6,366.0 507.4,366.5 507.9,367.0 507.2,367.5 506.7,368.0 506.4,368.5 505.2,369.0 504.8,369.5 505.0,370.0 504.3,370.5 504.4,371.0 504.2,371.5 503.1,372.0 503.3,372.5 502.8,373.0 502.7,373.5 502.1,374.0 502.4,374.5 502.6,375.0 502.2,375.5 502.4,376.0 503.4,376.5 502.8,377.0 503.7,377.5 504.4,378.0 504.4,378.5 505.7,379.0 505.5,379.5 506.1,380.0 507.5,380.5 508.0,381.0 509.6,381.5 509.9,382.0 511.5,382.5 512.2,383.0 512.7,383.5 513.6,384.0 513.9,384.5 514.4,385.0 515.3,385.5 516.0,386.0 516.6,386.5 516.6,387.0 516.8,387.5 517.3,388.0 517.9,388.5 518.2,389.0 518.5,389.5 518.8,390.0 518.8,390.5 519.1,391.0 518.8,391.5 519.8,392.0 520.2,392.5 519.8,393.0 520.5,393.5 520.2,394.0 520.8,394.5 520.7,395.0 520.8,395.5 521.0,396.0 521.1,396.5 521.3,397.0 521.4,397.5 521.5,398.0 521.6,398.5 521.7,399.0 521.8,399.5 521.9,400.0 521.9,400.5 521.9,401.0 521.9,401.5 521.9,402.0 521.9,402.5 521.9,403.0 521.9,403.5 521.9,404.0 521.9,404.5 521.8,405.0 521.8,405.5 521.8,406.0 521.8,406.5 521.7,407.0 521.7,407.5 521.7,408.0 521.6,408.5 521.6,409.0 521.5,409.5 521.4,410.0 521.4,410.5 521.3,411.0 519.4,411.5 516.1,412.0 513.0,412.5 513.0,413.0 513.4,413.5 513.4,414.0 512.5,414.5 512.9,415.0 512.9,415.5 522.8,415.8 L523.45,415.80 Z" fill="#235f9f" fill-opacity="0.88"/>
<path d="M523.10,298.50 L524.0,298.5 524.0,299.0 524.0,299.5 524.0,300.0 524.0,300.5 524.0,301.0 524.0,301.5 524.0,302.0 524.0,302.5 524.0,303.0 524.0,303.5 524.0,304.0 524.0,304.5 524.0,305.0 524.0,305.5 524.0,306.0 524.0,306.5 524.0,307.0 524.0,307.5 524.0,308.0 524.0,308.5 524.0,309.0 524.0,309.5 524.0,310.0 524.1,310.5 524.1,311.0 524.1,311.5 524.1,312.0 524.1,312.5 524.1,313.0 524.1,313.5 524.1,314.0 524.1,314.5 524.1,315.0 524.1,315.5 524.1,316.0 524.1,316.5 524.1,317.0 524.1,317.5 524.1,318.0 524.2,318.5 524.2,319.0 524.2,319.5 524.2,320.0 524.2,320.5 524.2,321.0 524.2,321.5 524.2,322.0 524.3,322.5 524.3,323.0 524.4,323.5 524.5,324.0 524.6,324.5 524.7,325.0 524.8,325.5 524.9,326.0 525.0,326.5 525.1,327.0 525.2,327.5 525.3,328.0 525.4,328.5 525.5,329.0 525.3,329.5 525.4,330.0 525.4,330.5 526.3,331.0 526.6,331.5 526.8,332.0 527.0,332.5 527.2,333.0 527.4,333.5 527.4,334.0 527.0,334.5 527.4,335.0 527.6,335.5 527.7,336.0 528.1,336.5 528.2,337.0 527.9,337.5 528.6,338.0 529.1,338.5 528.4,339.0 529.5,339.5 529.6,340.0 529.5,340.5 529.3,341.0 529.7,341.5 530.3,342.0 530.1,342.5 530.6,343.0 531.0,343.5 532.2,344.0 532.4,344.5 532.4,345.0 532.7,345.5 532.7,346.0 533.9,346.5 533.5,347.0 534.9,347.5 534.2,348.0 534.7,348.5 535.3,349.0 536.6,349.5 536.7,350.0 537.7,350.5 538.0,351.0 537.8,351.5 539.0,352.0 538.9,352.5 539.3,353.0 540.3,353.5 540.5,354.0 540.7,354.5 541.9,355.0 542.5,355.5 543.0,356.0 543.0,356.5 543.4,357.0 544.4,357.5 545.1,358.0 544.5,358.5 545.5,359.0 545.7,359.5 545.5,360.0 546.7,360.5 546.2,361.0 547.0,361.5 546.9,362.0 547.2,362.5 547.2,363.0 546.5,363.5 546.8,364.0 547.3,364.5 546.4,365.0 546.8,365.5 546.8,366.0 546.0,366.5 545.1,367.0 545.3,367.5 544.6,368.0 544.1,368.5 543.6,369.0 543.8,369.5 543.1,370.0 543.5,370.5 544.0,371.0 544.2,371.5 544.8,372.0 544.9,372.5 545.3,373.0 544.8,373.5 545.4,374.0 544.9,374.5 545.5,375.0 544.9,375.5 544.5,376.0 544.4,376.5 544.7,377.0 544.7,377.5 543.9,378.0 543.6,378.5 543.7,379.0 543.6,379.5 543.3,380.0 542.7,380.5 542.9,381.0 542.6,381.5 541.6,382.0 541.5,382.5 540.9,383.0 540.5,383.5 540.1,384.0 539.9,384.5 539.6,385.0 539.6,385.5 538.9,386.0 539.2,386.5 539.3,387.0 538.6,387.5 538.3,388.0 538.3,388.5 537.7,389.0 536.7,389.5 536.4,390.0 536.5,390.5 536.0,391.0 535.3,391.5 534.9,392.0 533.9,392.5 533.7,393.0 533.1,393.5 532.2,394.0 532.3,394.5 531.4,395.0 530.9,395.5 530.4,396.0 529.6,396.5 529.9,397.0 529.5,397.5 528.6,398.0 528.7,398.5 527.7,399.0 527.6,399.5 527.2,400.0 526.7,400.5 527.0,401.0 526.1,401.5 526.2,402.0 526.0,402.5 525.9,403.0 525.2,403.5 525.5,404.0 525.3,404.5 525.2,405.0 525.1,405.5 525.0,406.0 524.9,406.5 524.9,407.0 524.9,407.5 524.9,408.0 525.0,408.5 525.0,409.0 525.1,409.5 525.1,410.0 525.1,410.5 525.2,411.0 525.2,411.5 525.3,412.0 525.3,412.5 525.3,413.0 525.3,413.5 525.3,414.0 525.3,414.5 525.3,415.0 525.3,415.5 523.4,415.8 L523.10,415.80 Z" fill="#5bb974"/>
<path d="M579.05,302.00 L577.9,302.0 577.9,302.5 577.9,303.0 577.9,303.5 577.9,304.0 577.9,304.5 577.9,305.0 577.9,305.5 577.9,306.0 577.9,306.5 577.9,307.0 577.9,307.5 577.9,308.0 577.9,308.5 577.9,309.0 577.9,309.5 577.9,310.0 577.9,310.5 577.9,311.0 577.9,311.5 577.9,312.0 577.9,312.5 577.9,313.0 577.9,313.5 577.9,314.0 577.9,314.5 577.9,315.0 577.9,315.5 577.9,316.0 577.9,316.5 577.9,317.0 577.9,317.5 577.9,318.0 577.9,318.5 577.9,319.0 577.9,319.5 577.9,320.0 577.9,320.5 577.9,321.0 577.9,321.5 577.9,322.0 577.9,322.5 577.9,323.0 577.9,323.5 577.9,324.0 577.9,324.5 577.9,325.0 577.9,325.5 577.9,326.0 577.9,326.5 577.9,327.0 577.9,327.5 577.9,328.0 577.9,328.5 577.9,329.0 577.9,329.5 577.9,330.0 577.9,330.5 577.9,331.0 577.9,331.5 577.9,332.0 577.9,332.5 577.9,333.0 577.9,333.5 577.9,334.0 577.9,334.5 577.9,335.0 577.9,335.5 577.9,336.0 577.9,336.5 577.9,337.0 577.8,337.5 577.8,338.0 577.8,338.5 577.8,339.0 577.8,339.5 577.8,340.0 577.7,340.5 577.7,341.0 577.7,341.5 577.6,342.0 577.6,342.5 577.5,343.0 577.4,343.5 577.3,344.0 577.2,344.5 577.1,345.0 577.1,345.5 577.0,346.0 576.9,346.5 576.8,347.0 576.7,347.5 576.6,348.0 576.5,348.5 576.4,349.0 576.2,349.5 575.6,350.0 576.2,350.5 575.6,351.0 575.7,351.5 575.2,352.0 575.1,352.5 575.1,353.0 574.8,353.5 575.3,354.0 574.4,354.5 574.1,355.0 574.3,355.5 573.7,356.0 573.6,356.5 573.3,357.0 572.8,357.5 572.0,358.0 572.0,358.5 571.7,359.0 571.4,359.5 571.6,360.0 571.1,360.5 570.6,361.0 569.9,361.5 570.3,362.0 569.6,362.5 570.0,363.0 569.1,363.5 569.0,364.0 568.9,364.5 568.0,365.0 568.0,365.5 567.8,366.0 568.0,366.5 567.2,367.0 566.9,367.5 566.6,368.0 566.1,368.5 566.5,369.0 565.7,369.5 565.4,370.0 565.1,370.5 564.3,371.0 564.7,371.5 564.0,372.0 563.5,372.5 563.1,373.0 563.0,373.5 561.5,374.0 560.0,374.5 558.8,375.0 557.3,375.5 557.4,376.0 557.4,376.5 558.8,377.0 560.2,377.5 561.5,378.0 564.0,378.5 565.4,379.0 566.8,379.5 567.9,380.0 568.7,380.5 570.2,381.0 571.4,381.5 572.0,382.0 572.5,382.5 572.9,383.0 573.4,383.5 573.6,384.0 574.2,384.5 574.0,385.0 574.5,385.5 575.0,386.0 574.7,386.5 574.9,387.0 574.8,387.5 575.9,388.0 575.6,388.5 576.1,389.0 576.2,389.5 576.3,390.0 576.4,390.5 576.2,391.0 576.3,391.5 576.4,392.0 576.5,392.5 576.6,393.0 576.7,393.5 576.8,394.0 576.9,394.5 576.9,395.0 576.9,395.5 577.0,396.0 577.0,396.5 577.1,397.0 577.1,397.5 577.1,398.0 577.2,398.5 577.2,399.0 577.2,399.5 577.3,400.0 577.3,400.5 577.3,401.0 577.3,401.5 577.4,402.0 577.4,402.5 577.4,403.0 577.4,403.5 577.4,404.0 577.4,404.5 577.5,405.0 577.5,405.5 577.5,406.0 577.5,406.5 577.5,407.0 577.5,407.5 577.5,408.0 577.5,408.5 577.5,409.0 577.5,409.5 577.5,410.0 577.4,410.5 577.4,411.0 577.4,411.5 577.3,412.0 577.2,412.5 573.7,413.0 566.7,413.5 567.1,414.0 566.4,414.5 567.1,415.0 566.3,415.5 578.4,415.8 L579.05,415.80 Z" fill="#235f9f" fill-opacity="0.85"/>
<path d="M578.70,302.00 L579.7,302.0 579.7,302.5 579.7,303.0 579.7,303.5 579.7,304.0 579.7,304.5 579.7,305.0 579.7,305.5 579.7,306.0 579.7,306.5 579.7,307.0 579.7,307.5 579.7,308.0 579.7,308.5 579.7,309.0 579.7,309.5 579.7,310.0 579.7,310.5 579.7,311.0 579.7,311.5 579.7,312.0 579.8,312.5 579.8,313.0 579.8,313.5 579.8,314.0 579.8,314.5 579.8,315.0 579.8,315.5 579.8,316.0 579.8,316.5 579.8,317.0 579.8,317.5 579.8,318.0 579.8,318.5 579.9,319.0 579.9,319.5 579.9,320.0 579.9,320.5 579.9,321.0 579.9,321.5 579.9,322.0 579.9,322.5 579.9,323.0 580.0,323.5 580.0,324.0 580.0,324.5 580.0,325.0 580.0,325.5 580.0,326.0 580.0,326.5 580.1,327.0 580.1,327.5 580.1,328.0 580.1,328.5 580.2,329.0 580.2,329.5 580.3,330.0 580.4,330.5 580.6,331.0 580.7,331.5 580.8,332.0 581.0,332.5 581.1,333.0 580.8,333.5 581.2,334.0 581.8,334.5 581.9,335.0 582.0,335.5 582.6,336.0 583.1,336.5 582.9,337.0 583.8,337.5 584.3,338.0 584.4,338.5 585.1,339.0 585.3,339.5 585.2,340.0 586.3,340.5 586.4,341.0 586.5,341.5 587.0,342.0 586.7,342.5 587.5,343.0 588.1,343.5 588.5,344.0 588.2,344.5 588.5,345.0 588.8,345.5 589.8,346.0 590.2,346.5 590.4,347.0 590.2,347.5 591.2,348.0 591.7,348.5 592.6,349.0 592.4,349.5 592.9,350.0 594.3,350.5 594.2,351.0 595.3,351.5 594.9,352.0 595.8,352.5 595.9,353.0 596.8,353.5 597.7,354.0 597.2,354.5 598.2,355.0 597.5,355.5 598.8,356.0 598.6,356.5 598.5,357.0 598.6,357.5 599.0,358.0 598.9,358.5 599.3,359.0 599.2,359.5 600.2,360.0 599.8,360.5 600.6,361.0 600.5,361.5 600.3,362.0 601.0,362.5 600.8,363.0 601.6,363.5 601.4,364.0 601.4,364.5 601.1,365.0 601.9,365.5 601.6,366.0 601.2,366.5 601.5,367.0 601.0,367.5 600.8,368.0 600.2,368.5 600.3,369.0 600.4,369.5 599.8,370.0 600.8,370.5 601.0,371.0 600.9,371.5 600.5,372.0 600.6,372.5 601.2,373.0 601.3,373.5 601.7,374.0 601.8,374.5 601.8,375.0 601.6,375.5 601.8,376.0 601.3,376.5 601.1,377.0 601.3,377.5 601.0,378.0 600.5,378.5 600.2,379.0 600.6,379.5 600.4,380.0 599.9,380.5 599.2,381.0 598.9,381.5 598.4,382.0 598.0,382.5 597.2,383.0 597.2,383.5 596.3,384.0 596.3,384.5 595.2,385.0 595.6,385.5 594.8,386.0 594.4,386.5 594.6,387.0 594.1,387.5 594.0,388.0 594.0,388.5 592.9,389.0 593.0,389.5 592.1,390.0 592.2,390.5 591.4,391.0 590.9,391.5 590.7,392.0 590.1,392.5 589.6,393.0 589.5,393.5 588.2,394.0 587.9,394.5 587.4,395.0 587.5,395.5 587.0,396.0 586.0,396.5 586.5,397.0 585.5,397.5 585.4,398.0 584.8,398.5 584.9,399.0 584.6,399.5 584.0,400.0 584.2,400.5 583.9,401.0 583.2,401.5 582.6,402.0 582.9,402.5 582.4,403.0 581.8,403.5 581.6,404.0 581.9,404.5 582.1,405.0 581.4,405.5 581.1,406.0 581.2,406.5 581.1,407.0 581.0,407.5 580.9,408.0 580.9,408.5 580.8,409.0 580.7,409.5 580.7,410.0 580.6,410.5 580.6,411.0 580.5,411.5 580.5,412.0 580.5,412.5 580.5,413.0 580.5,413.5 580.5,414.0 580.5,414.5 580.5,415.0 580.5,415.5 579.0,415.8 L578.70,415.80 Z" fill="#5bb974"/>
<path d="M634.85,296.00 L633.6,296.0 633.6,296.5 633.6,297.0 633.6,297.5 633.6,298.0 633.6,298.5 633.6,299.0 633.6,299.5 633.6,300.0 633.6,300.5 633.6,301.0 633.6,301.5 633.6,302.0 633.6,302.5 633.6,303.0 633.6,303.5 633.6,304.0 633.6,304.5 633.6,305.0 633.6,305.5 633.6,306.0 633.6,306.5 633.6,307.0 633.6,307.5 633.6,308.0 633.6,308.5 633.6,309.0 633.6,309.5 633.6,310.0 633.6,310.5 633.6,311.0 633.6,311.5 633.6,312.0 633.6,312.5 633.6,313.0 633.6,313.5 633.6,314.0 633.6,314.5 633.6,315.0 633.6,315.5 633.6,316.0 633.6,316.5 633.6,317.0 633.6,317.5 633.6,318.0 633.6,318.5 633.6,319.0 633.6,319.5 633.6,320.0 633.6,320.5 633.6,321.0 633.6,321.5 633.6,322.0 633.6,322.5 633.6,323.0 633.6,323.5 633.6,324.0 633.6,324.5 633.6,325.0 633.6,325.5 633.6,326.0 633.6,326.5 633.6,327.0 633.6,327.5 633.6,328.0 633.6,328.5 633.6,329.0 633.6,329.5 633.6,330.0 633.6,330.5 633.6,331.0 633.6,331.5 633.6,332.0 633.6,332.5 633.5,333.0 633.5,333.5 633.5,334.0 633.5,334.5 633.5,335.0 633.4,335.5 633.4,336.0 633.3,336.5 633.3,337.0 633.2,337.5 633.1,338.0 633.0,338.5 632.9,339.0 632.8,339.5 632.7,340.0 632.6,340.5 632.5,341.0 632.4,341.5 632.4,342.0 632.3,342.5 632.2,343.0 632.1,343.5 632.3,344.0 631.4,344.5 631.5,345.0 631.8,345.5 632.1,346.0 631.8,346.5 631.3,347.0 631.8,347.5 630.7,348.0 630.5,348.5 631.2,349.0 631.1,349.5 630.9,350.0 630.4,350.5 630.4,351.0 630.5,351.5 629.8,352.0 630.3,352.5 630.1,353.0 629.2,353.5 629.9,354.0 629.0,354.5 629.0,355.0 629.1,355.5 628.3,356.0 628.4,356.5 628.5,357.0 627.4,357.5 627.4,358.0 627.7,358.5 627.5,359.0 627.2,359.5 626.3,360.0 627.1,360.5 626.6,361.0 626.6,361.5 626.1,362.0 626.0,362.5 626.6,363.0 626.1,363.5 626.3,364.0 626.3,364.5 626.7,365.0 626.4,365.5 626.1,366.0 625.9,366.5 624.9,367.0 624.5,367.5 624.8,368.0 623.7,368.5 623.4,369.0 623.4,369.5 622.4,370.0 621.6,370.5 620.7,371.0 619.8,371.5 618.8,372.0 618.0,372.5 616.6,373.0 615.3,373.5 614.9,374.0 613.6,374.5 613.1,375.0 613.1,375.5 613.4,376.0 613.5,376.5 613.3,377.0 614.9,377.5 615.5,378.0 616.0,378.5 617.1,379.0 618.4,379.5 619.0,380.0 620.0,380.5 621.3,381.0 622.0,381.5 624.3,382.0 625.5,382.5 626.6,383.0 628.2,383.5 628.0,384.0 628.9,384.5 629.8,385.0 629.5,385.5 629.9,386.0 629.7,386.5 630.1,387.0 630.4,387.5 631.0,388.0 631.2,388.5 631.3,389.0 631.4,389.5 631.5,390.0 631.5,390.5 632.0,391.0 631.2,391.5 632.2,392.0 631.7,392.5 631.5,393.0 632.0,393.5 632.1,394.0 632.2,394.5 632.2,395.0 632.3,395.5 632.4,396.0 632.4,396.5 632.5,397.0 632.5,397.5 632.6,398.0 632.7,398.5 632.7,399.0 632.8,399.5 632.8,400.0 632.9,400.5 632.9,401.0 632.9,401.5 633.0,402.0 633.0,402.5 633.1,403.0 633.1,403.5 633.2,404.0 633.2,404.5 633.3,405.0 633.3,405.5 633.4,406.0 633.4,406.5 633.4,407.0 633.5,407.5 633.5,408.0 633.5,408.5 633.5,409.0 633.5,409.5 633.1,410.0 632.5,410.5 632.0,411.0 631.0,411.5 630.5,412.0 630.2,412.5 630.4,413.0 629.8,413.5 630.1,414.0 629.7,414.5 630.0,415.0 630.2,415.5 634.2,415.8 L634.85,415.80 Z" fill="#235f9f"/>
<path d="M634.50,296.00 L635.4,296.0 635.4,296.5 635.4,297.0 635.4,297.5 635.4,298.0 635.4,298.5 635.4,299.0 635.4,299.5 635.4,300.0 635.4,300.5 635.4,301.0 635.4,301.5 635.4,302.0 635.4,302.5 635.4,303.0 635.4,303.5 635.4,304.0 635.4,304.5 635.4,305.0 635.4,305.5 635.4,306.0 635.4,306.5 635.4,307.0 635.4,307.5 635.4,308.0 635.4,308.5 635.4,309.0 635.4,309.5 635.4,310.0 635.4,310.5 635.4,311.0 635.4,311.5 635.4,312.0 635.4,312.5 635.4,313.0 635.4,313.5 635.4,314.0 635.4,314.5 635.5,315.0 635.5,315.5 635.5,316.0 635.5,316.5 635.5,317.0 635.5,317.5 635.5,318.0 635.5,318.5 635.5,319.0 635.5,319.5 635.5,320.0 635.5,320.5 635.5,321.0 635.5,321.5 635.5,322.0 635.5,322.5 635.6,323.0 635.6,323.5 635.6,324.0 635.7,324.5 635.7,325.0 635.8,325.5 635.8,326.0 635.9,326.5 636.0,327.0 636.0,327.5 636.1,328.0 636.2,328.5 636.2,329.0 636.3,329.5 636.5,330.0 636.6,330.5 636.7,331.0 636.8,331.5 637.0,332.0 637.6,332.5 637.2,333.0 637.5,333.5 637.4,334.0 638.1,334.5 637.5,335.0 638.4,335.5 638.3,336.0 638.4,336.5 638.6,337.0 639.0,337.5 639.0,338.0 639.2,338.5 639.6,339.0 639.9,339.5 640.0,340.0 639.9,340.5 639.9,341.0 640.6,341.5 641.3,342.0 641.0,342.5 641.3,343.0 641.7,343.5 641.6,344.0 642.6,344.5 643.0,345.0 643.3,345.5 643.3,346.0 643.4,346.5 643.6,347.0 644.5,347.5 644.4,348.0 645.0,348.5 644.5,349.0 645.5,349.5 646.0,350.0 645.5,350.5 645.7,351.0 646.3,351.5 646.6,352.0 646.3,352.5 647.2,353.0 647.2,353.5 647.5,354.0 647.6,354.5 647.6,355.0 647.8,355.5 648.5,356.0 649.0,356.5 648.9,357.0 648.8,357.5 649.3,358.0 649.6,358.5 649.7,359.0 649.8,359.5 650.8,360.0 650.6,360.5 651.3,361.0 651.1,361.5 652.0,362.0 652.6,362.5 652.9,363.0 653.3,363.5 654.0,364.0 654.3,364.5 654.2,365.0 654.5,365.5 655.2,366.0 655.5,366.5 655.3,367.0 655.2,367.5 656.0,368.0 656.3,368.5 656.6,369.0 656.8,369.5 656.6,370.0 656.2,370.5 656.8,371.0 657.0,371.5 657.2,372.0 656.9,372.5 656.7,373.0 657.2,373.5 656.5,374.0 656.7,374.5 657.4,375.0 657.5,375.5 656.6,376.0 656.4,376.5 656.8,377.0 656.3,377.5 656.6,378.0 656.5,378.5 656.1,379.0 655.3,379.5 655.4,380.0 654.3,380.5 654.5,381.0 654.2,381.5 653.1,382.0 652.8,382.5 653.0,383.0 651.8,383.5 651.4,384.0 650.7,384.5 650.8,385.0 650.1,385.5 649.9,386.0 649.5,386.5 649.0,387.0 648.9,387.5 647.8,388.0 647.7,388.5 646.9,389.0 646.6,389.5 646.8,390.0 646.0,390.5 645.4,391.0 645.4,391.5 645.3,392.0 645.0,392.5 644.2,393.0 643.4,393.5 643.3,394.0 642.7,394.5 642.6,395.0 642.2,395.5 641.8,396.0 641.9,396.5 641.3,397.0 640.9,397.5 641.2,398.0 640.1,398.5 640.3,399.0 639.8,399.5 639.7,400.0 639.8,400.5 638.8,401.0 638.7,401.5 638.5,402.0 638.5,402.5 638.1,403.0 637.5,403.5 637.8,404.0 637.0,404.5 637.5,405.0 637.0,405.5 636.8,406.0 636.6,406.5 636.5,407.0 636.3,407.5 636.2,408.0 636.1,408.5 636.0,409.0 636.0,409.5 635.9,410.0 635.9,410.5 635.9,411.0 636.1,411.5 636.3,412.0 636.4,412.5 636.5,413.0 636.5,413.5 636.5,414.0 636.5,414.5 636.5,415.0 636.5,415.5 634.8,415.8 L634.50,415.80 Z" fill="#5bb974"/>
<line x1="378.80" y1="375.60" x2="669.20" y2="375.60" stroke="#111" stroke-width="1.2" stroke-dasharray="5.7 5.8"/>
<rect x="412.70" y="374.40" width="10.60" height="2.00" fill="#fff" rx="0"/>
<text x="412.70" y="370.60" font-size="6.7" text-anchor="start" fill="#fff" font-weight="normal" dominant-baseline="central" fill-opacity="0.9">100</text>
<rect x="467.80" y="368.80" width="10.60" height="2.00" fill="#fff" rx="0"/>
<text x="467.80" y="364.80" font-size="6.7" text-anchor="start" fill="#fff" font-weight="normal" dominant-baseline="central" fill-opacity="0.9">114</text>
<rect x="523.40" y="369.30" width="10.60" height="2.00" fill="#fff" rx="0"/>
<text x="523.40" y="365.30" font-size="6.7" text-anchor="start" fill="#fff" font-weight="normal" dominant-baseline="central" fill-opacity="0.9">113</text>
<rect x="579.30" y="369.00" width="10.60" height="2.00" fill="#fff" rx="0"/>
<text x="579.30" y="364.80" font-size="6.7" text-anchor="start" fill="#fff" font-weight="normal" dominant-baseline="central" fill-opacity="0.9">115</text>
<rect x="634.80" y="370.80" width="10.60" height="2.00" fill="#fff" rx="0"/>
<text x="634.80" y="366.60" font-size="6.7" text-anchor="start" fill="#fff" font-weight="normal" dominant-baseline="central" fill-opacity="0.9">109</text>
<rect x="415.68" y="331.20" width="26.65" height="9.20" fill="#fff" stroke="#3462ae" stroke-width="0.75" rx="1.3"/>
<text x="429.00" y="335.95" font-size="7.0" text-anchor="middle" fill="#3462ae" font-weight="normal" dominant-baseline="central" stroke="#3462ae" stroke-width="0.1">23.85%</text>
<rect x="470.98" y="331.20" width="26.85" height="9.20" fill="#fff" stroke="#3462ae" stroke-width="0.75" rx="1.3"/>
<text x="484.40" y="335.95" font-size="7.0" text-anchor="middle" fill="#3462ae" font-weight="normal" dominant-baseline="central" stroke="#3462ae" stroke-width="0.1">49.00%</text>
<rect x="526.58" y="331.20" width="27.45" height="9.20" fill="#fff" stroke="#3462ae" stroke-width="0.75" rx="1.3"/>
<text x="540.30" y="335.95" font-size="7.0" text-anchor="middle" fill="#3462ae" font-weight="normal" dominant-baseline="central" stroke="#3462ae" stroke-width="0.1">47.55%</text>
<rect x="582.27" y="331.20" width="27.35" height="9.20" fill="#fff" stroke="#3462ae" stroke-width="0.75" rx="1.3"/>
<text x="595.95" y="335.95" font-size="7.0" text-anchor="middle" fill="#3462ae" font-weight="normal" dominant-baseline="central" stroke="#3462ae" stroke-width="0.1">48.96%</text>
<rect x="638.17" y="331.20" width="27.05" height="9.20" fill="#fff" stroke="#3462ae" stroke-width="0.75" rx="1.3"/>
<text x="651.70" y="335.95" font-size="7.0" text-anchor="middle" fill="#3462ae" font-weight="normal" dominant-baseline="central" stroke="#3462ae" stroke-width="0.1">44.52%</text>
<rect x="415.68" y="391.10" width="26.65" height="9.00" fill="#fff" stroke="#ef8a86" stroke-width="0.75" rx="1.3"/>
<text x="429.00" y="395.75" font-size="7.0" text-anchor="middle" fill="#e44b4b" font-weight="normal" dominant-baseline="central">22.57%</text>
<rect x="471.38" y="391.10" width="26.85" height="9.00" fill="#fff" stroke="#ef8a86" stroke-width="0.75" rx="1.3"/>
<text x="484.80" y="395.75" font-size="7.0" text-anchor="middle" fill="#e44b4b" font-weight="normal" dominant-baseline="central">24.42%</text>
<rect x="526.98" y="391.10" width="27.05" height="9.00" fill="#fff" stroke="#ef8a86" stroke-width="0.75" rx="1.3"/>
<text x="540.50" y="395.75" font-size="7.0" text-anchor="middle" fill="#e44b4b" font-weight="normal" dominant-baseline="central">25.46%</text>
<rect x="582.58" y="391.10" width="26.85" height="9.00" fill="#fff" stroke="#ef8a86" stroke-width="0.75" rx="1.3"/>
<text x="596.00" y="395.75" font-size="7.0" text-anchor="middle" fill="#e44b4b" font-weight="normal" dominant-baseline="central">25.34%</text>
<rect x="638.58" y="391.10" width="26.85" height="9.00" fill="#fff" stroke="#ef8a86" stroke-width="0.75" rx="1.3"/>
<text x="652.00" y="395.75" font-size="7.0" text-anchor="middle" fill="#e44b4b" font-weight="normal" dominant-baseline="central">27.18%</text>
<text x="386.00" y="292.80" font-size="6.5" text-anchor="start" fill="#333" font-weight="normal" dominant-baseline="central"><tspan font-style="italic">P</tspan> = 2.47 × 10<tspan font-size="4" dy="-3.4">−16</tspan></text>
<text x="504.20" y="292.80" font-size="6.5" text-anchor="start" fill="#333" font-weight="normal" dominant-baseline="central"><tspan font-style="italic">P</tspan> = 0.00028</text>
<text x="563.20" y="292.80" font-size="6.5" text-anchor="start" fill="#333" font-weight="normal" dominant-baseline="central"><tspan font-style="italic">P</tspan> = 0.101</text>
<text x="611.40" y="292.80" font-size="6.5" text-anchor="start" fill="#333" font-weight="normal" dominant-baseline="central"><tspan font-style="italic">P</tspan> = 1.2 × 10<tspan font-size="4" dy="-3.4">−7</tspan></text>
<text x="676.00" y="348.25" font-size="6.6" text-anchor="middle" fill="#222" font-weight="normal" transform="rotate(-90 676.0 348.25)" dominant-baseline="central">Re-adenylation</text>
<text x="676.00" y="401.65" font-size="6.6" text-anchor="middle" fill="#222" font-weight="normal" transform="rotate(-90 676.0 401.65)" dominant-baseline="central">Deadenylation</text>
<line x1="682.70" y1="371.00" x2="682.70" y2="329.00" stroke="#3766b8" stroke-width="1.1"/>
<path d="M680.70,329.70 L682.70,325.50 L684.70,329.70 Z" fill="#3766b8"/>
<line x1="682.70" y1="380.90" x2="682.70" y2="418.90" stroke="#e8474a" stroke-width="1.1"/>
<path d="M680.70,418.20 L682.70,422.40 L684.70,418.20 Z" fill="#e8474a"/>
<line x1="388.60" y1="424.00" x2="388.60" y2="436.00" stroke="#bbb" stroke-width="0.6"/>
<line x1="425.40" y1="424.00" x2="425.40" y2="436.00" stroke="#bbb" stroke-width="0.6"/>
<text x="391.60" y="426.90" font-size="5.2" text-anchor="start" fill="#333" font-weight="normal" dominant-baseline="central"><tspan font-style="italic">n</tspan> = 48,406</text>
<text x="391.60" y="432.90" font-size="5.2" text-anchor="start" fill="#333" font-weight="normal" dominant-baseline="central"><tspan font-style="italic">n</tspan> = 9,837</text>
<rect x="447.20" y="423.60" width="5.80" height="5.00" fill="#235f9f" stroke="#666" stroke-width="0.35" rx="0"/>
<rect x="447.20" y="430.00" width="30.80" height="5.00" fill="#5bb974" stroke="#666" stroke-width="0.35" rx="0"/>
<line x1="483.20" y1="423.10" x2="483.20" y2="435.50" stroke="#bbb" stroke-width="0.6"/>
<text x="453.80" y="426.30" font-size="5.2" text-anchor="start" fill="#333" font-weight="normal" dominant-baseline="central"><tspan font-style="italic">n</tspan> = 521</text>
<text x="452.70" y="432.70" font-size="5.2" text-anchor="start" fill="#333" font-weight="normal" dominant-baseline="central"><tspan font-style="italic">n</tspan> = 2,780</text>
<text x="446.80" y="441.30" font-size="6.5" text-anchor="middle" fill="#333" font-weight="normal" dominant-baseline="central">0%</text>
<text x="483.50" y="441.30" font-size="6.5" text-anchor="middle" fill="#333" font-weight="normal" dominant-baseline="central">0.5%</text>
<rect x="505.50" y="423.60" width="5.30" height="5.00" fill="#235f9f" stroke="#666" stroke-width="0.35" rx="0"/>
<rect x="505.50" y="430.00" width="44.20" height="5.00" fill="#5bb974" stroke="#666" stroke-width="0.35" rx="0"/>
<line x1="541.80" y1="423.10" x2="541.80" y2="435.50" stroke="#bbb" stroke-width="0.6"/>
<text x="511.60" y="426.30" font-size="5.2" text-anchor="start" fill="#333" font-weight="normal" dominant-baseline="central"><tspan font-style="italic">n</tspan> = 531</text>
<text x="511.00" y="432.70" font-size="5.2" text-anchor="start" fill="#333" font-weight="normal" dominant-baseline="central"><tspan font-style="italic">n</tspan> = 4,784</text>
<text x="505.20" y="441.30" font-size="6.5" text-anchor="middle" fill="#333" font-weight="normal" dominant-baseline="central">0%</text>
<text x="542.00" y="441.30" font-size="6.5" text-anchor="middle" fill="#333" font-weight="normal" dominant-baseline="central">0.5%</text>
<rect x="564.10" y="423.60" width="3.40" height="5.00" fill="#235f9f" stroke="#666" stroke-width="0.35" rx="0"/>
<rect x="564.10" y="430.00" width="32.30" height="5.00" fill="#5bb974" stroke="#666" stroke-width="0.35" rx="0"/>
<line x1="599.60" y1="423.10" x2="599.60" y2="435.50" stroke="#bbb" stroke-width="0.6"/>
<text x="568.30" y="426.30" font-size="5.2" text-anchor="start" fill="#333" font-weight="normal" dominant-baseline="central"><tspan font-style="italic">n</tspan> = 257</text>
<text x="569.60" y="432.70" font-size="5.2" text-anchor="start" fill="#333" font-weight="normal" dominant-baseline="central"><tspan font-style="italic">n</tspan> = 2,747</text>
<text x="563.40" y="441.30" font-size="6.5" text-anchor="middle" fill="#333" font-weight="normal" dominant-baseline="central">0%</text>
<text x="599.60" y="441.30" font-size="6.5" text-anchor="middle" fill="#333" font-weight="normal" dominant-baseline="central">0.5%</text>
<rect x="622.40" y="423.60" width="5.60" height="5.00" fill="#235f9f" stroke="#666" stroke-width="0.35" rx="0"/>
<rect x="622.40" y="430.00" width="42.10" height="5.00" fill="#5bb974" stroke="#666" stroke-width="0.35" rx="0"/>
<line x1="658.00" y1="423.10" x2="658.00" y2="435.50" stroke="#bbb" stroke-width="0.6"/>
<text x="628.80" y="426.30" font-size="5.2" text-anchor="start" fill="#333" font-weight="normal" dominant-baseline="central"><tspan font-style="italic">n</tspan> = 612</text>
<text x="627.90" y="432.70" font-size="5.2" text-anchor="start" fill="#333" font-weight="normal" dominant-baseline="central"><tspan font-style="italic">n</tspan> = 4,852</text>
<text x="622.60" y="441.30" font-size="6.5" text-anchor="middle" fill="#333" font-weight="normal" dominant-baseline="central">0%</text>
<text x="657.40" y="441.30" font-size="6.5" text-anchor="middle" fill="#333" font-weight="normal" dominant-baseline="central">0.5%</text>
<text x="523.60" y="452.60" font-size="6.55" text-anchor="middle" fill="#333" font-weight="normal" dominant-baseline="central">Abundance of mRNA-1273 reads (relative to endogenous)</text>
</svg></body></html>
